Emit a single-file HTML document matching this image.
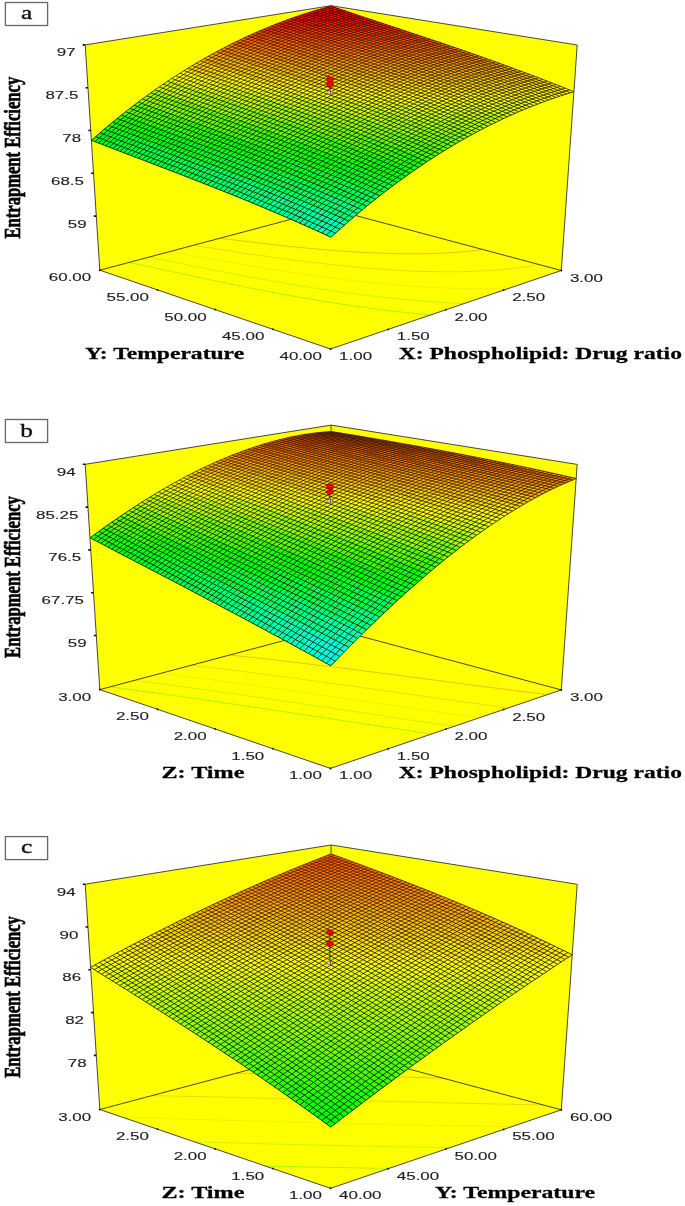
<!DOCTYPE html>
<html><head><meta charset="utf-8"><style>
html,body{margin:0;padding:0;background:#fff;}
svg{display:block;}
text{font-family:"Liberation Sans",Arial,sans-serif;}
.t{font-family:"Liberation Serif","Times New Roman",serif;font-weight:bold;font-size:16.3px;fill:#000;stroke:#000;stroke-width:0.45px;}
.s{font-family:"Liberation Serif","Times New Roman",serif;font-size:18.5px;fill:#111;stroke:#111;stroke-width:0.35px;}
</style></head><body>
<svg width="685" height="1206" viewBox="0 0 685 1206">
<g transform="translate(0 0.0)">
<path fill="#ffff00" d="M99.8 270.2L330.5 208.8L331.1 5.7L85.2 44.9ZM561.3 270.5L330.5 208.8L331.1 5.7L577.2 45ZM330.5 349L561.3 270.5L330.5 208.8L99.8 270.2Z"/>
<path fill="none" stroke="#4ce000" stroke-opacity="0.5" stroke-width="0.85" d="M430.5 315 417.5 313.8 405 312.5 392.5 311 380.5 309.6 368.7 308 356.8 306.4 343.2 304.4 332.2 302.7 318.8 300.5 308.3 298.7 295.4 296.5 282.8 294.2 271.7 292.1 260.6 290 248.7 287.7 236.9 285.3 225.3 282.9 213.8 280.6 202.6 278.2 191.5 275.8 180.5 273.5 169.6 271.1 158.9 268.8 148.2 266.5 137.7 264.2 129.3 262.4"/>
<path fill="none" stroke="#92e000" stroke-opacity="0.5" stroke-width="0.85" d="M463.9 303.6 451.7 303 439.3 302.3 425.9 301.3 414.7 300.4 403.1 299.4 391 298.1 378.4 296.8 365.3 295.2 353 293.6 341.8 292.1 329.6 290.3 317.5 288.5 306.1 286.7 294.1 284.7 281.5 282.6 271.6 280.9 259.4 278.7 247.5 276.5 235.7 274.3 225.8 272.4 214.9 270.3 203.6 268.1 192.4 265.9 181.3 263.7 170.4 261.5 159.5 259.3 148.7 257.2"/>
<path fill="none" stroke="#d8e000" stroke-opacity="0.5" stroke-width="0.85" d="M510 287.9 496.7 288.4 482.6 288.6 468.3 288.6 453.8 288.3 440.3 287.8 426 287.1 412 286.2 399.2 285.3 383.7 283.9 371.7 282.7 357.2 281.1 343 279.5 329.3 277.7 315.8 275.9 302.7 274 289.8 272.1 274.9 269.8 262.4 267.7 250.3 265.7 236 263.3 224.3 261.3 210.4 258.8 199 256.8 185.5 254.4 173.3 252.1 169.9 251.5"/>
<path fill="none" stroke="#e0aa00" stroke-opacity="0.5" stroke-width="0.85" d="M539.5 264.6 526.1 266.8 513.5 268.4 500.9 269.7 487.5 270.7 473.9 271.3 461.3 271.7 446.9 271.8 434.3 271.6 420 271.3 406.4 270.7 393.3 270 380 269.1 365.4 267.9 353.2 266.8 339.2 265.5 325.3 263.9 311.7 262.3 298.4 260.7 285.4 259 272.7 257.2 260.2 255.5 247.9 253.7 235.3 251.8 221.4 249.7 209.6 247.8 198 246 193.4 245.3"/>
<path fill="none" stroke="#e06b00" stroke-opacity="0.5" stroke-width="0.85" d="M483 249.5 472.9 250.8 462 251.9 450.3 252.7 440 253.3 427.7 253.7 417 253.8 405.8 253.8 394 253.6 383.7 253.3 372.9 252.9 361 252.3 349.8 251.6 339.7 250.9 328 250 316.5 249 305.4 248 294.4 246.9 283.7 245.8 273.2 244.6 262.6 243.4 250.4 241.9 239.9 240.7 230 239.4 220.1 238.1"/>
<path fill="none" stroke="#333" stroke-width="0.9" d="M99.8 270.2L85.2 44.9M561.3 270.5L577.2 45M85.2 44.9L331.1 5.7M331.1 5.7L577.2 45M99.8 270.2L330.5 208.8M330.5 208.8L561.3 270.5M330.5 349L561.3 270.5M330.5 349L99.8 270.2M331.1 5.7L330.5 208.8"/>
<path fill="#00ffab" stroke="#00ffab" stroke-width="0.6" d="M330.9 237.2L347.8 222.2 330.9 214.6 314 229.5Z"/>
<path fill="#00ff9e" stroke="#00ff9e" stroke-width="0.6" d="M314 229.5L330.9 214.6 314.3 207.3 297.5 222.2Z"/>
<path fill="#00ff92" stroke="#00ff92" stroke-width="0.6" d="M297.5 222.2L314.3 207.3 297.9 200.3 281.2 215.1Z"/>
<path fill="#00ff87" stroke="#00ff87" stroke-width="0.6" d="M281.2 215.1L297.9 200.3 281.9 193.6 265.1 208.3Z"/>
<path fill="#00ff7c" stroke="#00ff7c" stroke-width="0.6" d="M265.1 208.3L281.9 193.6 266 187.1 249.4 201.7Z"/>
<path fill="#00ff72" stroke="#00ff72" stroke-width="0.6" d="M249.4 201.7L266 187.1 250.5 180.9 233.8 195.4Z"/>
<path fill="#00ff69" stroke="#00ff69" stroke-width="0.6" d="M233.8 195.4L250.5 180.9 235.2 174.8 218.6 189.3Z"/>
<path fill="#00ff60" stroke="#00ff60" stroke-width="0.6" d="M218.6 189.3L235.2 174.8 220.1 169 203.5 183.4Z"/>
<path fill="#00ff58" stroke="#00ff58" stroke-width="0.6" d="M203.5 183.4L220.1 169 205.2 163.3 188.7 177.6Z"/>
<path fill="#00ff4f" stroke="#00ff4f" stroke-width="0.6" d="M188.7 177.6L205.2 163.3 190.6 157.7 174.2 172ZM281.9 193.6L298.4 179.8 282.6 173.4 266 187.1Z"/>
<path fill="#00ff47" stroke="#00ff47" stroke-width="0.6" d="M174.2 172L190.6 157.7 176.2 152.3 159.9 166.5Z"/>
<path fill="#00ff40" stroke="#00ff40" stroke-width="0.6" d="M159.9 166.5L176.2 152.3 162.1 147 145.7 161.1Z"/>
<path fill="#00ff38" stroke="#00ff38" stroke-width="0.6" d="M145.7 161.1L162.1 147 148.1 141.8 131.9 155.8Z"/>
<path fill="#00ff30" stroke="#00ff30" stroke-width="0.6" d="M131.9 155.8L148.1 141.8 134.4 136.6 118.2 150.6ZM380.9 194.8L397.2 182.5 380.2 175.1 364 187.4Z"/>
<path fill="#00ff28" stroke="#00ff28" stroke-width="0.6" d="M118.2 150.6L134.4 136.6 120.8 131.5 104.7 145.4Z"/>
<path fill="#00ff20" stroke="#00ff20" stroke-width="0.6" d="M104.7 145.4L120.8 131.5 107.5 126.4 91.4 140.3ZM205.2 163.3L221.6 149.8 206.9 144.4 190.6 157.7Z"/>
<path fill="#00ff7e" stroke="#00ff7e" stroke-width="0.6" d="M347.8 222.2L364.4 208 347.5 200.5 330.9 214.6Z"/>
<path fill="#00ff71" stroke="#00ff71" stroke-width="0.6" d="M330.9 214.6L347.5 200.5 330.9 193.3 314.3 207.3Z"/>
<path fill="#00ff65" stroke="#00ff65" stroke-width="0.6" d="M314.3 207.3L330.9 193.3 314.5 186.4 297.9 200.3Z"/>
<path fill="#00ff59" stroke="#00ff59" stroke-width="0.6" d="M297.9 200.3L314.5 186.4 298.4 179.8 281.9 193.6Z"/>
<path fill="#00ff44" stroke="#00ff44" stroke-width="0.6" d="M266 187.1L282.6 173.4 266.9 167.2 250.5 180.9Z"/>
<path fill="#00ff3b" stroke="#00ff3b" stroke-width="0.6" d="M250.5 180.9L266.9 167.2 251.6 161.2 235.2 174.8ZM330.9 193.3L347.3 180.3 330.9 173.4 314.5 186.4Z"/>
<path fill="#00ff32" stroke="#00ff32" stroke-width="0.6" d="M235.2 174.8L251.6 161.2 236.5 155.5 220.1 169Z"/>
<path fill="#00ff29" stroke="#00ff29" stroke-width="0.6" d="M220.1 169L236.5 155.5 221.6 149.8 205.2 163.3Z"/>
<path fill="#00ff18" stroke="#00ff18" stroke-width="0.6" d="M190.6 157.7L206.9 144.4 192.5 139 176.2 152.3Z"/>
<path fill="#00ff10" stroke="#00ff10" stroke-width="0.6" d="M176.2 152.3L192.5 139 178.3 133.8 162.1 147ZM266.9 167.2L283.2 154.4 267.8 148.5 251.6 161.2Z"/>
<path fill="#00ff08" stroke="#00ff08" stroke-width="0.6" d="M162.1 147L178.3 133.8 164.2 128.6 148.1 141.8Z"/>
<path fill="#01ff00" stroke="#01ff00" stroke-width="0.6" d="M148.1 141.8L164.2 128.6 150.5 123.5 134.4 136.6Z"/>
<path fill="#0dff00" stroke="#0dff00" stroke-width="0.6" d="M134.4 136.6L150.5 123.5 136.9 118.4 120.8 131.5Z"/>
<path fill="#19ff00" stroke="#19ff00" stroke-width="0.6" d="M120.8 131.5L136.9 118.4 123.5 113.4 107.5 126.4Z"/>
<path fill="#00ff55" stroke="#00ff55" stroke-width="0.6" d="M364.4 208L380.9 194.8 364 187.4 347.5 200.5Z"/>
<path fill="#00ff48" stroke="#00ff48" stroke-width="0.6" d="M347.5 200.5L364 187.4 347.3 180.3 330.9 193.3Z"/>
<path fill="#00ff2f" stroke="#00ff2f" stroke-width="0.6" d="M314.5 186.4L330.9 173.4 314.8 166.9 298.4 179.8Z"/>
<path fill="#00ff24" stroke="#00ff24" stroke-width="0.6" d="M298.4 179.8L314.8 166.9 298.9 160.5 282.6 173.4Z"/>
<path fill="#00ff1a" stroke="#00ff1a" stroke-width="0.6" d="M282.6 173.4L298.9 160.5 283.2 154.4 266.9 167.2Z"/>
<path fill="#00ff06" stroke="#00ff06" stroke-width="0.6" d="M251.6 161.2L267.8 148.5 252.7 142.8 236.5 155.5Z"/>
<path fill="#04ff00" stroke="#04ff00" stroke-width="0.6" d="M236.5 155.5L252.7 142.8 237.7 137.3 221.6 149.8ZM314.8 166.9L331 154.8 315 148.6 298.9 160.5Z"/>
<path fill="#11ff00" stroke="#11ff00" stroke-width="0.6" d="M221.6 149.8L237.7 137.3 223 131.9 206.9 144.4Z"/>
<path fill="#1dff00" stroke="#1dff00" stroke-width="0.6" d="M206.9 144.4L223 131.9 208.6 126.6 192.5 139Z"/>
<path fill="#29ff00" stroke="#29ff00" stroke-width="0.6" d="M192.5 139L208.6 126.6 194.3 121.4 178.3 133.8Z"/>
<path fill="#36ff00" stroke="#36ff00" stroke-width="0.6" d="M178.3 133.8L194.3 121.4 180.2 116.3 164.2 128.6Z"/>
<path fill="#42ff00" stroke="#42ff00" stroke-width="0.6" d="M164.2 128.6L180.2 116.3 166.4 111.2 150.5 123.5Z"/>
<path fill="#4eff00" stroke="#4eff00" stroke-width="0.6" d="M150.5 123.5L166.4 111.2 152.8 106.2 136.9 118.4Z"/>
<path fill="#5aff00" stroke="#5aff00" stroke-width="0.6" d="M136.9 118.4L152.8 106.2 139.3 101.2 123.5 113.4Z"/>
<path fill="#00ff22" stroke="#00ff22" stroke-width="0.6" d="M364 187.4L380.2 175.1 363.6 168.1 347.3 180.3Z"/>
<path fill="#00ff15" stroke="#00ff15" stroke-width="0.6" d="M347.3 180.3L363.6 168.1 347.1 161.3 330.9 173.4Z"/>
<path fill="#00ff09" stroke="#00ff09" stroke-width="0.6" d="M330.9 173.4L347.1 161.3 331 154.8 314.8 166.9Z"/>
<path fill="#13ff00" stroke="#13ff00" stroke-width="0.6" d="M298.9 160.5L315 148.6 299.3 142.5 283.2 154.4Z"/>
<path fill="#22ff00" stroke="#22ff00" stroke-width="0.6" d="M283.2 154.4L299.3 142.5 283.9 136.7 267.8 148.5Z"/>
<path fill="#30ff00" stroke="#30ff00" stroke-width="0.6" d="M267.8 148.5L283.9 136.7 268.7 131 252.7 142.8Z"/>
<path fill="#3eff00" stroke="#3eff00" stroke-width="0.6" d="M252.7 142.8L268.7 131 253.7 125.5 237.7 137.3Z"/>
<path fill="#4bff00" stroke="#4bff00" stroke-width="0.6" d="M237.7 137.3L253.7 125.5 239 120.2 223 131.9Z"/>
<path fill="#58ff00" stroke="#58ff00" stroke-width="0.6" d="M223 131.9L239 120.2 224.5 114.9 208.6 126.6Z"/>
<path fill="#65ff00" stroke="#65ff00" stroke-width="0.6" d="M208.6 126.6L224.5 114.9 210.2 109.8 194.3 121.4ZM283.9 136.7L299.8 125.7 284.6 120.1 268.7 131Z"/>
<path fill="#71ff00" stroke="#71ff00" stroke-width="0.6" d="M194.3 121.4L210.2 109.8 196.1 104.7 180.2 116.3Z"/>
<path fill="#7eff00" stroke="#7eff00" stroke-width="0.6" d="M180.2 116.3L196.1 104.7 182.2 99.7 166.4 111.2ZM427.6 143.3L443 134.2 426.2 127.4 410.9 136.4Z"/>
<path fill="#8aff00" stroke="#8aff00" stroke-width="0.6" d="M166.4 111.2L182.2 99.7 168.5 94.8 152.8 106.2ZM459.9 141.3L475 132.9 458.1 125.8 443 134.2Z"/>
<path fill="#97ff00" stroke="#97ff00" stroke-width="0.6" d="M152.8 106.2L168.5 94.8 155 89.8 139.3 101.2Z"/>
<path fill="#00ff0d" stroke="#00ff0d" stroke-width="0.6" d="M397.2 182.5L413.2 171 396.3 163.7 380.2 175.1Z"/>
<path fill="#02ff00" stroke="#02ff00" stroke-width="0.6" d="M380.2 175.1L396.3 163.7 379.6 156.7 363.6 168.1Z"/>
<path fill="#15ff00" stroke="#15ff00" stroke-width="0.6" d="M363.6 168.1L379.6 156.7 363.1 150 347.1 161.3Z"/>
<path fill="#26ff00" stroke="#26ff00" stroke-width="0.6" d="M347.1 161.3L363.1 150 346.9 143.6 331 154.8Z"/>
<path fill="#37ff00" stroke="#37ff00" stroke-width="0.6" d="M331 154.8L346.9 143.6 331 137.4 315 148.6Z"/>
<path fill="#47ff00" stroke="#47ff00" stroke-width="0.6" d="M315 148.6L331 137.4 315.3 131.4 299.3 142.5Z"/>
<path fill="#56ff00" stroke="#56ff00" stroke-width="0.6" d="M299.3 142.5L315.3 131.4 299.8 125.7 283.9 136.7Z"/>
<path fill="#73ff00" stroke="#73ff00" stroke-width="0.6" d="M268.7 131L284.6 120.1 269.6 114.6 253.7 125.5Z"/>
<path fill="#81ff00" stroke="#81ff00" stroke-width="0.6" d="M253.7 125.5L269.6 114.6 254.8 109.3 239 120.2Z"/>
<path fill="#8eff00" stroke="#8eff00" stroke-width="0.6" d="M239 120.2L254.8 109.3 240.2 104.1 224.5 114.9Z"/>
<path fill="#9bff00" stroke="#9bff00" stroke-width="0.6" d="M224.5 114.9L240.2 104.1 225.9 99 210.2 109.8Z"/>
<path fill="#a8ff00" stroke="#a8ff00" stroke-width="0.6" d="M210.2 109.8L225.9 99 211.8 94 196.1 104.7Z"/>
<path fill="#b5ff00" stroke="#b5ff00" stroke-width="0.6" d="M196.1 104.7L211.8 94 197.8 89 182.2 99.7Z"/>
<path fill="#c2ff00" stroke="#c2ff00" stroke-width="0.6" d="M182.2 99.7L197.8 89 184.1 84.1 168.5 94.8Z"/>
<path fill="#d0ff00" stroke="#d0ff00" stroke-width="0.6" d="M168.5 94.8L184.1 84.1 170.6 79.2 155 89.8ZM300.2 109.9L315.7 100.4 300.7 95.1 285.2 104.5Z"/>
<path fill="#1bff00" stroke="#1bff00" stroke-width="0.6" d="M413.2 171L429 160.3 412 153.1 396.3 163.7Z"/>
<path fill="#2fff00" stroke="#2fff00" stroke-width="0.6" d="M396.3 163.7L412 153.1 395.3 146.2 379.6 156.7Z"/>
<path fill="#43ff00" stroke="#43ff00" stroke-width="0.6" d="M379.6 156.7L395.3 146.2 378.9 139.5 363.1 150Z"/>
<path fill="#55ff00" stroke="#55ff00" stroke-width="0.6" d="M363.1 150L378.9 139.5 362.7 133.2 346.9 143.6Z"/>
<path fill="#66ff00" stroke="#66ff00" stroke-width="0.6" d="M346.9 143.6L362.7 133.2 346.7 127 331 137.4Z"/>
<path fill="#77ff00" stroke="#77ff00" stroke-width="0.6" d="M331 137.4L346.7 127 331 121.1 315.3 131.4Z"/>
<path fill="#86ff00" stroke="#86ff00" stroke-width="0.6" d="M315.3 131.4L331 121.1 315.5 115.4 299.8 125.7Z"/>
<path fill="#95ff00" stroke="#95ff00" stroke-width="0.6" d="M299.8 125.7L315.5 115.4 300.2 109.9 284.6 120.1Z"/>
<path fill="#a4ff00" stroke="#a4ff00" stroke-width="0.6" d="M284.6 120.1L300.2 109.9 285.2 104.5 269.6 114.6Z"/>
<path fill="#b2ff00" stroke="#b2ff00" stroke-width="0.6" d="M269.6 114.6L285.2 104.5 270.4 99.2 254.8 109.3ZM331 121.1L346.5 111.6 331 105.9 315.5 115.4Z"/>
<path fill="#c0ff00" stroke="#c0ff00" stroke-width="0.6" d="M254.8 109.3L270.4 99.2 255.8 94 240.2 104.1Z"/>
<path fill="#cdff00" stroke="#cdff00" stroke-width="0.6" d="M240.2 104.1L255.8 94 241.5 89 225.9 99Z"/>
<path fill="#daff00" stroke="#daff00" stroke-width="0.6" d="M225.9 99L241.5 89 227.3 84 211.8 94ZM393.6 114.6L408.7 106.4 392.7 100.4 377.6 108.6Z"/>
<path fill="#e8ff00" stroke="#e8ff00" stroke-width="0.6" d="M211.8 94L227.3 84 213.3 79.1 197.8 89Z"/>
<path fill="#f6ff00" stroke="#f6ff00" stroke-width="0.6" d="M197.8 89L213.3 79.1 199.6 74.2 184.1 84.1Z"/>
<path fill="#fffb00" stroke="#fffb00" stroke-width="0.6" d="M184.1 84.1L199.6 74.2 186 69.4 170.6 79.2Z"/>
<path fill="#44ff00" stroke="#44ff00" stroke-width="0.6" d="M429 160.3L444.6 150.4 427.6 143.3 412 153.1Z"/>
<path fill="#59ff00" stroke="#59ff00" stroke-width="0.6" d="M412 153.1L427.6 143.3 410.9 136.4 395.3 146.2Z"/>
<path fill="#6dff00" stroke="#6dff00" stroke-width="0.6" d="M395.3 146.2L410.9 136.4 394.4 129.8 378.9 139.5Z"/>
<path fill="#7fff00" stroke="#7fff00" stroke-width="0.6" d="M378.9 139.5L394.4 129.8 378.2 123.5 362.7 133.2Z"/>
<path fill="#91ff00" stroke="#91ff00" stroke-width="0.6" d="M362.7 133.2L378.2 123.5 362.2 117.5 346.7 127Z"/>
<path fill="#a2ff00" stroke="#a2ff00" stroke-width="0.6" d="M346.7 127L362.2 117.5 346.5 111.6 331 121.1Z"/>
<path fill="#c1ff00" stroke="#c1ff00" stroke-width="0.6" d="M315.5 115.4L331 105.9 315.7 100.4 300.2 109.9ZM489.9 125.2L504.5 118.1 487.6 111.2 472.9 118.2Z"/>
<path fill="#dfff00" stroke="#dfff00" stroke-width="0.6" d="M285.2 104.5L300.7 95.1 285.8 89.8 270.4 99.2Z"/>
<path fill="#edff00" stroke="#edff00" stroke-width="0.6" d="M270.4 99.2L285.8 89.8 271.2 84.7 255.8 94ZM487.6 111.2L502 104.8 485.3 98.2 470.9 104.5Z"/>
<path fill="#fbff00" stroke="#fbff00" stroke-width="0.6" d="M255.8 94L271.2 84.7 256.8 79.7 241.5 89Z"/>
<path fill="#fff700" stroke="#fff700" stroke-width="0.6" d="M241.5 89L256.8 79.7 242.7 74.8 227.3 84Z"/>
<path fill="#ffea00" stroke="#ffea00" stroke-width="0.6" d="M227.3 84L242.7 74.8 228.7 69.9 213.3 79.1Z"/>
<path fill="#ffde00" stroke="#ffde00" stroke-width="0.6" d="M213.3 79.1L228.7 69.9 214.9 65 199.6 74.2ZM271.2 84.7L286.5 76.1 272.1 71.1 256.8 79.7Z"/>
<path fill="#ffd100" stroke="#ffd100" stroke-width="0.6" d="M199.6 74.2L214.9 65 201.3 60.2 186 69.4ZM256.8 79.7L272.1 71.1 257.8 66.2 242.7 74.8ZM513.4 87.3L527.1 82.7 510.8 76.5 497 81.1Z"/>
<path fill="#69ff00" stroke="#69ff00" stroke-width="0.6" d="M444.6 150.4L459.9 141.3 443 134.2 427.6 143.3Z"/>
<path fill="#93ff00" stroke="#93ff00" stroke-width="0.6" d="M410.9 136.4L426.2 127.4 409.8 120.9 394.4 129.8Z"/>
<path fill="#a6ff00" stroke="#a6ff00" stroke-width="0.6" d="M394.4 129.8L409.8 120.9 393.6 114.6 378.2 123.5Z"/>
<path fill="#b8ff00" stroke="#b8ff00" stroke-width="0.6" d="M378.2 123.5L393.6 114.6 377.6 108.6 362.2 117.5Z"/>
<path fill="#c9ff00" stroke="#c9ff00" stroke-width="0.6" d="M362.2 117.5L377.6 108.6 361.8 102.8 346.5 111.6Z"/>
<path fill="#d9ff00" stroke="#d9ff00" stroke-width="0.6" d="M346.5 111.6L361.8 102.8 346.3 97.1 331 105.9Z"/>
<path fill="#e9ff00" stroke="#e9ff00" stroke-width="0.6" d="M331 105.9L346.3 97.1 331 91.7 315.7 100.4ZM518.8 111.7L533 105.9 516.1 99 502 104.8Z"/>
<path fill="#f8ff00" stroke="#f8ff00" stroke-width="0.6" d="M315.7 100.4L331 91.7 315.9 86.4 300.7 95.1ZM533 105.9L546.9 100.6 530 93.8 516.1 99Z"/>
<path fill="#fff800" stroke="#fff800" stroke-width="0.6" d="M300.7 95.1L315.9 86.4 301.1 81.2 285.8 89.8Z"/>
<path fill="#ffeb00" stroke="#ffeb00" stroke-width="0.6" d="M285.8 89.8L301.1 81.2 286.5 76.1 271.2 84.7ZM485.3 98.2L499.5 92.5 483.1 86.2 468.9 91.9Z"/>
<path fill="#ffc500" stroke="#ffc500" stroke-width="0.6" d="M242.7 74.8L257.8 66.2 243.8 61.4 228.7 69.9Z"/>
<path fill="#ffb800" stroke="#ffb800" stroke-width="0.6" d="M228.7 69.9L243.8 61.4 230 56.6 214.9 65ZM466.9 80.1L480.9 75 464.9 69.2 450.9 74.3Z"/>
<path fill="#ffab00" stroke="#ffab00" stroke-width="0.6" d="M214.9 65L230 56.6 216.4 51.8 201.3 60.2Z"/>
<path fill="#a0ff00" stroke="#a0ff00" stroke-width="0.6" d="M443 134.2L458.1 125.8 441.4 119.1 426.2 127.4Z"/>
<path fill="#b4ff00" stroke="#b4ff00" stroke-width="0.6" d="M426.2 127.4L441.4 119.1 424.9 112.6 409.8 120.9Z"/>
<path fill="#c8ff00" stroke="#c8ff00" stroke-width="0.6" d="M409.8 120.9L424.9 112.6 408.7 106.4 393.6 114.6Z"/>
<path fill="#ecff00" stroke="#ecff00" stroke-width="0.6" d="M377.6 108.6L392.7 100.4 376.9 94.7 361.8 102.8ZM456.2 111.5L470.9 104.5 454.4 98.2 439.8 105.1Z"/>
<path fill="#fdff00" stroke="#fdff00" stroke-width="0.6" d="M361.8 102.8L376.9 94.7 361.4 89.1 346.3 97.1Z"/>
<path fill="#fff300" stroke="#fff300" stroke-width="0.6" d="M346.3 97.1L361.4 89.1 346.1 83.7 331 91.7ZM560.5 95.9L573.9 91.7 557.2 85 543.7 89.1Z"/>
<path fill="#ffe500" stroke="#ffe500" stroke-width="0.6" d="M331 91.7L346.1 83.7 331 78.4 315.9 86.4ZM376.9 94.7L391.8 87.2 376.3 81.7 361.4 89.1ZM530 93.8L543.7 89.1 527.1 82.7 513.4 87.3Z"/>
<path fill="#ffd700" stroke="#ffd700" stroke-width="0.6" d="M315.9 86.4L331 78.4 316.2 73.2 301.1 81.2ZM361.4 89.1L376.3 81.7 361 76.3 346.1 83.7Z"/>
<path fill="#ffca00" stroke="#ffca00" stroke-width="0.6" d="M301.1 81.2L316.2 73.2 301.5 68.2 286.5 76.1ZM483.1 86.2L497 81.1 480.9 75 466.9 80.1Z"/>
<path fill="#ffbd00" stroke="#ffbd00" stroke-width="0.6" d="M286.5 76.1L301.5 68.2 287.1 63.2 272.1 71.1Z"/>
<path fill="#ffb000" stroke="#ffb000" stroke-width="0.6" d="M272.1 71.1L287.1 63.2 272.9 58.4 257.8 66.2Z"/>
<path fill="#ffa300" stroke="#ffa300" stroke-width="0.6" d="M257.8 66.2L272.9 58.4 258.8 53.6 243.8 61.4ZM494.7 70.5L508.2 66.4 492.3 60.7 478.7 64.7Z"/>
<path fill="#ff9600" stroke="#ff9600" stroke-width="0.6" d="M243.8 61.4L258.8 53.6 245 48.8 230 56.6ZM405.4 68.8L419.7 63.2 404.4 57.9 390.1 63.5ZM435.2 68.7L449.2 63.6 433.7 58.2 419.7 63.2Z"/>
<path fill="#ff8800" stroke="#ff8800" stroke-width="0.6" d="M230 56.6L245 48.8 231.3 44 216.4 51.8Z"/>
<path fill="#a7ff00" stroke="#a7ff00" stroke-width="0.6" d="M475 132.9L489.9 125.2 472.9 118.2 458.1 125.8Z"/>
<path fill="#bdff00" stroke="#bdff00" stroke-width="0.6" d="M458.1 125.8L472.9 118.2 456.2 111.5 441.4 119.1Z"/>
<path fill="#d2ff00" stroke="#d2ff00" stroke-width="0.6" d="M441.4 119.1L456.2 111.5 439.8 105.1 424.9 112.6Z"/>
<path fill="#e6ff00" stroke="#e6ff00" stroke-width="0.6" d="M424.9 112.6L439.8 105.1 423.6 98.9 408.7 106.4Z"/>
<path fill="#f9ff00" stroke="#f9ff00" stroke-width="0.6" d="M408.7 106.4L423.6 98.9 407.6 93 392.7 100.4Z"/>
<path fill="#fff500" stroke="#fff500" stroke-width="0.6" d="M392.7 100.4L407.6 93 391.8 87.2 376.9 94.7Z"/>
<path fill="#ffc800" stroke="#ffc800" stroke-width="0.6" d="M346.1 83.7L361 76.3 345.9 71.1 331 78.4Z"/>
<path fill="#ffba00" stroke="#ffba00" stroke-width="0.6" d="M331 78.4L345.9 71.1 331 65.9 316.2 73.2Z"/>
<path fill="#ffad00" stroke="#ffad00" stroke-width="0.6" d="M316.2 73.2L331 65.9 316.4 60.9 301.5 68.2Z"/>
<path fill="#ff9f00" stroke="#ff9f00" stroke-width="0.6" d="M301.5 68.2L316.4 60.9 301.9 56 287.1 63.2Z"/>
<path fill="#ff9200" stroke="#ff9200" stroke-width="0.6" d="M287.1 63.2L301.9 56 287.7 51.2 272.9 58.4Z"/>
<path fill="#ff8500" stroke="#ff8500" stroke-width="0.6" d="M272.9 58.4L287.7 51.2 273.6 46.4 258.8 53.6ZM316.4 60.9L331 54.3 316.6 49.4 301.9 56Z"/>
<path fill="#ff7700" stroke="#ff7700" stroke-width="0.6" d="M258.8 53.6L273.6 46.4 259.8 41.6 245 48.8ZM301.9 56L316.6 49.4 302.3 44.6 287.7 51.2ZM404.4 57.9L418.4 52.9 403.4 47.8 389.3 52.8Z"/>
<path fill="#ff6900" stroke="#ff6900" stroke-width="0.6" d="M245 48.8L259.8 41.6 246.1 36.9 231.3 44ZM360.2 53.2L374.4 47.7 359.8 42.8 345.5 48.3Z"/>
<path fill="#d7ff00" stroke="#d7ff00" stroke-width="0.6" d="M472.9 118.2L487.6 111.2 470.9 104.5 456.2 111.5ZM504.5 118.1L518.8 111.7 502 104.8 487.6 111.2Z"/>
<path fill="#fffe00" stroke="#fffe00" stroke-width="0.6" d="M439.8 105.1L454.4 98.2 438.2 92.1 423.6 98.9ZM502 104.8L516.1 99 499.5 92.5 485.3 98.2Z"/>
<path fill="#ffed00" stroke="#ffed00" stroke-width="0.6" d="M423.6 98.9L438.2 92.1 422.2 86.1 407.6 93Z"/>
<path fill="#ffdc00" stroke="#ffdc00" stroke-width="0.6" d="M407.6 93L422.2 86.1 406.5 80.4 391.8 87.2Z"/>
<path fill="#ffcd00" stroke="#ffcd00" stroke-width="0.6" d="M391.8 87.2L406.5 80.4 391 74.9 376.3 81.7Z"/>
<path fill="#ffbe00" stroke="#ffbe00" stroke-width="0.6" d="M376.3 81.7L391 74.9 375.7 69.6 361 76.3ZM497 81.1L510.8 76.5 494.7 70.5 480.9 75Z"/>
<path fill="#ffaf00" stroke="#ffaf00" stroke-width="0.6" d="M361 76.3L375.7 69.6 360.6 64.4 345.9 71.1Z"/>
<path fill="#ffa100" stroke="#ffa100" stroke-width="0.6" d="M345.9 71.1L360.6 64.4 345.7 59.3 331 65.9Z"/>
<path fill="#ff9300" stroke="#ff9300" stroke-width="0.6" d="M331 65.9L345.7 59.3 331 54.3 316.4 60.9Z"/>
<path fill="#ff6a00" stroke="#ff6a00" stroke-width="0.6" d="M287.7 51.2L302.3 44.6 288.3 39.8 273.6 46.4ZM418.4 52.9L432.3 48.5 417.2 43.4 403.4 47.8Z"/>
<path fill="#ff5c00" stroke="#ff5c00" stroke-width="0.6" d="M273.6 46.4L288.3 39.8 274.4 35.1 259.8 41.6Z"/>
<path fill="#ff4e00" stroke="#ff4e00" stroke-width="0.6" d="M259.8 41.6L274.4 35.1 260.7 30.4 246.1 36.9Z"/>
<path fill="#fffc00" stroke="#fffc00" stroke-width="0.6" d="M470.9 104.5L485.3 98.2 468.9 91.9 454.4 98.2Z"/>
<path fill="#ffe900" stroke="#ffe900" stroke-width="0.6" d="M454.4 98.2L468.9 91.9 452.7 85.8 438.2 92.1Z"/>
<path fill="#ffd800" stroke="#ffd800" stroke-width="0.6" d="M438.2 92.1L452.7 85.8 436.7 79.9 422.2 86.1ZM468.9 91.9L483.1 86.2 466.9 80.1 452.7 85.8Z"/>
<path fill="#ffc700" stroke="#ffc700" stroke-width="0.6" d="M422.2 86.1L436.7 79.9 421 74.3 406.5 80.4Z"/>
<path fill="#ffb700" stroke="#ffb700" stroke-width="0.6" d="M406.5 80.4L421 74.3 405.4 68.8 391 74.9Z"/>
<path fill="#ffa800" stroke="#ffa800" stroke-width="0.6" d="M391 74.9L405.4 68.8 390.1 63.5 375.7 69.6Z"/>
<path fill="#ff9900" stroke="#ff9900" stroke-width="0.6" d="M375.7 69.6L390.1 63.5 375 58.3 360.6 64.4Z"/>
<path fill="#ff8b00" stroke="#ff8b00" stroke-width="0.6" d="M360.6 64.4L375 58.3 360.2 53.2 345.7 59.3Z"/>
<path fill="#ff7c00" stroke="#ff7c00" stroke-width="0.6" d="M345.7 59.3L360.2 53.2 345.5 48.3 331 54.3Z"/>
<path fill="#ff6e00" stroke="#ff6e00" stroke-width="0.6" d="M331 54.3L345.5 48.3 331 43.4 316.6 49.4Z"/>
<path fill="#ff6000" stroke="#ff6000" stroke-width="0.6" d="M316.6 49.4L331 43.4 316.8 38.6 302.3 44.6ZM432.3 48.5L445.9 44.5 430.9 39.4 417.2 43.4Z"/>
<path fill="#ff5200" stroke="#ff5200" stroke-width="0.6" d="M302.3 44.6L316.8 38.6 302.7 33.8 288.3 39.8Z"/>
<path fill="#ff4400" stroke="#ff4400" stroke-width="0.6" d="M288.3 39.8L302.7 33.8 288.8 29.1 274.4 35.1Z"/>
<path fill="#ff3500" stroke="#ff3500" stroke-width="0.6" d="M274.4 35.1L288.8 29.1 275.2 24.4 260.7 30.4Z"/>
<path fill="#ffc600" stroke="#ffc600" stroke-width="0.6" d="M452.7 85.8L466.9 80.1 450.9 74.3 436.7 79.9Z"/>
<path fill="#ffb600" stroke="#ffb600" stroke-width="0.6" d="M436.7 79.9L450.9 74.3 435.2 68.7 421 74.3ZM510.8 76.5L524.3 72.4 508.2 66.4 494.7 70.5Z"/>
<path fill="#ffa500" stroke="#ffa500" stroke-width="0.6" d="M421 74.3L435.2 68.7 419.7 63.2 405.4 68.8Z"/>
<path fill="#ff8600" stroke="#ff8600" stroke-width="0.6" d="M390.1 63.5L404.4 57.9 389.3 52.8 375 58.3ZM419.7 63.2L433.7 58.2 418.4 52.9 404.4 57.9Z"/>
<path fill="#ff7800" stroke="#ff7800" stroke-width="0.6" d="M375 58.3L389.3 52.8 374.4 47.7 360.2 53.2Z"/>
<path fill="#ff5b00" stroke="#ff5b00" stroke-width="0.6" d="M345.5 48.3L359.8 42.8 345.3 38 331 43.4Z"/>
<path fill="#ff4c00" stroke="#ff4c00" stroke-width="0.6" d="M331 43.4L345.3 38 331 33.2 316.8 38.6Z"/>
<path fill="#ff3e00" stroke="#ff3e00" stroke-width="0.6" d="M316.8 38.6L331 33.2 317 28.4 302.7 33.8Z"/>
<path fill="#ff2f00" stroke="#ff2f00" stroke-width="0.6" d="M302.7 33.8L317 28.4 303.1 23.8 288.8 29.1Z"/>
<path fill="#ff2000" stroke="#ff2000" stroke-width="0.6" d="M288.8 29.1L303.1 23.8 289.4 19.1 275.2 24.4Z"/>
<path fill="#fff000" stroke="#fff000" stroke-width="0.6" d="M516.1 99L530 93.8 513.4 87.3 499.5 92.5Z"/>
<path fill="#ffdd00" stroke="#ffdd00" stroke-width="0.6" d="M499.5 92.5L513.4 87.3 497 81.1 483.1 86.2ZM543.7 89.1L557.2 85 540.6 78.5 527.1 82.7Z"/>
<path fill="#ffa700" stroke="#ffa700" stroke-width="0.6" d="M450.9 74.3L464.9 69.2 449.2 63.6 435.2 68.7Z"/>
<path fill="#ff6800" stroke="#ff6800" stroke-width="0.6" d="M389.3 52.8L403.4 47.8 388.5 42.8 374.4 47.7Z"/>
<path fill="#ff5900" stroke="#ff5900" stroke-width="0.6" d="M374.4 47.7L388.5 42.8 373.8 37.9 359.8 42.8Z"/>
<path fill="#ff4a00" stroke="#ff4a00" stroke-width="0.6" d="M359.8 42.8L373.8 37.9 359.4 33.1 345.3 38Z"/>
<path fill="#ff3b00" stroke="#ff3b00" stroke-width="0.6" d="M345.3 38L359.4 33.1 345.1 28.3 331 33.2Z"/>
<path fill="#ff2c00" stroke="#ff2c00" stroke-width="0.6" d="M331 33.2L345.1 28.3 331 23.6 317 28.4Z"/>
<path fill="#ff1e00" stroke="#ff1e00" stroke-width="0.6" d="M317 28.4L331 23.6 317.2 18.9 303.1 23.8ZM345.1 28.3L359 23.9 344.9 19.2 331 23.6Z"/>
<path fill="#ff0e00" stroke="#ff0e00" stroke-width="0.6" d="M303.1 23.8L317.2 18.9 303.5 14.2 289.4 19.1Z"/>
<path fill="#fffa00" stroke="#fffa00" stroke-width="0.6" d="M546.9 100.6L560.5 95.9 543.7 89.1 530 93.8Z"/>
<path fill="#ffac00" stroke="#ffac00" stroke-width="0.6" d="M480.9 75L494.7 70.5 478.7 64.7 464.9 69.2Z"/>
<path fill="#ff9b00" stroke="#ff9b00" stroke-width="0.6" d="M464.9 69.2L478.7 64.7 463 59.1 449.2 63.6Z"/>
<path fill="#ff8a00" stroke="#ff8a00" stroke-width="0.6" d="M449.2 63.6L463 59.1 447.6 53.7 433.7 58.2Z"/>
<path fill="#ff7a00" stroke="#ff7a00" stroke-width="0.6" d="M433.7 58.2L447.6 53.7 432.3 48.5 418.4 52.9Z"/>
<path fill="#ff5a00" stroke="#ff5a00" stroke-width="0.6" d="M403.4 47.8L417.2 43.4 402.4 38.4 388.5 42.8Z"/>
<path fill="#ff4b00" stroke="#ff4b00" stroke-width="0.6" d="M388.5 42.8L402.4 38.4 387.7 33.5 373.8 37.9Z"/>
<path fill="#ff3c00" stroke="#ff3c00" stroke-width="0.6" d="M373.8 37.9L387.7 33.5 373.3 28.7 359.4 33.1Z"/>
<path fill="#ff2d00" stroke="#ff2d00" stroke-width="0.6" d="M359.4 33.1L373.3 28.7 359 23.9 345.1 28.3Z"/>
<path fill="#ff0f00" stroke="#ff0f00" stroke-width="0.6" d="M331 23.6L344.9 19.2 331 14.6 317.2 18.9Z"/>
<path fill="#ff0000" stroke="#ff0000" stroke-width="0.6" d="M317.2 18.9L331 14.6 317.4 9.9 303.5 14.2ZM331 14.6L344.7 10.7 331.1 6.1 317.4 9.9Z"/>
<path fill="#ffc900" stroke="#ffc900" stroke-width="0.6" d="M527.1 82.7L540.6 78.5 524.3 72.4 510.8 76.5Z"/>
<path fill="#ff9100" stroke="#ff9100" stroke-width="0.6" d="M478.7 64.7L492.3 60.7 476.6 55.1 463 59.1Z"/>
<path fill="#ff8000" stroke="#ff8000" stroke-width="0.6" d="M463 59.1L476.6 55.1 461.2 49.7 447.6 53.7Z"/>
<path fill="#ff7000" stroke="#ff7000" stroke-width="0.6" d="M447.6 53.7L461.2 49.7 445.9 44.5 432.3 48.5Z"/>
<path fill="#ff5000" stroke="#ff5000" stroke-width="0.6" d="M417.2 43.4L430.9 39.4 416 34.5 402.4 38.4Z"/>
<path fill="#ff4100" stroke="#ff4100" stroke-width="0.6" d="M402.4 38.4L416 34.5 401.4 29.6 387.7 33.5Z"/>
<path fill="#ff3100" stroke="#ff3100" stroke-width="0.6" d="M387.7 33.5L401.4 29.6 386.9 24.8 373.3 28.7Z"/>
<path fill="#ff2200" stroke="#ff2200" stroke-width="0.6" d="M373.3 28.7L386.9 24.8 372.7 20.1 359 23.9Z"/>
<path fill="#ff1300" stroke="#ff1300" stroke-width="0.6" d="M359 23.9L372.7 20.1 358.6 15.4 344.9 19.2Z"/>
<path fill="#ff0300" stroke="#ff0300" stroke-width="0.6" d="M344.9 19.2L358.6 15.4 344.7 10.7 331 14.6Z"/>
<linearGradient id="lga" gradientUnits="userSpaceOnUse" x1="0" y1="0" x2="0" y2="250"><stop offset="0" stop-color="#000" stop-opacity="0.5"/><stop offset="0.12" stop-color="#000" stop-opacity="0.6"/><stop offset="0.4" stop-color="#000" stop-opacity="0.8"/><stop offset="1" stop-color="#000" stop-opacity="0.85"/></linearGradient>
<path fill="none" stroke="url(#lga)" stroke-width="0.9" d="M330.9 237.2 314 229.5 297.5 222.2 281.2 215.1 265.1 208.3 249.4 201.7 233.8 195.4 218.6 189.3 203.5 183.4 188.7 177.6 174.2 172 159.9 166.5 145.7 161.1 131.9 155.8 118.2 150.6 104.7 145.4 91.4 140.3M335.4 233.1 318.5 225.4 302 218.1 285.7 211 269.6 204.3 253.8 197.7 238.3 191.4 223 185.3 208 179.4 193.2 173.7 178.6 168.1 164.2 162.6 150.1 157.3 136.2 152 122.5 146.8 109 141.6 95.7 136.5M339.9 229.1 323 221.4 306.5 214.1 290.1 207.1 274.1 200.3 258.3 193.8 242.7 187.5 227.4 181.5 212.4 175.6 197.6 169.9 183 164.3 168.6 158.8 154.5 153.5 140.5 148.2 126.8 143 113.3 137.9 100 132.8M344.4 225.1 327.5 217.5 310.9 210.2 294.6 203.2 278.5 196.4 262.7 189.9 247.2 183.7 231.9 177.6 216.8 171.8 201.9 166.1 187.3 160.5 173 155.1 158.8 149.8 144.9 144.5 131.1 139.4 117.6 134.2 104.3 129.1M348.9 221.2 332 213.6 315.4 206.3 299.1 199.3 283 192.6 267.2 186.1 251.6 179.9 236.3 173.9 221.2 168 206.3 162.4 191.7 156.8 177.3 151.4 163.2 146.1 149.2 140.9 135.5 135.7 121.9 130.6 108.6 125.5M353.3 217.4 336.5 209.8 319.8 202.5 303.5 195.6 287.4 188.9 271.6 182.4 256 176.2 240.7 170.2 225.6 164.4 210.7 158.7 196.1 153.2 181.7 147.8 167.5 142.5 153.5 137.3 139.8 132.2 126.2 127.1 112.8 122M357.8 213.6 340.9 206 324.3 198.8 307.9 191.8 291.8 185.2 276 178.8 260.4 172.6 245 166.6 229.9 160.8 215.1 155.1 200.4 149.6 186 144.2 171.8 139 157.8 133.8 144 128.6 130.5 123.6 117.1 118.5M362.2 209.9 345.3 202.3 328.7 195.1 312.3 188.2 296.2 181.6 280.4 175.2 264.8 169 249.4 163 234.3 157.2 219.4 151.6 204.7 146.1 190.3 140.7 176.1 135.5 162.1 130.3 148.3 125.2 134.7 120.1 121.3 115.1M366.7 206.2 349.7 198.7 333.1 191.5 316.7 184.6 300.6 178 284.7 171.6 269.1 165.5 253.8 159.5 238.6 153.7 223.7 148.1 209.1 142.7 194.6 137.3 180.4 132.1 166.4 126.9 152.6 121.8 139 116.8 125.6 111.7M371.1 202.6 354.1 195.2 337.5 188 321.1 181.1 305 174.5 289.1 168.1 273.5 162 258.1 156.1 243 150.3 228.1 144.7 213.4 139.3 198.9 133.9 184.7 128.7 170.7 123.6 156.8 118.5 143.2 113.4 129.8 108.4M375.4 199.1 358.5 191.7 341.9 184.5 325.5 177.7 309.4 171.1 293.5 164.7 277.8 158.6 262.4 152.7 247.3 146.9 232.4 141.4 217.7 135.9 203.2 130.6 189 125.4 174.9 120.3 161.1 115.2 147.5 110.2 134.1 105.2M379.8 195.7 362.9 188.2 346.2 181.1 329.8 174.3 313.7 167.7 297.8 161.4 282.2 155.3 266.8 149.4 251.6 143.6 236.7 138.1 222 132.7 207.5 127.4 193.2 122.2 179.2 117 165.3 112 151.7 107 138.3 102M384.2 192.3 367.3 184.9 350.6 177.7 334.2 170.9 318 164.4 302.1 158.1 286.5 152 271.1 146.1 255.9 140.4 241 134.9 226.2 129.5 211.7 124.2 197.5 119 183.4 113.9 169.6 108.8 155.9 103.9 142.5 98.9M388.5 188.9 371.6 181.5 354.9 174.5 338.5 167.7 322.4 161.1 306.4 154.8 290.8 148.8 275.4 142.9 260.2 137.2 245.2 131.7 230.5 126.3 216 121 201.7 115.9 187.7 110.8 173.8 105.7 160.1 100.8 146.7 95.8M392.9 185.7 375.9 178.3 359.2 171.2 342.8 164.5 326.7 157.9 310.7 151.7 295.1 145.6 279.6 139.8 264.4 134.1 249.5 128.6 234.8 123.2 220.2 118 206 112.8 191.9 107.7 178 102.7 164.3 97.7 150.9 92.8M397.2 182.5 380.2 175.1 363.6 168.1 347.1 161.3 331 154.8 315 148.6 299.3 142.5 283.9 136.7 268.7 131 253.7 125.5 239 120.2 224.5 114.9 210.2 109.8 196.1 104.7 182.2 99.7 168.5 94.8 155 89.8M401.5 179.3 384.5 172 367.8 165 351.4 158.2 335.2 151.7 319.3 145.5 303.6 139.5 288.2 133.7 273 128 258 122.5 243.2 117.2 228.7 112 214.4 106.8 200.3 101.8 186.4 96.8 172.7 91.9 159.2 86.9M405.8 176.2 388.8 168.9 372.1 161.9 355.7 155.2 339.5 148.7 323.6 142.5 307.9 136.5 292.4 130.7 277.2 125.1 262.2 119.6 247.4 114.3 232.9 109.1 218.6 103.9 204.5 98.9 190.6 93.9 176.9 89 163.4 84.1M410 173.2 393.1 165.9 376.4 158.9 359.9 152.2 343.7 145.8 327.8 139.6 312.1 133.6 296.6 127.8 281.4 122.2 266.4 116.7 251.6 111.4 237.1 106.2 222.8 101.1 208.6 96.1 194.7 91.1 181 86.2 167.5 81.3M414.3 170.2 397.3 163 380.6 156 364.2 149.3 348 142.9 332 136.7 316.3 130.7 300.9 124.9 285.6 119.3 270.6 113.9 255.8 108.6 241.3 103.4 226.9 98.3 212.8 93.3 198.9 88.3 185.2 83.4 171.6 78.5M418.5 167.3 401.5 160.1 384.8 153.1 368.4 146.4 352.2 140 336.2 133.9 320.5 127.9 305.1 122.2 289.8 116.6 274.8 111.1 260 105.8 245.5 100.7 231.1 95.6 217 90.6 203 85.6 189.3 80.7 175.8 75.9M422.7 164.5 405.8 157.2 389.1 150.3 372.6 143.6 356.4 137.3 340.4 131.1 324.7 125.2 309.2 119.4 294 113.8 279 108.4 264.2 103.1 249.6 98 235.3 92.9 221.1 87.9 207.2 83 193.4 78.1 179.9 73.2M426.9 161.7 410 154.5 393.2 147.5 376.8 140.9 360.6 134.5 344.6 128.4 328.9 122.5 313.4 116.7 298.2 111.2 283.1 105.8 268.3 100.5 253.8 95.3 239.4 90.3 225.2 85.3 211.3 80.4 197.5 75.5 184 70.6M431.1 158.9 414.1 151.7 397.4 144.8 381 138.2 364.8 131.8 348.8 125.7 333.1 119.8 317.6 114.1 302.3 108.6 287.3 103.2 272.5 97.9 257.9 92.8 243.5 87.7 229.4 82.7 215.4 77.8 201.6 72.9 188.1 68.1M435.3 156.2 418.3 149.1 401.6 142.2 385.1 135.6 368.9 129.2 352.9 123.1 337.2 117.2 321.7 111.5 306.5 106 291.4 100.6 276.6 95.4 262 90.2 247.6 85.2 233.5 80.2 219.5 75.3 205.7 70.5 192.2 65.6M439.4 153.6 422.5 146.4 405.7 139.6 389.3 133 373.1 126.7 357.1 120.6 341.4 114.7 325.9 109 310.6 103.5 295.5 98.1 280.7 92.9 266.1 87.7 251.7 82.7 237.6 77.8 223.6 72.9 209.8 68 196.2 63.2M443.5 151 426.6 143.9 409.9 137 393.4 130.5 377.2 124.2 361.2 118.1 345.5 112.2 330 106.5 314.7 101 299.7 95.7 284.8 90.4 270.2 85.3 255.8 80.3 241.6 75.4 227.7 70.5 213.9 65.6 200.3 60.8M447.7 148.5 430.7 141.4 414 134.6 397.5 128 381.3 121.7 365.3 115.6 349.6 109.8 334.1 104.1 318.8 98.6 303.7 93.3 288.9 88 274.3 82.9 259.9 77.9 245.7 73 231.7 68.1 217.9 63.3 204.3 58.5M451.8 146.1 434.8 138.9 418.1 132.1 401.6 125.6 385.4 119.3 369.4 113.2 353.7 107.4 338.2 101.7 322.9 96.2 307.8 90.9 293 85.7 278.4 80.6 264 75.6 249.8 70.7 235.8 65.8 222 61 208.4 56.2M455.8 143.6 438.9 136.5 422.2 129.7 405.7 123.2 389.5 116.9 373.5 110.9 357.8 105.1 342.2 99.4 327 93.9 311.9 88.6 297.1 83.4 282.4 78.3 268 73.4 253.8 68.4 239.8 63.6 226 58.8 212.4 54M459.9 141.3 443 134.2 426.2 127.4 409.8 120.9 393.6 114.6 377.6 108.6 361.8 102.8 346.3 97.1 331 91.7 315.9 86.4 301.1 81.2 286.5 76.1 272.1 71.1 257.8 66.2 243.8 61.4 230 56.6 216.4 51.8M464 139 447 131.9 430.3 125.1 413.8 118.6 397.6 112.4 381.6 106.4 365.9 100.5 350.3 94.9 335.1 89.5 320 84.2 305.1 79 290.5 73.9 276.1 69 261.9 64.1 247.8 59.2 234 54.4 220.4 49.6M468 136.7 451 129.6 434.3 122.9 417.9 116.4 401.6 110.2 385.7 104.2 369.9 98.4 354.4 92.8 339.1 87.3 324 82 309.2 76.9 294.5 71.8 280.1 66.8 265.9 62 251.9 57.1 238 52.3 224.4 47.6M472 134.5 455.1 127.5 438.3 120.7 421.9 114.2 405.7 108 389.7 102 373.9 96.2 358.4 90.6 343.1 85.2 328 79.9 313.2 74.8 298.5 69.7 284.1 64.8 269.9 59.9 255.8 55.1 242 50.3 228.4 45.5M476 132.3 459.1 125.3 442.4 118.6 425.9 112.1 409.7 105.9 393.7 99.9 377.9 94.2 362.4 88.6 347.1 83.1 332 77.9 317.2 72.7 302.5 67.7 288.1 62.7 273.8 57.9 259.8 53.1 246 48.3 232.3 43.5M480 130.2 463 123.2 446.3 116.5 429.9 110 413.7 103.9 397.7 97.9 381.9 92.1 366.4 86.5 351.1 81.1 336 75.9 321.1 70.7 306.5 65.7 292.1 60.8 277.8 55.9 263.8 51.1 249.9 46.3 236.3 41.6M483.9 128.2 467 121.2 450.3 114.5 433.8 108 417.6 101.8 401.6 95.9 385.9 90.1 370.4 84.6 355.1 79.2 340 73.9 325.1 68.8 310.5 63.8 296 58.8 281.8 54 267.7 49.2 253.9 44.4 240.2 39.7M487.9 126.1 471 119.2 454.3 112.5 437.8 106.1 421.6 99.9 405.6 93.9 389.8 88.2 374.3 82.6 359 77.2 343.9 72 329.1 66.9 314.4 61.9 300 56.9 285.7 52.1 271.7 47.3 257.8 42.5 244.2 37.8M491.8 124.2 474.9 117.2 458.2 110.5 441.7 104.1 425.5 98 409.5 92 393.8 86.3 378.3 80.8 363 75.4 347.9 70.1 333 65 318.3 60 303.9 55.1 289.6 50.3 275.6 45.5 261.7 40.7 248.1 36M495.7 122.3 478.8 115.3 462.1 108.6 445.7 102.2 429.5 96.1 413.5 90.2 397.7 84.4 382.2 78.9 366.9 73.5 351.8 68.3 336.9 63.2 322.3 58.2 307.8 53.3 293.6 48.5 279.5 43.7 265.7 38.9 252 34.2M499.6 120.4 482.7 113.4 466 106.8 449.6 100.4 433.4 94.3 417.4 88.4 401.6 82.6 386.1 77.1 370.8 71.8 355.7 66.5 340.8 61.4 326.2 56.4 311.7 51.5 297.5 46.7 283.4 41.9 269.5 37.2 255.9 32.5M503.5 118.6 486.6 111.6 469.9 105 453.5 98.6 437.3 92.5 421.3 86.6 405.5 80.9 390 75.4 374.7 70 359.6 64.8 344.7 59.7 330.1 54.7 315.6 49.8 301.4 45 287.3 40.2 273.4 35.5 259.8 30.8M507.4 116.8 490.5 109.9 473.8 103.2 457.3 96.9 441.1 90.8 425.2 84.9 409.4 79.2 393.9 73.7 378.6 68.3 363.5 63.1 348.6 58 333.9 53 319.5 48.2 305.2 43.3 291.2 38.6 277.3 33.8 263.6 29.1M511.2 115 494.3 108.1 477.6 101.5 461.2 95.2 445 89.1 429 83.2 413.3 77.5 397.7 72 382.4 66.7 367.4 61.5 352.5 56.4 337.8 51.4 323.4 46.5 309.1 41.7 295 37 281.2 32.2 267.5 27.5M515 113.3 498.1 106.4 481.5 99.8 465 93.5 448.8 87.4 432.9 81.5 417.1 75.9 401.6 70.4 386.3 65 371.2 59.8 356.3 54.8 341.7 49.8 327.2 44.9 312.9 40.1 298.9 35.4 285 30.7 271.3 26M518.8 111.7 502 104.8 485.3 98.2 468.9 91.9 452.7 85.8 436.7 79.9 421 74.3 405.4 68.8 390.1 63.5 375 58.3 360.2 53.2 345.5 48.3 331 43.4 316.8 38.6 302.7 33.8 288.8 29.1 275.2 24.4M522.6 110.1 505.8 103.2 489.1 96.6 472.7 90.3 456.5 84.2 440.5 78.4 424.8 72.7 409.3 67.3 394 61.9 378.9 56.8 364 51.7 349.3 46.8 334.9 41.9 320.6 37.1 306.5 32.4 292.7 27.6 279 23M526.4 108.5 509.5 101.7 492.9 95.1 476.5 88.8 460.3 82.7 444.3 76.9 428.6 71.2 413.1 65.8 397.8 60.4 382.7 55.3 367.8 50.2 353.1 45.3 338.7 40.4 324.4 35.6 310.3 30.9 296.5 26.2 282.8 21.5M530.2 107 513.3 100.1 496.7 93.6 480.2 87.3 464.1 81.2 448.1 75.4 432.4 69.8 416.9 64.3 401.6 59 386.5 53.8 371.6 48.8 356.9 43.9 342.5 39 328.2 34.2 314.1 29.5 300.3 24.8 286.6 20.1M533.9 105.5 517 98.7 500.4 92.1 484 85.8 467.8 79.8 451.9 74 436.1 68.3 420.6 62.9 405.3 57.6 390.3 52.4 375.4 47.4 360.7 42.5 346.3 37.6 332 32.8 317.9 28.1 304 23.4 290.3 18.7M537.6 104 520.8 97.2 504.2 90.7 487.8 84.4 471.6 78.4 455.6 72.6 439.9 66.9 424.4 61.5 409.1 56.2 394 51.1 379.2 46 364.5 41.1 350 36.3 335.8 31.5 321.7 26.8 307.8 22.1 294.1 17.4M541.3 102.6 524.5 95.8 507.9 89.3 491.5 83 475.3 77 459.4 71.2 443.6 65.6 428.1 60.2 412.9 54.9 397.8 49.7 382.9 44.7 368.2 39.8 353.8 35 339.5 30.2 325.4 25.5 311.6 20.8 297.9 16.1M545 101.3 528.2 94.5 511.6 88 495.2 81.7 479 75.7 463.1 69.9 447.4 64.3 431.9 58.9 416.6 53.6 401.5 48.4 386.6 43.4 372 38.5 357.5 33.7 343.3 28.9 329.2 24.2 315.3 19.5 301.6 14.9M548.7 99.9 531.9 93.2 515.3 86.7 498.9 80.4 482.7 74.4 466.8 68.6 451.1 63 435.6 57.6 420.3 52.3 405.2 47.2 390.4 42.2 375.7 37.3 361.2 32.4 347 27.7 332.9 23 319 18.3 305.3 13.6M552.4 98.7 535.5 91.9 518.9 85.4 502.6 79.2 486.4 73.2 470.5 67.4 454.8 61.8 439.3 56.4 424 51.1 408.9 46 394.1 41 379.4 36.1 365 31.2 350.7 26.5 336.6 21.8 322.7 17.1 309 12.5M556 97.4 539.2 90.6 522.6 84.2 506.2 77.9 490.1 71.9 474.2 66.2 458.5 60.6 443 55.2 427.7 49.9 412.6 44.8 397.8 39.8 383.1 34.9 368.7 30.1 354.4 25.3 340.3 20.6 326.4 16 312.7 11.3M559.6 96.2 542.8 89.4 526.2 83 509.9 76.7 493.7 70.8 477.8 65 462.1 59.4 446.6 54 431.4 48.8 416.3 43.7 401.5 38.7 386.8 33.8 372.3 29 358.1 24.2 344 19.5 330.1 14.8 316.4 10.2M563.2 95 546.4 88.3 529.9 81.8 513.5 75.6 497.4 69.6 481.5 63.9 465.8 58.3 450.3 52.9 435 47.7 420 42.5 405.1 37.6 390.5 32.7 376 27.9 361.8 23.1 347.7 18.4 333.8 13.8 320.1 9.1M566.8 93.9 550 87.1 533.5 80.7 517.1 74.5 501 68.5 485.1 62.8 469.4 57.2 453.9 51.8 438.7 46.6 423.6 41.5 408.8 36.5 394.1 31.6 379.7 26.8 365.4 22.1 351.3 17.4 337.5 12.7 323.8 8.1M570.4 92.8 553.6 86 537.1 79.6 520.7 73.4 504.6 67.4 488.7 61.7 473 56.1 457.6 50.8 442.3 45.5 427.3 40.4 412.4 35.5 397.8 30.6 383.3 25.8 369.1 21 355 16.4 341.1 11.7 327.4 7.1M573.9 91.7 557.2 85 540.6 78.5 524.3 72.4 508.2 66.4 492.3 60.7 476.6 55.1 461.2 49.7 445.9 44.5 430.9 39.4 416 34.5 401.4 29.6 386.9 24.8 372.7 20.1 358.6 15.4 344.7 10.7 331.1 6.1M330.9 237.2 347.8 222.2 364.4 208 380.9 194.8 397.2 182.5 413.2 171 429 160.3 444.6 150.4 459.9 141.3 475 132.9 489.9 125.2 504.5 118.1 518.8 111.7 533 105.9 546.9 100.6 560.5 95.9 573.9 91.7M326.3 235.1 343.2 220.1 359.9 206 376.4 192.8 392.6 180.5 408.7 169 424.5 158.3 440 148.5 455.4 139.4 470.5 131 485.3 123.3 499.9 116.2 514.3 109.8 528.5 104 542.4 98.8 556 94.1 569.4 89.9M321.8 233.1 338.7 218.1 355.4 204 371.9 190.8 388.1 178.5 404.1 167 419.9 156.4 435.5 146.6 450.8 137.5 465.9 129.1 480.8 121.4 495.4 114.4 509.8 108 524 102.2 537.9 97 551.5 92.3 565 88.1M317.4 231 334.2 216.1 350.9 202 367.4 188.8 383.6 176.6 399.6 165.1 415.4 154.5 431 144.7 446.3 135.6 461.4 127.2 476.3 119.6 490.9 112.5 505.3 106.2 519.5 100.4 533.4 95.2 547.1 90.5 560.5 86.3M312.9 229 329.8 214.1 346.4 200 362.9 186.9 379.1 174.6 395.1 163.2 410.9 152.6 426.5 142.8 441.8 133.7 456.9 125.4 471.8 117.7 486.4 110.7 500.8 104.4 515 98.6 528.9 93.4 542.6 88.7 556.1 84.5M308.5 227 325.3 212.1 342 198.1 358.4 185 374.6 172.7 390.7 161.3 406.5 150.7 422 140.9 437.4 131.9 452.5 123.6 467.3 115.9 482 108.9 496.4 102.6 510.5 96.8 524.5 91.6 538.2 87 551.6 82.8M304.1 225.1 320.9 210.1 337.5 196.2 354 183.1 370.2 170.8 386.2 159.5 402 148.9 417.6 139.1 432.9 130.1 448 121.8 462.9 114.1 477.5 107.2 491.9 100.8 506.1 95.1 520 89.9 533.7 85.2 547.2 81.1M299.7 223.1 316.5 208.2 333.1 194.3 349.5 181.2 365.8 169 381.8 157.6 397.6 147.1 413.1 137.3 428.5 128.3 443.6 120 458.4 112.4 473.1 105.4 487.5 99.1 501.7 93.3 515.6 88.2 529.3 83.5 542.8 79.4M295.3 221.2 312.1 206.3 328.7 192.4 345.1 179.3 361.3 167.1 377.3 155.8 393.1 145.3 408.7 135.5 424 126.5 439.1 118.2 454 110.6 468.7 103.7 483.1 97.4 497.3 91.6 511.2 86.5 525 81.8 538.4 77.7M290.9 219.3 307.7 204.4 324.3 190.5 340.7 177.5 357 165.3 372.9 154 388.7 143.5 404.3 133.8 419.6 124.8 434.7 116.5 449.6 108.9 464.3 102 478.7 95.7 492.9 89.9 506.8 84.8 520.6 80.2 534.1 76M286.6 217.4 303.4 202.6 320 188.7 336.4 175.7 352.6 163.5 368.6 152.2 384.3 141.7 399.9 132 415.2 123 430.4 114.8 445.2 107.2 459.9 100.3 474.3 94 488.5 88.3 502.5 83.1 516.2 78.5 529.7 74.4M282.2 215.5 299 200.7 315.6 186.9 332 173.9 348.2 161.8 364.2 150.5 380 140 395.5 130.3 410.9 121.3 426 113.1 440.9 105.5 455.5 98.6 470 92.3 484.2 86.6 498.1 81.5 511.9 76.9 525.4 72.8M277.9 213.7 294.7 198.9 311.3 185.1 327.7 172.1 343.9 160 359.9 148.7 375.6 138.3 391.2 128.6 406.5 119.6 421.6 111.4 436.5 103.8 451.2 96.9 465.6 90.7 479.8 85 493.8 79.8 507.5 75.2 521.1 71.2M273.7 211.9 290.4 197.1 307 183.3 323.4 170.3 339.5 158.2 355.5 147 371.3 136.5 386.8 126.9 402.2 117.9 417.3 109.7 432.2 102.2 446.8 95.3 461.3 89 475.5 83.3 489.5 78.2 503.2 73.6 516.8 69.6M269.4 210.1 286.1 195.3 302.7 181.5 319.1 168.6 335.2 156.5 351.2 145.3 367 134.9 382.5 125.2 397.9 116.3 413 108.1 427.9 100.5 442.5 93.7 457 87.4 471.2 81.7 485.2 76.6 498.9 72.1 512.5 68M265.1 208.3 281.9 193.6 298.4 179.8 314.8 166.9 331 154.8 346.9 143.6 362.7 133.2 378.2 123.5 393.6 114.6 408.7 106.4 423.6 98.9 438.2 92.1 452.7 85.8 466.9 80.1 480.9 75 494.7 70.5 508.2 66.4M260.9 206.5 277.6 191.8 294.2 178 310.5 165.2 326.7 153.1 342.6 141.9 358.4 131.5 373.9 121.9 389.3 113 404.4 104.8 419.3 97.3 433.9 90.5 448.4 84.2 462.6 78.6 476.6 73.5 490.4 68.9 503.9 64.9M256.7 204.7 273.4 190.1 289.9 176.3 306.3 163.5 322.4 151.5 338.4 140.3 354.1 129.9 369.7 120.3 385 111.4 400.1 103.2 415 95.7 429.7 88.9 444.1 82.6 458.4 77 472.4 71.9 486.1 67.4 499.7 63.3M252.5 203 269.2 188.4 285.7 174.6 302 161.8 318.2 149.8 334.1 138.6 349.9 128.3 365.4 118.7 380.7 109.8 395.9 101.6 410.7 94.1 425.4 87.3 439.9 81.1 454.1 75.5 468.1 70.4 481.9 65.8 495.5 61.8M248.3 201.3 265 186.7 281.5 173 297.8 160.1 314 148.2 329.9 137 345.7 126.6 361.2 117.1 376.5 108.2 391.6 100.1 406.5 92.6 421.2 85.8 435.6 79.6 449.9 73.9 463.9 68.9 477.7 64.3 491.3 60.3M244.2 199.6 260.8 185 277.3 171.3 293.6 158.5 309.8 146.5 325.7 135.4 341.4 125.1 357 115.5 372.3 106.6 387.4 98.5 402.3 91 417 84.2 431.4 78 445.7 72.4 459.7 67.4 473.5 62.8 487.1 58.8M240 197.9 256.7 183.3 273.2 169.7 289.5 156.9 305.6 144.9 321.5 133.8 337.2 123.5 352.8 113.9 368.1 105.1 383.2 97 398.1 89.5 412.8 82.7 427.2 76.5 441.5 70.9 455.5 65.9 469.3 61.3 482.9 57.3M235.9 196.2 252.5 181.7 269 168 285.3 155.2 301.4 143.3 317.3 132.2 333.1 121.9 348.6 112.4 363.9 103.5 379 95.4 393.9 88 408.6 81.2 423 75 437.3 69.4 451.3 64.4 465.1 59.9 478.7 55.8M231.8 194.6 248.4 180 264.9 166.4 281.2 153.6 297.3 141.7 313.2 130.7 328.9 120.4 344.4 110.8 359.7 102 374.8 93.9 389.7 86.5 404.4 79.7 418.9 73.5 433.1 67.9 447.2 62.9 461 58.4 474.6 54.4M227.7 192.9 244.3 178.4 260.8 164.8 277.1 152.1 293.1 140.2 309.1 129.1 324.8 118.8 340.3 109.3 355.6 100.5 370.7 92.4 385.6 85 400.3 78.2 414.7 72.1 429 66.5 443 61.5 456.8 57 470.4 52.9M223.6 191.3 240.2 176.8 256.7 163.2 272.9 150.5 289 138.6 304.9 127.6 320.6 117.3 336.1 107.8 351.4 99 366.5 90.9 381.4 83.5 396.1 76.8 410.6 70.6 424.8 65 438.9 60 452.7 55.5 466.3 51.5M219.6 189.7 236.2 175.2 252.6 161.6 268.9 148.9 284.9 137.1 300.8 126 316.5 115.8 332 106.3 347.3 97.5 362.4 89.4 377.3 82.1 392 75.3 406.5 69.2 420.7 63.6 434.8 58.6 448.6 54.1 462.2 50.1M215.5 188.1 232.1 173.6 248.5 160.1 264.8 147.4 280.9 135.5 296.7 124.5 312.4 114.3 327.9 104.8 343.2 96 358.3 88 373.2 80.6 387.9 73.9 402.4 67.7 416.6 62.2 430.7 57.2 444.5 52.7 458.1 48.7M211.5 186.5 228.1 172.1 244.5 158.5 260.7 145.9 276.8 134 292.7 123 308.4 112.8 323.8 103.3 339.1 94.6 354.2 86.5 369.1 79.2 383.8 72.4 398.3 66.3 412.5 60.7 426.6 55.7 440.4 51.3 454 47.3M207.5 184.9 224.1 170.5 240.5 157 256.7 144.3 272.7 132.5 288.6 121.5 304.3 111.3 319.8 101.9 335.1 93.1 350.2 85.1 365 77.7 379.7 71 394.2 64.9 408.5 59.3 422.5 54.3 436.3 49.9 450 45.9M203.5 183.4 220.1 169 236.5 155.5 252.7 142.8 268.7 131 284.6 120.1 300.2 109.9 315.7 100.4 331 91.7 346.1 83.7 361 76.3 375.7 69.6 390.1 63.5 404.4 57.9 418.4 52.9 432.3 48.5 445.9 44.5M199.6 181.8 216.1 167.4 232.5 154 248.7 141.3 264.7 129.6 280.5 118.6 296.2 108.4 311.7 99 327 90.3 342.1 82.2 356.9 74.9 371.6 68.2 386.1 62.1 400.4 56.5 414.4 51.6 428.3 47.1 441.9 43.1M195.6 180.3 212.1 165.9 228.5 152.5 244.7 139.9 260.7 128.1 276.5 117.1 292.2 107 307.7 97.5 322.9 88.8 338 80.8 352.9 73.5 367.6 66.8 382.1 60.7 396.3 55.2 410.4 50.2 424.2 45.7 437.9 41.8M191.7 178.7 208.2 164.4 224.5 151 240.7 138.4 256.7 126.6 272.6 115.7 288.2 105.5 303.7 96.1 318.9 87.4 334 79.4 348.9 72.1 363.6 65.4 378 59.3 392.3 53.8 406.4 48.8 420.2 44.4 433.9 40.4M187.8 177.2 204.3 162.9 220.6 149.5 236.7 136.9 252.8 125.2 268.6 114.2 284.2 104.1 299.7 94.7 314.9 86 330 78 344.9 70.7 359.6 64 374 57.9 388.3 52.4 402.4 47.5 416.2 43 429.9 39.1M183.9 175.7 200.3 161.4 216.7 148 232.8 135.5 248.8 123.7 264.6 112.8 280.3 102.7 295.7 93.3 311 84.6 326 76.7 340.9 69.3 355.6 62.7 370.1 56.6 384.3 51.1 398.4 46.1 412.3 41.7 425.9 37.8M180 174.2 196.4 159.9 212.7 146.5 228.9 134 244.9 122.3 260.7 111.4 276.3 101.3 291.8 91.9 307 83.2 322.1 75.3 337 68 351.6 61.3 366.1 55.2 380.4 49.7 394.4 44.8 408.3 40.4 421.9 36.4M176.1 172.7 192.6 158.5 208.8 145.1 225 132.6 241 120.9 256.8 110 272.4 99.9 287.8 90.5 303.1 81.9 318.1 73.9 333 66.6 347.7 60 362.1 53.9 376.4 48.4 390.5 43.5 404.3 39 418 35.1M172.3 171.2 188.7 157 205 143.6 221.1 131.1 237 119.5 252.8 108.6 268.5 98.5 283.9 89.1 299.1 80.5 314.2 72.6 329.1 65.3 343.7 58.6 358.2 52.6 372.5 47.1 386.5 42.1 400.4 37.7 414.1 33.8M168.4 169.8 184.8 155.6 201.1 142.2 217.2 129.7 233.2 118.1 248.9 107.2 264.6 97.1 280 87.8 295.2 79.1 310.3 71.2 325.1 63.9 339.8 57.3 354.3 51.2 368.5 45.8 382.6 40.8 396.5 36.4 410.1 32.5M164.6 168.3 181 154.1 197.3 140.8 213.4 128.3 229.3 116.7 245.1 105.8 260.7 95.7 276.1 86.4 291.3 77.8 306.4 69.9 321.2 62.6 335.9 56 350.4 49.9 364.6 44.4 378.7 39.5 392.6 35.1 406.2 31.2M160.8 166.9 177.2 152.7 193.4 139.4 209.5 126.9 225.4 115.3 241.2 104.4 256.8 94.4 272.2 85.1 287.4 76.4 302.5 68.5 317.3 61.3 332 54.6 346.5 48.6 360.7 43.1 374.8 38.2 388.7 33.8 402.4 29.9M157 165.4 173.4 151.2 189.6 138 205.7 125.5 221.6 113.9 237.4 103.1 252.9 93 268.3 83.7 283.6 75.1 298.6 67.2 313.5 59.9 328.1 53.3 342.6 47.3 356.9 41.8 370.9 36.9 384.8 32.5 398.5 28.6M153.2 164 169.6 149.8 185.8 136.6 201.9 124.1 217.8 112.5 233.5 101.7 249.1 91.7 264.5 82.4 279.7 73.8 294.8 65.9 309.6 58.6 324.3 52 338.7 46 353 40.5 367.1 35.6 380.9 31.2 394.6 27.3M149.5 162.5 165.8 148.4 182 135.2 198.1 122.7 214 111.2 229.7 100.4 245.3 90.3 260.7 81 275.9 72.5 290.9 64.6 305.8 57.3 320.4 50.7 334.9 44.7 349.1 39.2 363.2 34.3 377.1 30 390.8 26.1M145.7 161.1 162.1 147 178.3 133.8 194.3 121.4 210.2 109.8 225.9 99 241.5 89 256.8 79.7 272.1 71.1 287.1 63.2 301.9 56 316.6 49.4 331 43.4 345.3 38 359.4 33.1 373.3 28.7 386.9 24.8M142 159.7 158.3 145.6 174.5 132.4 190.5 120 206.4 108.4 222.1 97.7 237.7 87.6 253 78.4 268.2 69.8 283.3 61.9 298.1 54.7 312.8 48.1 327.2 42.1 341.5 36.7 355.6 31.8 369.4 27.4 383.1 23.5M138.3 158.3 154.6 144.2 170.8 131 186.8 118.6 202.6 107.1 218.3 96.3 233.9 86.3 249.3 77.1 264.4 68.5 279.5 60.6 294.3 53.4 309 46.8 323.4 40.8 337.7 35.4 351.8 30.5 365.6 26.1 379.3 22.3M134.6 156.9 150.9 142.8 167 129.6 183 117.3 198.9 105.7 214.6 95 230.1 85 245.5 75.7 260.7 67.2 275.7 59.3 290.5 52.1 305.2 45.5 319.6 39.6 333.9 34.1 348 29.2 361.8 24.9 375.5 21M130.9 155.5 147.2 141.4 163.3 128.3 179.3 115.9 195.2 104.4 210.8 93.7 226.4 83.7 241.7 74.4 256.9 65.9 271.9 58 286.7 50.8 301.4 44.3 315.8 38.3 330.1 32.9 344.2 28 358.1 23.6 371.7 19.7M127.3 154.1 143.5 140.1 159.6 126.9 175.6 114.6 191.4 103.1 207.1 92.3 222.6 82.4 238 73.1 253.2 64.6 268.2 56.8 283 49.6 297.6 43 312.1 37 326.3 31.6 340.4 26.7 354.3 22.4 368 18.5M123.6 152.7 139.8 138.7 155.9 125.5 171.9 113.2 187.7 101.7 203.4 91 218.9 81 234.2 71.8 249.4 63.3 264.4 55.5 279.2 48.3 293.9 41.7 308.3 35.7 322.6 30.3 336.7 25.5 350.5 21.1 364.2 17.2M120 151.3 136.2 137.3 152.3 124.2 168.2 111.9 184 100.4 199.7 89.7 215.2 79.7 230.5 70.5 245.7 62 260.7 54.2 275.5 47 290.1 40.4 304.6 34.5 318.8 29.1 332.9 24.2 346.8 19.9 360.5 16M116.4 149.9 132.6 135.9 148.6 122.8 164.6 110.5 180.4 99.1 196 88.4 211.5 78.4 226.8 69.2 242 60.7 257 52.9 271.8 45.7 286.4 39.2 300.9 33.2 315.1 27.8 329.2 23 343.1 18.6 356.8 14.7M112.8 148.5 128.9 134.6 145 121.5 160.9 109.2 176.7 97.7 192.3 87.1 207.8 77.1 223.1 67.9 238.3 59.4 253.3 51.6 268.1 44.5 282.7 37.9 297.1 32 311.4 26.6 325.5 21.7 339.4 17.4 353.1 13.5M109.2 147.2 125.3 133.2 141.4 120.1 157.3 107.9 173.1 96.4 188.7 85.7 204.2 75.8 219.5 66.6 234.6 58.2 249.6 50.4 264.4 43.2 279 36.7 293.4 30.7 307.7 25.3 321.8 20.5 335.7 16.1 349.4 12.3M105.6 145.8 121.7 131.9 137.8 118.8 153.7 106.5 169.4 95.1 185 84.4 200.5 74.5 215.8 65.4 230.9 56.9 245.9 49.1 260.7 41.9 275.3 35.4 289.8 29.4 304 24.1 318.1 19.2 332 14.9 345.7 11M102 144.4 118.2 130.5 134.2 117.4 150.1 105.2 165.8 93.8 181.4 83.1 196.9 73.2 212.2 64.1 227.3 55.6 242.2 47.8 257 40.7 271.7 34.1 286.1 28.2 300.3 22.8 314.4 18 328.3 13.6 342 9.8M98.5 143 114.6 129.1 130.6 116.1 146.5 103.9 162.2 92.5 177.8 81.8 193.2 71.9 208.5 62.8 223.6 54.3 238.6 46.5 253.4 39.4 268 32.9 282.4 26.9 296.7 21.6 310.8 16.7 324.6 12.4 338.3 8.6M94.9 141.7 111 127.8 127 114.8 142.9 102.6 158.6 91.2 174.2 80.5 189.6 70.7 204.9 61.5 220 53.1 235 45.3 249.7 38.1 264.4 31.6 278.8 25.7 293 20.3 307.1 15.5 321 11.2 334.7 7.3M91.4 140.3 107.5 126.4 123.5 113.4 139.3 101.2 155 89.8 170.6 79.2 186 69.4 201.3 60.2 216.4 51.8 231.3 44 246.1 36.9 260.7 30.4 275.2 24.4 289.4 19.1 303.5 14.2 317.4 9.9 331.1 6.1"/>
<path stroke="#222" stroke-width="0.9" d="M329.9 79.3V92.6"/>
<ellipse cx="329.9" cy="92.6" rx="2.9" ry="1.9" fill="#f4b8c4" stroke="#7a5a60" stroke-width="0.6"/>
<path stroke="#443" stroke-width="0.8" d="M330.5 90.8V94.4"/>
<ellipse cx="329.9" cy="84.2" rx="3.5" ry="2.5" fill="#ff0000" stroke="#800000" stroke-width="0.7"/>
<ellipse cx="329.9" cy="79.3" rx="3.5" ry="2.5" fill="#ff0000" stroke="#800000" stroke-width="0.7"/>
<path fill="none" stroke="#111" stroke-width="1.6" d="M85.2 44.9 L82.7 44.9M88 87.7 L85.5 87.7M90.8 130.5 L88.3 130.5M93.6 173.3 L91.1 173.3M96.3 216.1 L93.8 216.1M99 270.4 L100.6 270M156.7 290.1 L158.3 289.7M214.4 309.8 L216 309.4M272.1 329.5 L273.7 329.1M329.7 349.2 L331.3 348.8M329.7 348.8 L331.3 349.2M387.4 329.2 L389 329.6M445.1 309.5 L446.7 309.9M502.8 289.9 L504.4 290.3M560.5 270.3 L562.1 270.7"/>
<g font-size="11.3" fill="#1c1c1c" stroke="#1c1c1c" stroke-width="0.12">
<text transform="translate(75.6 56.4) scale(1.5 1)" text-anchor="end">97</text>
<text transform="translate(78.4 99.2) scale(1.5 1)" text-anchor="end">87.5</text>
<text transform="translate(81.2 142) scale(1.5 1)" text-anchor="end">78</text>
<text transform="translate(84 184.8) scale(1.5 1)" text-anchor="end">68.5</text>
<text transform="translate(86.7 227.6) scale(1.5 1)" text-anchor="end">59</text>
<text transform="translate(91.2 281.2) scale(1.5 1)" text-anchor="end">60.00</text>
<text transform="translate(148.9 300.9) scale(1.5 1)" text-anchor="end">55.00</text>
<text transform="translate(206.6 320.6) scale(1.5 1)" text-anchor="end">50.00</text>
<text transform="translate(264.3 340.3) scale(1.5 1)" text-anchor="end">45.00</text>
<text transform="translate(321.9 360) scale(1.5 1)" text-anchor="end">40.00</text>
<text transform="translate(339.1 360) scale(1.5 1)">1.00</text>
<text transform="translate(396.8 340.4) scale(1.5 1)">1.50</text>
<text transform="translate(454.5 320.7) scale(1.5 1)">2.00</text>
<text transform="translate(512.2 301.1) scale(1.5 1)">2.50</text>
<text transform="translate(569.9 281.5) scale(1.5 1)">3.00</text>
</g>
<text class="t" style="stroke-width:0.25px" transform="translate(85 358.6) scale(1.447 1.05)">Y: Temperature</text>
<text class="t" style="stroke-width:0.25px" transform="translate(398.7 358.6) scale(1.445 1.05)">X: Phospholipid: Drug ratio</text>
<text class="t" transform="translate(20.3 238.5) rotate(-90) scale(1.057 1.5)" style="font-size:15.7px">Entrapment Efficiency</text>
<rect x="5.4" y="2.5" width="42.2" height="23" fill="none" stroke="#666" stroke-width="1.3"/>
<text class="s" transform="translate(26.6 18.8) scale(1.37 1)" text-anchor="middle">a</text>
</g>
<g transform="translate(0 419.4)">
<path fill="#ffff00" d="M99.8 270.2L330.5 208.8L331.1 5.7L85.2 44.9ZM561.3 270.5L330.5 208.8L331.1 5.7L577.2 45ZM330.5 349L561.3 270.5L330.5 208.8L99.8 270.2Z"/>
<path fill="none" stroke="#4ce000" stroke-opacity="0.5" stroke-width="0.85" d="M431.4 314.7 418 312.7 405.7 310.8 393.6 308.9 380.4 306.9 369.2 305.2 355.4 303.1 344.4 301.4 330.7 299.3 319.8 297.7 306.7 295.7 295.6 294 283.8 292.2 271.5 290.3 260.9 288.8 247.7 286.8 237.2 285.2 225 283.5 213.6 281.8 203.1 280.3 190.1 278.4 179.7 276.9 169.4 275.5 156.4 273.7 146.1 272.3 135.8 270.9 124.2 269.4 112.6 267.8 110 267.5"/>
<path fill="none" stroke="#92e000" stroke-opacity="0.5" stroke-width="0.85" d="M453.9 307 442.5 305.3 428.3 303.2 417.1 301.6 403.7 299.6 392.1 297.8 380 296 367.4 294.1 356.5 292.5 343 290.5 332.2 288.8 318.9 286.9 308.2 285.3 295.5 283.4 284.4 281.8 273.5 280.2 260.8 278.3 250.4 276.8 237.7 275 227 273.5 216.6 272 203.7 270.2 193.4 268.8 183.1 267.4 170.5 265.7 160 264.3 149.7 263 138.9 261.6 134.3 261"/>
<path fill="none" stroke="#d8e000" stroke-opacity="0.5" stroke-width="0.85" d="M478.8 298.5 467.3 296.9 453.4 294.9 442.2 293.3 428.3 291.2 417.3 289.6 404.3 287.7 392.8 286 381.1 284.3 368.5 282.5 357.8 280.9 344.6 279 334 277.5 320.8 275.6 310.3 274 298.9 272.4 286.9 270.7 276.5 269.2 263.6 267.4 253.2 266 242.9 264.6 230.1 262.8 219.8 261.5 209.6 260.1 197 258.5 186.5 257.1 176.3 255.8 165.9 254.5 160.9 253.9"/>
<path fill="none" stroke="#e0aa00" stroke-opacity="0.5" stroke-width="0.85" d="M508 288.6 496.7 287.1 482.7 285.1 471.5 283.6 458.8 281.8 446.8 280.1 435.9 278.6 422.3 276.7 411.6 275.1 398.2 273.3 387.6 271.7 375.7 270.1 363.8 268.4 353.4 266.9 340.3 265.1 329.9 263.7 318 262 306.7 260.5 296.4 259.1 283.6 257.4 273.2 256 263 254.7 250.7 253.1 240 251.7 229.8 250.4 219.2 249.1 207 247.7 196.5 246.4 191.4 245.8"/>
<path fill="none" stroke="#e06b00" stroke-opacity="0.5" stroke-width="0.85" d="M547.6 275.1 533.3 273.4 519.2 271.7 505.2 269.9 491.4 268.1 477.1 266.3 462.8 264.4 448.4 262.5 434.6 260.7 421.4 259 408.2 257.3 395.1 255.5 382 253.8 369 252.1 356.1 250.5 343.1 248.8 330.2 247.2 317.4 245.6 304.5 244.1 291.6 242.5 278.8 241 265.9 239.5 253 238.1 240.1 236.7 229.7 235.6"/>
<path fill="none" stroke="#333" stroke-width="0.9" d="M99.8 270.2L85.2 44.9M561.3 270.5L577.2 45M85.2 44.9L331.1 5.7M331.1 5.7L577.2 45M99.8 270.2L330.5 208.8M330.5 208.8L561.3 270.5M330.5 349L561.3 270.5M330.5 349L99.8 270.2M331.1 5.7L330.5 208.8"/>
<path fill="#00ffde" stroke="#00ffde" stroke-width="0.6" d="M330.8 246.4L347.7 229 330.9 220.1 314 237.1Z"/>
<path fill="#00ffcc" stroke="#00ffcc" stroke-width="0.6" d="M314 237.1L330.9 220.1 314.3 211.5 297.5 228.1Z"/>
<path fill="#00ffbb" stroke="#00ffbb" stroke-width="0.6" d="M297.5 228.1L314.3 211.5 298 203 281.2 219.2Z"/>
<path fill="#00ffaa" stroke="#00ffaa" stroke-width="0.6" d="M281.2 219.2L298 203 281.9 194.7 265.2 210.6Z"/>
<path fill="#00ff99" stroke="#00ff99" stroke-width="0.6" d="M265.2 210.6L281.9 194.7 266 186.6 249.4 202.1Z"/>
<path fill="#00ff88" stroke="#00ff88" stroke-width="0.6" d="M249.4 202.1L266 186.6 250.4 178.6 233.8 193.8Z"/>
<path fill="#00ff77" stroke="#00ff77" stroke-width="0.6" d="M233.8 193.8L250.4 178.6 235.1 170.8 218.5 185.7Z"/>
<path fill="#00ff67" stroke="#00ff67" stroke-width="0.6" d="M218.5 185.7L235.1 170.8 219.9 163.2 203.3 177.7Z"/>
<path fill="#00ff57" stroke="#00ff57" stroke-width="0.6" d="M203.3 177.7L219.9 163.2 205 155.7 188.5 169.8Z"/>
<path fill="#00ff47" stroke="#00ff47" stroke-width="0.6" d="M188.5 169.8L205 155.7 190.3 148.3 173.8 162.1Z"/>
<path fill="#00ff37" stroke="#00ff37" stroke-width="0.6" d="M173.8 162.1L190.3 148.3 175.8 141.1 159.3 154.6Z"/>
<path fill="#00ff27" stroke="#00ff27" stroke-width="0.6" d="M159.3 154.6L175.8 141.1 161.5 134 145 147.1Z"/>
<path fill="#00ff17" stroke="#00ff17" stroke-width="0.6" d="M145 147.1L161.5 134 147.4 127 131 139.8Z"/>
<path fill="#00ff07" stroke="#00ff07" stroke-width="0.6" d="M131 139.8L147.4 127 133.5 120.1 117.1 132.6Z"/>
<path fill="#0dff00" stroke="#0dff00" stroke-width="0.6" d="M117.1 132.6L133.5 120.1 119.8 113.3 103.5 125.4Z"/>
<path fill="#24ff00" stroke="#24ff00" stroke-width="0.6" d="M103.5 125.4L119.8 113.3 106.3 106.5 90 118.4Z"/>
<path fill="#00ffac" stroke="#00ffac" stroke-width="0.6" d="M347.7 229L364.4 212.4 347.5 203.9 330.9 220.1Z"/>
<path fill="#00ff9b" stroke="#00ff9b" stroke-width="0.6" d="M330.9 220.1L347.5 203.9 330.9 195.5 314.3 211.5Z"/>
<path fill="#00ff8a" stroke="#00ff8a" stroke-width="0.6" d="M314.3 211.5L330.9 195.5 314.5 187.4 298 203Z"/>
<path fill="#00ff7a" stroke="#00ff7a" stroke-width="0.6" d="M298 203L314.5 187.4 298.4 179.5 281.9 194.7Z"/>
<path fill="#00ff6a" stroke="#00ff6a" stroke-width="0.6" d="M281.9 194.7L298.4 179.5 282.5 171.7 266 186.6Z"/>
<path fill="#00ff5a" stroke="#00ff5a" stroke-width="0.6" d="M266 186.6L282.5 171.7 266.9 164.1 250.4 178.6Z"/>
<path fill="#00ff4a" stroke="#00ff4a" stroke-width="0.6" d="M250.4 178.6L266.9 164.1 251.5 156.6 235.1 170.8Z"/>
<path fill="#00ff3a" stroke="#00ff3a" stroke-width="0.6" d="M235.1 170.8L251.5 156.6 236.3 149.3 219.9 163.2Z"/>
<path fill="#00ff2b" stroke="#00ff2b" stroke-width="0.6" d="M219.9 163.2L236.3 149.3 221.3 142.2 205 155.7Z"/>
<path fill="#00ff1c" stroke="#00ff1c" stroke-width="0.6" d="M205 155.7L221.3 142.2 206.6 135.1 190.3 148.3Z"/>
<path fill="#00ff0d" stroke="#00ff0d" stroke-width="0.6" d="M190.3 148.3L206.6 135.1 192.1 128.2 175.8 141.1Z"/>
<path fill="#04ff00" stroke="#04ff00" stroke-width="0.6" d="M175.8 141.1L192.1 128.2 177.8 121.5 161.5 134Z"/>
<path fill="#19ff00" stroke="#19ff00" stroke-width="0.6" d="M161.5 134L177.8 121.5 163.6 114.8 147.4 127Z"/>
<path fill="#2fff00" stroke="#2fff00" stroke-width="0.6" d="M147.4 127L163.6 114.8 149.7 108.2 133.5 120.1Z"/>
<path fill="#44ff00" stroke="#44ff00" stroke-width="0.6" d="M133.5 120.1L149.7 108.2 136 101.7 119.8 113.3Z"/>
<path fill="#5aff00" stroke="#5aff00" stroke-width="0.6" d="M119.8 113.3L136 101.7 122.5 95.4 106.3 106.5Z"/>
<path fill="#00ff7c" stroke="#00ff7c" stroke-width="0.6" d="M364.4 212.4L380.9 196.5 364 188.3 347.5 203.9Z"/>
<path fill="#00ff6c" stroke="#00ff6c" stroke-width="0.6" d="M347.5 203.9L364 188.3 347.3 180.3 330.9 195.5Z"/>
<path fill="#00ff5c" stroke="#00ff5c" stroke-width="0.6" d="M330.9 195.5L347.3 180.3 330.9 172.5 314.5 187.4Z"/>
<path fill="#00ff4c" stroke="#00ff4c" stroke-width="0.6" d="M314.5 187.4L330.9 172.5 314.8 164.9 298.4 179.5Z"/>
<path fill="#00ff3d" stroke="#00ff3d" stroke-width="0.6" d="M298.4 179.5L314.8 164.9 298.9 157.5 282.5 171.7Z"/>
<path fill="#00ff2e" stroke="#00ff2e" stroke-width="0.6" d="M282.5 171.7L298.9 157.5 283.2 150.2 266.9 164.1Z"/>
<path fill="#00ff1f" stroke="#00ff1f" stroke-width="0.6" d="M266.9 164.1L283.2 150.2 267.8 143.1 251.5 156.6Z"/>
<path fill="#00ff10" stroke="#00ff10" stroke-width="0.6" d="M251.5 156.6L267.8 143.1 252.5 136.2 236.3 149.3Z"/>
<path fill="#00ff02" stroke="#00ff02" stroke-width="0.6" d="M236.3 149.3L252.5 136.2 237.6 129.4 221.3 142.2Z"/>
<path fill="#12ff00" stroke="#12ff00" stroke-width="0.6" d="M221.3 142.2L237.6 129.4 222.8 122.7 206.6 135.1Z"/>
<path fill="#27ff00" stroke="#27ff00" stroke-width="0.6" d="M206.6 135.1L222.8 122.7 208.2 116.1 192.1 128.2Z"/>
<path fill="#3bff00" stroke="#3bff00" stroke-width="0.6" d="M192.1 128.2L208.2 116.1 193.9 109.6 177.8 121.5Z"/>
<path fill="#50ff00" stroke="#50ff00" stroke-width="0.6" d="M177.8 121.5L193.9 109.6 179.7 103.3 163.6 114.8Z"/>
<path fill="#64ff00" stroke="#64ff00" stroke-width="0.6" d="M163.6 114.8L179.7 103.3 165.8 97 149.7 108.2Z"/>
<path fill="#78ff00" stroke="#78ff00" stroke-width="0.6" d="M149.7 108.2L165.8 97 152 90.9 136 101.7Z"/>
<path fill="#8cff00" stroke="#8cff00" stroke-width="0.6" d="M136 101.7L152 90.9 138.5 84.8 122.5 95.4Z"/>
<path fill="#00ff4e" stroke="#00ff4e" stroke-width="0.6" d="M380.9 196.5L397.2 181.2 380.3 173.4 364 188.3Z"/>
<path fill="#00ff3f" stroke="#00ff3f" stroke-width="0.6" d="M364 188.3L380.3 173.4 363.6 165.8 347.3 180.3Z"/>
<path fill="#00ff30" stroke="#00ff30" stroke-width="0.6" d="M347.3 180.3L363.6 165.8 347.1 158.4 330.9 172.5Z"/>
<path fill="#00ff21" stroke="#00ff21" stroke-width="0.6" d="M330.9 172.5L347.1 158.4 331 151.1 314.8 164.9Z"/>
<path fill="#00ff12" stroke="#00ff12" stroke-width="0.6" d="M314.8 164.9L331 151.1 315 144 298.9 157.5Z"/>
<path fill="#00ff04" stroke="#00ff04" stroke-width="0.6" d="M298.9 157.5L315 144 299.3 137.1 283.2 150.2Z"/>
<path fill="#0eff00" stroke="#0eff00" stroke-width="0.6" d="M283.2 150.2L299.3 137.1 283.8 130.3 267.8 143.1Z"/>
<path fill="#22ff00" stroke="#22ff00" stroke-width="0.6" d="M267.8 143.1L283.8 130.3 268.6 123.7 252.5 136.2Z"/>
<path fill="#36ff00" stroke="#36ff00" stroke-width="0.6" d="M252.5 136.2L268.6 123.7 253.6 117.2 237.6 129.4Z"/>
<path fill="#49ff00" stroke="#49ff00" stroke-width="0.6" d="M237.6 129.4L253.6 117.2 238.8 110.9 222.8 122.7Z"/>
<path fill="#5cff00" stroke="#5cff00" stroke-width="0.6" d="M222.8 122.7L238.8 110.9 224.2 104.6 208.2 116.1Z"/>
<path fill="#70ff00" stroke="#70ff00" stroke-width="0.6" d="M208.2 116.1L224.2 104.6 209.8 98.5 193.9 109.6Z"/>
<path fill="#83ff00" stroke="#83ff00" stroke-width="0.6" d="M193.9 109.6L209.8 98.5 195.7 92.5 179.7 103.3Z"/>
<path fill="#95ff00" stroke="#95ff00" stroke-width="0.6" d="M179.7 103.3L195.7 92.5 181.7 86.6 165.8 97Z"/>
<path fill="#a8ff00" stroke="#a8ff00" stroke-width="0.6" d="M165.8 97L181.7 86.6 167.9 80.7 152 90.9Z"/>
<path fill="#bbff00" stroke="#bbff00" stroke-width="0.6" d="M152 90.9L167.9 80.7 154.3 75 138.5 84.8Z"/>
<path fill="#00ff23" stroke="#00ff23" stroke-width="0.6" d="M397.2 181.2L413.3 166.8 396.3 159.3 380.3 173.4Z"/>
<path fill="#00ff14" stroke="#00ff14" stroke-width="0.6" d="M380.3 173.4L396.3 159.3 379.6 152 363.6 165.8Z"/>
<path fill="#00ff06" stroke="#00ff06" stroke-width="0.6" d="M363.6 165.8L379.6 152 363.2 144.9 347.1 158.4Z"/>
<path fill="#0bff00" stroke="#0bff00" stroke-width="0.6" d="M347.1 158.4L363.2 144.9 347 138 331 151.1Z"/>
<path fill="#1fff00" stroke="#1fff00" stroke-width="0.6" d="M331 151.1L347 138 331 131.3 315 144Z"/>
<path fill="#32ff00" stroke="#32ff00" stroke-width="0.6" d="M315 144L331 131.3 315.3 124.7 299.3 137.1Z"/>
<path fill="#45ff00" stroke="#45ff00" stroke-width="0.6" d="M299.3 137.1L315.3 124.7 299.8 118.3 283.8 130.3Z"/>
<path fill="#58ff00" stroke="#58ff00" stroke-width="0.6" d="M283.8 130.3L299.8 118.3 284.5 112 268.6 123.7Z"/>
<path fill="#6aff00" stroke="#6aff00" stroke-width="0.6" d="M268.6 123.7L284.5 112 269.4 105.8 253.6 117.2Z"/>
<path fill="#7dff00" stroke="#7dff00" stroke-width="0.6" d="M253.6 117.2L269.4 105.8 254.6 99.8 238.8 110.9Z"/>
<path fill="#8fff00" stroke="#8fff00" stroke-width="0.6" d="M238.8 110.9L254.6 99.8 240 93.9 224.2 104.6Z"/>
<path fill="#a0ff00" stroke="#a0ff00" stroke-width="0.6" d="M224.2 104.6L240 93.9 225.6 88.1 209.8 98.5Z"/>
<path fill="#b2ff00" stroke="#b2ff00" stroke-width="0.6" d="M209.8 98.5L225.6 88.1 211.4 82.3 195.7 92.5Z"/>
<path fill="#c4ff00" stroke="#c4ff00" stroke-width="0.6" d="M195.7 92.5L211.4 82.3 197.4 76.7 181.7 86.6ZM426.6 115.2L441.8 104.4 425.3 98.7 410.1 109.1Z"/>
<path fill="#d5ff00" stroke="#d5ff00" stroke-width="0.6" d="M181.7 86.6L197.4 76.7 183.6 71.2 167.9 80.7ZM346.6 102L361.9 91.8 346.4 86.4 331 96.3Z"/>
<path fill="#e6ff00" stroke="#e6ff00" stroke-width="0.6" d="M167.9 80.7L183.6 71.2 170 65.8 154.3 75Z"/>
<path fill="#09ff00" stroke="#09ff00" stroke-width="0.6" d="M413.3 166.8L429.2 153 412.2 145.9 396.3 159.3Z"/>
<path fill="#1dff00" stroke="#1dff00" stroke-width="0.6" d="M396.3 159.3L412.2 145.9 395.5 139 379.6 152Z"/>
<path fill="#30ff00" stroke="#30ff00" stroke-width="0.6" d="M379.6 152L395.5 139 379 132.2 363.2 144.9Z"/>
<path fill="#43ff00" stroke="#43ff00" stroke-width="0.6" d="M363.2 144.9L379 132.2 362.8 125.7 347 138Z"/>
<path fill="#55ff00" stroke="#55ff00" stroke-width="0.6" d="M347 138L362.8 125.7 346.8 119.2 331 131.3Z"/>
<path fill="#67ff00" stroke="#67ff00" stroke-width="0.6" d="M331 131.3L346.8 119.2 331 113 315.3 124.7Z"/>
<path fill="#79ff00" stroke="#79ff00" stroke-width="0.6" d="M315.3 124.7L331 113 315.5 106.9 299.8 118.3Z"/>
<path fill="#8aff00" stroke="#8aff00" stroke-width="0.6" d="M299.8 118.3L315.5 106.9 300.2 100.9 284.5 112Z"/>
<path fill="#9cff00" stroke="#9cff00" stroke-width="0.6" d="M284.5 112L300.2 100.9 285.1 95.1 269.4 105.8Z"/>
<path fill="#acff00" stroke="#acff00" stroke-width="0.6" d="M269.4 105.8L285.1 95.1 270.3 89.4 254.6 99.8Z"/>
<path fill="#bdff00" stroke="#bdff00" stroke-width="0.6" d="M254.6 99.8L270.3 89.4 255.6 83.8 240 93.9Z"/>
<path fill="#ceff00" stroke="#ceff00" stroke-width="0.6" d="M240 93.9L255.6 83.8 241.2 78.3 225.6 88.1Z"/>
<path fill="#deff00" stroke="#deff00" stroke-width="0.6" d="M225.6 88.1L241.2 78.3 227 72.9 211.4 82.3Z"/>
<path fill="#eeff00" stroke="#eeff00" stroke-width="0.6" d="M211.4 82.3L227 72.9 213 67.6 197.4 76.7ZM441.8 104.4L456.9 94.4 440.3 89 425.3 98.7Z"/>
<path fill="#feff00" stroke="#feff00" stroke-width="0.6" d="M197.4 76.7L213 67.6 199.2 62.4 183.6 71.2ZM361.9 91.8L377.1 82.4 361.5 77.3 346.4 86.4Z"/>
<path fill="#fff200" stroke="#fff200" stroke-width="0.6" d="M183.6 71.2L199.2 62.4 185.6 57.3 170 65.8Z"/>
<path fill="#40ff00" stroke="#40ff00" stroke-width="0.6" d="M429.2 153L444.9 140 427.9 133.3 412.2 145.9Z"/>
<path fill="#53ff00" stroke="#53ff00" stroke-width="0.6" d="M412.2 145.9L427.9 133.3 411.2 126.7 395.5 139Z"/>
<path fill="#65ff00" stroke="#65ff00" stroke-width="0.6" d="M395.5 139L411.2 126.7 394.6 120.3 379 132.2Z"/>
<path fill="#77ff00" stroke="#77ff00" stroke-width="0.6" d="M379 132.2L394.6 120.3 378.4 114 362.8 125.7Z"/>
<path fill="#88ff00" stroke="#88ff00" stroke-width="0.6" d="M362.8 125.7L378.4 114 362.4 108 346.8 119.2Z"/>
<path fill="#99ff00" stroke="#99ff00" stroke-width="0.6" d="M346.8 119.2L362.4 108 346.6 102 331 113Z"/>
<path fill="#a9ff00" stroke="#a9ff00" stroke-width="0.6" d="M331 113L346.6 102 331 96.3 315.5 106.9Z"/>
<path fill="#b9ff00" stroke="#b9ff00" stroke-width="0.6" d="M315.5 106.9L331 96.3 315.7 90.6 300.2 100.9Z"/>
<path fill="#c9ff00" stroke="#c9ff00" stroke-width="0.6" d="M300.2 100.9L315.7 90.6 300.6 85.1 285.1 95.1Z"/>
<path fill="#d9ff00" stroke="#d9ff00" stroke-width="0.6" d="M285.1 95.1L300.6 85.1 285.8 79.7 270.3 89.4Z"/>
<path fill="#e8ff00" stroke="#e8ff00" stroke-width="0.6" d="M270.3 89.4L285.8 79.7 271.1 74.5 255.6 83.8Z"/>
<path fill="#f7ff00" stroke="#f7ff00" stroke-width="0.6" d="M255.6 83.8L271.1 74.5 256.7 69.3 241.2 78.3Z"/>
<path fill="#fff900" stroke="#fff900" stroke-width="0.6" d="M241.2 78.3L256.7 69.3 242.4 64.2 227 72.9Z"/>
<path fill="#ffec00" stroke="#ffec00" stroke-width="0.6" d="M227 72.9L242.4 64.2 228.4 59.2 213 67.6Z"/>
<path fill="#ffdf00" stroke="#ffdf00" stroke-width="0.6" d="M213 67.6L228.4 59.2 214.6 54.3 199.2 62.4Z"/>
<path fill="#ffd200" stroke="#ffd200" stroke-width="0.6" d="M199.2 62.4L214.6 54.3 200.9 49.5 185.6 57.3ZM301 70.8L316.1 62.6 301.5 58 286.4 65.8Z"/>
<path fill="#74ff00" stroke="#74ff00" stroke-width="0.6" d="M444.9 140L460.4 127.8 443.4 121.4 427.9 133.3Z"/>
<path fill="#86ff00" stroke="#86ff00" stroke-width="0.6" d="M427.9 133.3L443.4 121.4 426.6 115.2 411.2 126.7Z"/>
<path fill="#96ff00" stroke="#96ff00" stroke-width="0.6" d="M411.2 126.7L426.6 115.2 410.1 109.1 394.6 120.3Z"/>
<path fill="#a7ff00" stroke="#a7ff00" stroke-width="0.6" d="M394.6 120.3L410.1 109.1 393.8 103.2 378.4 114Z"/>
<path fill="#b7ff00" stroke="#b7ff00" stroke-width="0.6" d="M378.4 114L393.8 103.2 377.7 97.4 362.4 108Z"/>
<path fill="#c6ff00" stroke="#c6ff00" stroke-width="0.6" d="M362.4 108L377.7 97.4 361.9 91.8 346.6 102Z"/>
<path fill="#e4ff00" stroke="#e4ff00" stroke-width="0.6" d="M331 96.3L346.4 86.4 331 81.1 315.7 90.6Z"/>
<path fill="#f3ff00" stroke="#f3ff00" stroke-width="0.6" d="M315.7 90.6L331 81.1 315.9 75.9 300.6 85.1Z"/>
<path fill="#fffd00" stroke="#fffd00" stroke-width="0.6" d="M300.6 85.1L315.9 75.9 301 70.8 285.8 79.7Z"/>
<path fill="#fff100" stroke="#fff100" stroke-width="0.6" d="M285.8 79.7L301 70.8 286.4 65.8 271.1 74.5Z"/>
<path fill="#ffe500" stroke="#ffe500" stroke-width="0.6" d="M271.1 74.5L286.4 65.8 271.9 61 256.7 69.3Z"/>
<path fill="#ffd900" stroke="#ffd900" stroke-width="0.6" d="M256.7 69.3L271.9 61 257.7 56.2 242.4 64.2ZM488.5 90.5L503.1 81.8 486.3 76.9 471.7 85.3Z"/>
<path fill="#ffcd00" stroke="#ffcd00" stroke-width="0.6" d="M242.4 64.2L257.7 56.2 243.6 51.6 228.4 59.2ZM407.9 78.7L422.7 70.4 406.8 65.8 392.1 73.7Z"/>
<path fill="#ffc100" stroke="#ffc100" stroke-width="0.6" d="M228.4 59.2L243.6 51.6 229.8 47 214.6 54.3Z"/>
<path fill="#ffb500" stroke="#ffb500" stroke-width="0.6" d="M214.6 54.3L229.8 47 216.1 42.5 200.9 49.5ZM486.3 76.9L500.6 69.3 484 64.8 469.7 72.1Z"/>
<path fill="#a4ff00" stroke="#a4ff00" stroke-width="0.6" d="M460.4 127.8L475.7 116.4 458.7 110.3 443.4 121.4Z"/>
<path fill="#b5ff00" stroke="#b5ff00" stroke-width="0.6" d="M443.4 121.4L458.7 110.3 441.8 104.4 426.6 115.2Z"/>
<path fill="#d3ff00" stroke="#d3ff00" stroke-width="0.6" d="M410.1 109.1L425.3 98.7 409 93.1 393.8 103.2Z"/>
<path fill="#e2ff00" stroke="#e2ff00" stroke-width="0.6" d="M393.8 103.2L409 93.1 392.9 87.7 377.7 97.4Z"/>
<path fill="#f0ff00" stroke="#f0ff00" stroke-width="0.6" d="M377.7 97.4L392.9 87.7 377.1 82.4 361.9 91.8Z"/>
<path fill="#fff400" stroke="#fff400" stroke-width="0.6" d="M346.4 86.4L361.5 77.3 346.2 72.3 331 81.1Z"/>
<path fill="#ffe800" stroke="#ffe800" stroke-width="0.6" d="M331 81.1L346.2 72.3 331.1 67.4 315.9 75.9Z"/>
<path fill="#ffdd00" stroke="#ffdd00" stroke-width="0.6" d="M315.9 75.9L331.1 67.4 316.1 62.6 301 70.8Z"/>
<path fill="#ffc700" stroke="#ffc700" stroke-width="0.6" d="M286.4 65.8L301.5 58 287 53.4 271.9 61Z"/>
<path fill="#ffbc00" stroke="#ffbc00" stroke-width="0.6" d="M271.9 61L287 53.4 272.7 49 257.7 56.2ZM438.8 75.2L453.3 67.5 437.2 63 422.7 70.4Z"/>
<path fill="#ffb200" stroke="#ffb200" stroke-width="0.6" d="M257.7 56.2L272.7 49 258.7 44.6 243.6 51.6Z"/>
<path fill="#ffa700" stroke="#ffa700" stroke-width="0.6" d="M243.6 51.6L258.7 44.6 244.8 40.3 229.8 47ZM346 59.6L360.7 52.6 345.8 48.5 331.1 55.2Z"/>
<path fill="#ff9d00" stroke="#ff9d00" stroke-width="0.6" d="M229.8 47L244.8 40.3 231.2 36.1 216.1 42.5Z"/>
<path fill="#d1ff00" stroke="#d1ff00" stroke-width="0.6" d="M475.7 116.4L490.8 105.8 473.7 100 458.7 110.3Z"/>
<path fill="#e0ff00" stroke="#e0ff00" stroke-width="0.6" d="M458.7 110.3L473.7 100 456.9 94.4 441.8 104.4Z"/>
<path fill="#fcff00" stroke="#fcff00" stroke-width="0.6" d="M425.3 98.7L440.3 89 424 83.8 409 93.1Z"/>
<path fill="#fff600" stroke="#fff600" stroke-width="0.6" d="M409 93.1L424 83.8 407.9 78.7 392.9 87.7Z"/>
<path fill="#ffeb00" stroke="#ffeb00" stroke-width="0.6" d="M392.9 87.7L407.9 78.7 392.1 73.7 377.1 82.4Z"/>
<path fill="#ffe000" stroke="#ffe000" stroke-width="0.6" d="M377.1 82.4L392.1 73.7 376.5 68.9 361.5 77.3Z"/>
<path fill="#ffd500" stroke="#ffd500" stroke-width="0.6" d="M361.5 77.3L376.5 68.9 361.1 64.2 346.2 72.3Z"/>
<path fill="#ffca00" stroke="#ffca00" stroke-width="0.6" d="M346.2 72.3L361.1 64.2 346 59.6 331.1 67.4Z"/>
<path fill="#ffc000" stroke="#ffc000" stroke-width="0.6" d="M331.1 67.4L346 59.6 331.1 55.2 316.1 62.6Z"/>
<path fill="#ffb600" stroke="#ffb600" stroke-width="0.6" d="M316.1 62.6L331.1 55.2 316.4 50.8 301.5 58Z"/>
<path fill="#ffad00" stroke="#ffad00" stroke-width="0.6" d="M301.5 58L316.4 50.8 301.9 46.6 287 53.4Z"/>
<path fill="#ffa300" stroke="#ffa300" stroke-width="0.6" d="M287 53.4L301.9 46.6 287.6 42.4 272.7 49Z"/>
<path fill="#ff9a00" stroke="#ff9a00" stroke-width="0.6" d="M272.7 49L287.6 42.4 273.5 38.4 258.7 44.6ZM375.9 56.9L390.4 50.4 375.2 46.4 360.7 52.6ZM548.7 71.4L562.6 64.8 545.5 60.6 531.6 66.9Z"/>
<path fill="#ff9100" stroke="#ff9100" stroke-width="0.6" d="M258.7 44.6L273.5 38.4 259.7 34.4 244.8 40.3Z"/>
<path fill="#ff8700" stroke="#ff8700" stroke-width="0.6" d="M244.8 40.3L259.7 34.4 246 30.5 231.2 36.1ZM390.4 50.4L404.7 44.6 389.5 41 375.2 46.4Z"/>
<path fill="#f9ff00" stroke="#f9ff00" stroke-width="0.6" d="M490.8 105.8L505.6 96 488.5 90.5 473.7 100Z"/>
<path fill="#fff800" stroke="#fff800" stroke-width="0.6" d="M473.7 100L488.5 90.5 471.7 85.3 456.9 94.4Z"/>
<path fill="#ffed00" stroke="#ffed00" stroke-width="0.6" d="M456.9 94.4L471.7 85.3 455.1 80.2 440.3 89Z"/>
<path fill="#ffe200" stroke="#ffe200" stroke-width="0.6" d="M440.3 89L455.1 80.2 438.8 75.2 424 83.8Z"/>
<path fill="#ffd700" stroke="#ffd700" stroke-width="0.6" d="M424 83.8L438.8 75.2 422.7 70.4 407.9 78.7Z"/>
<path fill="#ffc300" stroke="#ffc300" stroke-width="0.6" d="M392.1 73.7L406.8 65.8 391.2 61.3 376.5 68.9Z"/>
<path fill="#ffb900" stroke="#ffb900" stroke-width="0.6" d="M376.5 68.9L391.2 61.3 375.9 56.9 361.1 64.2Z"/>
<path fill="#ffb000" stroke="#ffb000" stroke-width="0.6" d="M361.1 64.2L375.9 56.9 360.7 52.6 346 59.6Z"/>
<path fill="#ff9f00" stroke="#ff9f00" stroke-width="0.6" d="M331.1 55.2L345.8 48.5 331.1 44.4 316.4 50.8ZM500.6 69.3L514.8 62.6 498.2 58.4 484 64.8Z"/>
<path fill="#ff9600" stroke="#ff9600" stroke-width="0.6" d="M316.4 50.8L331.1 44.4 316.6 40.5 301.9 46.6Z"/>
<path fill="#ff8e00" stroke="#ff8e00" stroke-width="0.6" d="M301.9 46.6L316.6 40.5 302.3 36.6 287.6 42.4ZM405.8 54.5L420.1 48.4 404.7 44.6 390.4 50.4Z"/>
<path fill="#ff8600" stroke="#ff8600" stroke-width="0.6" d="M287.6 42.4L302.3 36.6 288.2 32.9 273.5 38.4ZM498.2 58.4L512 52.8 495.7 49 481.8 54.4Z"/>
<path fill="#ff7e00" stroke="#ff7e00" stroke-width="0.6" d="M273.5 38.4L288.2 32.9 274.3 29.2 259.7 34.4ZM420.1 48.4L434.2 43.2 418.8 39.7 404.7 44.6ZM528.6 56.6L542.3 51.5 525.7 47.9 512 52.8Z"/>
<path fill="#ff7600" stroke="#ff7600" stroke-width="0.6" d="M259.7 34.4L274.3 29.2 260.6 25.6 246 30.5ZM302.3 36.6L316.8 31.6 302.7 28.1 288.2 32.9ZM449.8 46.8L463.7 42 448.1 38.7 434.2 43.2Z"/>
<path fill="#ffe400" stroke="#ffe400" stroke-width="0.6" d="M505.6 96L520.2 87 503.1 81.8 488.5 90.5Z"/>
<path fill="#ffcf00" stroke="#ffcf00" stroke-width="0.6" d="M471.7 85.3L486.3 76.9 469.7 72.1 455.1 80.2Z"/>
<path fill="#ffc500" stroke="#ffc500" stroke-width="0.6" d="M455.1 80.2L469.7 72.1 453.3 67.5 438.8 75.2Z"/>
<path fill="#ffb300" stroke="#ffb300" stroke-width="0.6" d="M422.7 70.4L437.2 63 421.4 58.7 406.8 65.8Z"/>
<path fill="#ffaa00" stroke="#ffaa00" stroke-width="0.6" d="M406.8 65.8L421.4 58.7 405.8 54.5 391.2 61.3Z"/>
<path fill="#ffa200" stroke="#ffa200" stroke-width="0.6" d="M391.2 61.3L405.8 54.5 390.4 50.4 375.9 56.9Z"/>
<path fill="#ff9200" stroke="#ff9200" stroke-width="0.6" d="M360.7 52.6L375.2 46.4 360.3 42.6 345.8 48.5Z"/>
<path fill="#ff8b00" stroke="#ff8b00" stroke-width="0.6" d="M345.8 48.5L360.3 42.6 345.6 38.8 331.1 44.4Z"/>
<path fill="#ff8300" stroke="#ff8300" stroke-width="0.6" d="M331.1 44.4L345.6 38.8 331.1 35.2 316.6 40.5ZM435.7 52.3L449.8 46.8 434.2 43.2 420.1 48.4ZM545.5 60.6L559.1 55.2 542.3 51.5 528.6 56.6Z"/>
<path fill="#ff7d00" stroke="#ff7d00" stroke-width="0.6" d="M316.6 40.5L331.1 35.2 316.8 31.6 302.3 36.6Z"/>
<path fill="#ff6f00" stroke="#ff6f00" stroke-width="0.6" d="M288.2 32.9L302.7 28.1 288.8 24.7 274.3 29.2ZM331.1 35.2L345.4 30.6 331.1 27.3 316.8 31.6Z"/>
<path fill="#ff6900" stroke="#ff6900" stroke-width="0.6" d="M274.3 29.2L288.8 24.7 275.1 21.4 260.6 25.6Z"/>
<path fill="#ffc800" stroke="#ffc800" stroke-width="0.6" d="M520.2 87L534.6 78.8 517.5 74 503.1 81.8Z"/>
<path fill="#ffbe00" stroke="#ffbe00" stroke-width="0.6" d="M503.1 81.8L517.5 74 500.6 69.3 486.3 76.9Z"/>
<path fill="#ffac00" stroke="#ffac00" stroke-width="0.6" d="M469.7 72.1L484 64.8 467.7 60.5 453.3 67.5Z"/>
<path fill="#ffa400" stroke="#ffa400" stroke-width="0.6" d="M453.3 67.5L467.7 60.5 451.6 56.4 437.2 63Z"/>
<path fill="#ff9c00" stroke="#ff9c00" stroke-width="0.6" d="M437.2 63L451.6 56.4 435.7 52.3 421.4 58.7Z"/>
<path fill="#ff9500" stroke="#ff9500" stroke-width="0.6" d="M421.4 58.7L435.7 52.3 420.1 48.4 405.8 54.5Z"/>
<path fill="#ff8100" stroke="#ff8100" stroke-width="0.6" d="M375.2 46.4L389.5 41 374.6 37.4 360.3 42.6Z"/>
<path fill="#ff7b00" stroke="#ff7b00" stroke-width="0.6" d="M360.3 42.6L374.6 37.4 359.9 34 345.6 38.8ZM465.7 50.5L479.6 45.5 463.7 42 449.8 46.8Z"/>
<path fill="#ff7500" stroke="#ff7500" stroke-width="0.6" d="M345.6 38.8L359.9 34 345.4 30.6 331.1 35.2ZM495.7 49L509.3 44.5 493.2 41.2 479.6 45.5Z"/>
<path fill="#ff6a00" stroke="#ff6a00" stroke-width="0.6" d="M316.8 31.6L331.1 27.3 317 24.1 302.7 28.1ZM359.9 34L374 29.9 359.4 26.8 345.4 30.6ZM403.6 36.3L417.5 32.4 402.6 29.4 388.7 33ZM448.1 38.7L461.7 35 446.3 32.1 432.7 35.5Z"/>
<path fill="#ff6500" stroke="#ff6500" stroke-width="0.6" d="M302.7 28.1L317 24.1 303.1 21 288.8 24.7ZM417.5 32.4L431.2 29.3 416.2 26.6 402.6 29.4Z"/>
<path fill="#ff5f00" stroke="#ff5f00" stroke-width="0.6" d="M288.8 24.7L303.1 21 289.4 17.9 275.1 21.4ZM373.3 23.7L387 21.4 372.7 19 359 21Z"/>
<path fill="#ffaf00" stroke="#ffaf00" stroke-width="0.6" d="M534.6 78.8L548.7 71.4 531.6 66.9 517.5 74Z"/>
<path fill="#ffa600" stroke="#ffa600" stroke-width="0.6" d="M517.5 74L531.6 66.9 514.8 62.6 500.6 69.3Z"/>
<path fill="#ff9700" stroke="#ff9700" stroke-width="0.6" d="M484 64.8L498.2 58.4 481.8 54.4 467.7 60.5Z"/>
<path fill="#ff9000" stroke="#ff9000" stroke-width="0.6" d="M467.7 60.5L481.8 54.4 465.7 50.5 451.6 56.4Z"/>
<path fill="#ff8a00" stroke="#ff8a00" stroke-width="0.6" d="M451.6 56.4L465.7 50.5 449.8 46.8 435.7 52.3Z"/>
<path fill="#ff7800" stroke="#ff7800" stroke-width="0.6" d="M404.7 44.6L418.8 39.7 403.6 36.3 389.5 41Z"/>
<path fill="#ff7300" stroke="#ff7300" stroke-width="0.6" d="M389.5 41L403.6 36.3 388.7 33 374.6 37.4Z"/>
<path fill="#ff6e00" stroke="#ff6e00" stroke-width="0.6" d="M374.6 37.4L388.7 33 374 29.9 359.9 34ZM418.8 39.7L432.7 35.5 417.5 32.4 403.6 36.3Z"/>
<path fill="#ff6600" stroke="#ff6600" stroke-width="0.6" d="M345.4 30.6L359.4 26.8 345.1 23.8 331.1 27.3ZM388.7 33L402.6 29.4 387.8 26.5 374 29.9Z"/>
<path fill="#ff6200" stroke="#ff6200" stroke-width="0.6" d="M331.1 27.3L345.1 23.8 331.1 20.9 317 24.1Z"/>
<path fill="#ff5e00" stroke="#ff5e00" stroke-width="0.6" d="M317 24.1L331.1 20.9 317.2 18 303.1 21ZM345.1 23.8L359 21 344.9 18.4 331.1 20.9ZM359 21L372.7 19 358.6 16.6 344.9 18.4Z"/>
<path fill="#ff5a00" stroke="#ff5a00" stroke-width="0.6" d="M303.1 21L317.2 18 303.5 15.2 289.4 17.9Z"/>
<path fill="#ff9300" stroke="#ff9300" stroke-width="0.6" d="M531.6 66.9L545.5 60.6 528.6 56.6 514.8 62.6Z"/>
<path fill="#ff8c00" stroke="#ff8c00" stroke-width="0.6" d="M514.8 62.6L528.6 56.6 512 52.8 498.2 58.4Z"/>
<path fill="#ff8000" stroke="#ff8000" stroke-width="0.6" d="M481.8 54.4L495.7 49 479.6 45.5 465.7 50.5Z"/>
<path fill="#ff7200" stroke="#ff7200" stroke-width="0.6" d="M434.2 43.2L448.1 38.7 432.7 35.5 418.8 39.7Z"/>
<path fill="#ff6300" stroke="#ff6300" stroke-width="0.6" d="M374 29.9L387.8 26.5 373.3 23.7 359.4 26.8ZM402.6 29.4L416.2 26.6 401.5 24 387.8 26.5Z"/>
<path fill="#ff6000" stroke="#ff6000" stroke-width="0.6" d="M359.4 26.8L373.3 23.7 359 21 345.1 23.8Z"/>
<path fill="#ff5b00" stroke="#ff5b00" stroke-width="0.6" d="M331.1 20.9L344.9 18.4 331 15.8 317.2 18Z"/>
<path fill="#ff5900" stroke="#ff5900" stroke-width="0.6" d="M317.2 18L331 15.8 317.4 13.3 303.5 15.2Z"/>
<path fill="#ff8900" stroke="#ff8900" stroke-width="0.6" d="M562.6 64.8L576.2 59.1 559.1 55.2 545.5 60.6Z"/>
<path fill="#ff7900" stroke="#ff7900" stroke-width="0.6" d="M512 52.8L525.7 47.9 509.3 44.5 495.7 49Z"/>
<path fill="#ff7100" stroke="#ff7100" stroke-width="0.6" d="M479.6 45.5L493.2 41.2 477.4 38.1 463.7 42Z"/>
<path fill="#ff6d00" stroke="#ff6d00" stroke-width="0.6" d="M463.7 42L477.4 38.1 461.7 35 448.1 38.7Z"/>
<path fill="#ff6700" stroke="#ff6700" stroke-width="0.6" d="M432.7 35.5L446.3 32.1 431.2 29.3 417.5 32.4Z"/>
<path fill="#ff6100" stroke="#ff6100" stroke-width="0.6" d="M387.8 26.5L401.5 24 387 21.4 373.3 23.7Z"/>
<path fill="#ff5d00" stroke="#ff5d00" stroke-width="0.6" d="M344.9 18.4L358.6 16.6 344.7 14.3 331 15.8Z"/>
<path fill="#ff5c00" stroke="#ff5c00" stroke-width="0.6" d="M331 15.8L344.7 14.3 331 12.1 317.4 13.3Z"/>
<linearGradient id="lgb" gradientUnits="userSpaceOnUse" x1="0" y1="0" x2="0" y2="250"><stop offset="0" stop-color="#000" stop-opacity="0.5"/><stop offset="0.12" stop-color="#000" stop-opacity="0.6"/><stop offset="0.4" stop-color="#000" stop-opacity="0.8"/><stop offset="1" stop-color="#000" stop-opacity="0.85"/></linearGradient>
<path fill="none" stroke="url(#lgb)" stroke-width="0.9" d="M330.8 246.4 314 237.1 297.5 228.1 281.2 219.2 265.2 210.6 249.4 202.1 233.8 193.8 218.5 185.7 203.3 177.7 188.5 169.8 173.8 162.1 159.3 154.6 145 147.1 131 139.8 117.1 132.6 103.5 125.4 90 118.4M335.3 241.7 318.5 232.5 302 223.6 285.7 214.8 269.6 206.3 253.8 197.9 238.3 189.7 222.9 181.6 207.8 173.7 192.9 166 178.2 158.4 163.7 150.9 149.4 143.5 135.4 136.3 121.5 129.2 107.8 122.1 94.4 115.2M339.8 237 323 228 306.5 219.1 290.2 210.5 274.1 202 258.3 193.7 242.7 185.6 227.3 177.7 212.2 169.9 197.3 162.2 182.6 154.7 168.1 147.3 153.8 140 139.8 132.9 125.9 125.8 112.2 118.9 98.7 112M344.3 232.4 327.5 223.5 310.9 214.7 294.6 206.2 278.6 197.8 262.7 189.6 247.1 181.6 231.8 173.7 216.6 166 201.7 158.5 187 151 172.5 143.7 158.2 136.5 144.1 129.5 130.2 122.5 116.6 115.6 103.1 108.9M348.8 227.9 332 219 315.4 210.4 299.1 201.9 283 193.6 267.1 185.5 251.5 177.6 236.2 169.8 221 162.2 206.1 154.8 191.4 147.4 176.9 140.2 162.6 133.1 148.5 126.1 134.6 119.2 120.9 112.5 107.4 105.8M353.3 223.4 336.4 214.6 319.8 206.1 303.5 197.7 287.4 189.5 271.6 181.5 255.9 173.7 240.6 166 225.4 158.5 210.5 151.1 195.7 143.8 181.2 136.7 166.9 129.7 152.8 122.8 138.9 116 125.2 109.3 111.7 102.7M357.7 219 340.9 210.3 324.3 201.8 307.9 193.5 291.8 185.5 276 177.6 260.3 169.8 244.9 162.2 229.8 154.8 214.8 147.5 200.1 140.3 185.6 133.3 171.3 126.4 157.2 119.6 143.3 112.9 129.5 106.3 116 99.8M362.2 214.6 345.3 206 328.7 197.6 312.3 189.4 296.2 181.4 280.4 173.6 264.7 166 249.3 158.5 234.1 151.1 219.2 143.9 204.4 136.9 189.9 129.9 175.6 123.1 161.5 116.4 147.6 109.8 133.9 103.2 120.3 96.8M366.6 210.2 349.7 201.7 333.1 193.5 316.7 185.4 300.6 177.5 284.7 169.8 269.1 162.2 253.7 154.8 238.5 147.5 223.5 140.4 208.8 133.4 194.2 126.6 179.9 119.8 165.8 113.2 151.9 106.7 138.1 100.3 124.6 93.9M371 205.9 354.1 197.5 337.5 189.4 321.1 181.4 305 173.6 289.1 165.9 273.4 158.5 258 151.1 242.8 144 227.8 137 213.1 130.1 198.6 123.3 184.2 116.7 170.1 110.1 156.2 103.7 142.4 97.3 128.9 91.1M375.4 201.7 358.5 193.4 341.9 185.3 325.5 177.4 309.3 169.7 293.4 162.2 277.8 154.8 262.4 147.6 247.1 140.5 232.2 133.5 217.4 126.7 202.9 120.1 188.5 113.5 174.4 107 160.4 100.7 146.7 94.4 133.2 88.3M379.8 197.5 362.9 189.3 346.2 181.3 329.8 173.5 313.7 165.9 297.8 158.4 282.1 151.1 266.7 144 251.5 137 236.5 130.2 221.7 123.5 207.1 116.9 192.8 110.4 178.7 104 164.7 97.8 151 91.6 137.4 85.5M384.2 193.3 367.3 185.3 350.6 177.4 334.2 169.6 318 162.1 302.1 154.8 286.4 147.6 271 140.5 255.8 133.6 240.8 126.9 226 120.2 211.4 113.7 197.1 107.4 182.9 101.1 169 94.9 155.2 88.8 141.7 82.8M388.5 189.3 371.6 181.3 354.9 173.4 338.5 165.8 322.4 158.4 306.4 151.1 290.7 144 275.3 137.1 260.1 130.3 245.1 123.6 230.3 117.1 215.7 110.7 201.3 104.4 187.2 98.2 173.2 92.1 159.5 86.1 145.9 80.1M392.9 185.2 375.9 177.3 359.3 169.6 342.8 162.1 326.7 154.7 310.7 147.6 295 140.5 279.6 133.7 264.3 127 249.3 120.4 234.5 113.9 220 107.6 205.6 101.4 191.4 95.3 177.5 89.3 163.7 83.4 150.1 77.5M397.2 181.2 380.3 173.4 363.6 165.8 347.1 158.4 331 151.1 315 144 299.3 137.1 283.8 130.3 268.6 123.7 253.6 117.2 238.8 110.9 224.2 104.6 209.8 98.5 195.7 92.5 181.7 86.6 167.9 80.7 154.3 75M401.5 177.3 384.6 169.6 367.9 162.1 351.4 154.7 335.2 147.6 319.3 140.6 303.6 133.7 288.1 127 272.9 120.5 257.8 114.1 243 107.8 228.4 101.7 214 95.6 199.9 89.7 185.9 83.9 172.1 78.1 158.5 72.5M405.8 173.4 388.9 165.8 372.2 158.4 355.7 151.1 339.5 144 323.6 137.1 307.8 130.4 292.4 123.8 277.1 117.4 262.1 111 247.2 104.9 232.7 98.8 218.3 92.8 204.1 87 190.1 81.2 176.3 75.6 162.7 70M410.1 169.6 393.1 162.1 376.4 154.7 360 147.6 343.8 140.6 327.8 133.8 312.1 127.1 296.6 120.6 281.3 114.3 266.3 108 251.5 101.9 236.9 96 222.5 90.1 208.3 84.3 194.3 78.7 180.5 73.1 166.9 67.6M414.4 165.8 397.4 158.4 380.7 151.1 364.2 144.1 348 137.2 332 130.5 316.3 123.9 300.8 117.5 285.5 111.2 270.5 105.1 255.7 99.1 241.1 93.2 226.7 87.4 212.5 81.7 198.5 76.1 184.7 70.6 171.1 65.2M418.6 162.1 401.7 154.7 384.9 147.6 368.5 140.6 352.2 133.8 336.3 127.2 320.5 120.7 305 114.4 289.7 108.2 274.7 102.2 259.9 96.2 245.2 90.4 230.8 84.7 216.6 79.1 202.6 73.6 188.8 68.2 175.2 62.9M422.9 158.4 405.9 151.2 389.2 144.1 372.7 137.2 356.5 130.5 340.5 124 324.7 117.6 309.2 111.4 293.9 105.3 278.9 99.3 264 93.5 249.4 87.7 235 82.1 220.8 76.6 206.8 71.2 193 65.9 179.4 60.6M427.1 154.8 410.1 147.6 393.4 140.7 376.9 133.9 360.7 127.3 344.7 120.8 328.9 114.5 313.4 108.4 298.1 102.4 283 96.5 268.2 90.7 253.6 85.1 239.2 79.6 224.9 74.1 210.9 68.8 197.1 63.6 183.5 58.4M431.3 151.2 414.3 144.2 397.6 137.3 381.1 130.6 364.9 124.1 348.9 117.7 333.1 111.5 317.6 105.4 302.3 99.5 287.2 93.7 272.3 88.1 257.7 82.5 243.3 77.1 229.1 71.7 215.1 66.5 201.3 61.3 187.6 56.2M435.5 147.7 418.5 140.8 401.8 134 385.3 127.4 369 120.9 353 114.6 337.3 108.5 321.7 102.6 306.4 96.7 291.3 91 276.5 85.4 261.8 80 247.4 74.6 233.2 69.4 219.2 64.2 205.4 59.1 191.7 54.1M439.7 144.3 422.7 137.4 406 130.7 389.5 124.2 373.2 117.8 357.2 111.6 341.4 105.6 325.9 99.7 310.6 94 295.5 88.4 280.6 82.9 266 77.5 251.5 72.2 237.3 67 223.3 62 209.5 57 195.8 52.1M443.9 140.9 426.9 134.1 410.1 127.5 393.6 121 377.3 114.8 361.3 108.7 345.5 102.7 330 97 314.7 91.3 299.6 85.8 284.7 80.3 270.1 75.1 255.6 69.9 241.4 64.8 227.4 59.8 213.6 54.9 199.9 50M448.1 137.5 431 130.8 414.3 124.3 397.7 118 381.5 111.8 365.4 105.8 349.7 99.9 334.1 94.2 318.8 88.7 303.7 83.2 288.8 77.9 274.2 72.7 259.7 67.6 245.5 62.6 231.5 57.6 217.6 52.8 204 48.1M452.2 134.3 435.2 127.6 418.4 121.2 401.9 115 385.6 108.9 369.6 103 353.8 97.2 338.2 91.6 322.9 86.1 307.8 80.7 292.9 75.5 278.3 70.3 263.8 65.3 249.6 60.4 235.5 55.6 221.7 50.8 208.1 46.1M456.3 131 439.3 124.5 422.5 118.2 406 112 389.7 106 373.7 100.2 357.9 94.5 342.3 88.9 327 83.5 311.9 78.3 297 73.1 282.3 68.1 267.9 63.1 253.6 58.3 239.6 53.5 225.7 48.9 212.1 44.3M460.4 127.8 443.4 121.4 426.6 115.2 410.1 109.1 393.8 103.2 377.7 97.4 361.9 91.8 346.4 86.4 331 81.1 315.9 75.9 301 70.8 286.4 65.8 271.9 61 257.7 56.2 243.6 51.6 229.8 47 216.1 42.5M464.5 124.7 447.5 118.4 430.7 112.2 414.2 106.2 397.9 100.4 381.8 94.8 366 89.2 350.4 83.9 335.1 78.6 320 73.5 305.1 68.5 290.4 63.7 276 58.9 261.7 54.2 247.7 49.6 233.8 45.1 220.2 40.7M468.6 121.7 451.6 115.4 434.8 109.3 418.2 103.4 401.9 97.7 385.9 92.1 370.1 86.7 354.5 81.4 339.1 76.3 324 71.2 309.1 66.3 294.4 61.5 280 56.9 265.7 52.3 251.7 47.8 237.8 43.3 224.2 39M472.7 118.6 455.6 112.5 438.8 106.5 422.3 100.7 406 95 389.9 89.6 374.1 84.2 358.5 79 343.2 74 328 69 313.1 64.2 298.5 59.5 284 54.9 269.7 50.4 255.7 45.9 241.8 41.6 228.2 37.3M476.7 115.7 459.7 109.6 442.9 103.7 426.3 98 410 92.4 393.9 87 378.1 81.8 362.5 76.7 347.2 71.7 332.1 66.8 317.1 62.1 302.5 57.5 288 52.9 273.7 48.5 259.7 44.2 245.8 39.9 232.1 35.7M480.8 112.8 463.7 106.8 446.9 101 430.3 95.4 414 89.9 398 84.6 382.1 79.4 366.5 74.4 351.2 69.5 336 64.7 321.1 60.1 306.4 55.5 292 51.1 277.7 46.7 263.6 42.4 249.8 38.3 236.1 34.1M484.8 110 467.7 104.1 450.9 98.3 434.3 92.8 418 87.4 401.9 82.2 386.1 77.1 370.5 72.1 355.2 67.3 340 62.6 325.1 58.1 310.4 53.6 295.9 49.2 281.7 45 267.6 40.8 253.7 36.7 240.1 32.6M488.8 107.2 471.7 101.4 454.9 95.7 438.3 90.3 422 85 405.9 79.8 390.1 74.8 374.5 70 359.1 65.2 344 60.6 329.1 56.1 314.4 51.7 299.9 47.5 285.6 43.3 271.6 39.2 257.7 35.1 244 31.2M492.8 104.4 475.7 98.7 458.9 93.2 442.3 87.8 426 82.6 409.9 77.5 394.1 72.6 378.5 67.8 363.1 63.2 348 58.7 333 54.2 318.3 49.9 303.8 45.7 289.6 41.6 275.5 37.6 261.6 33.6 248 29.8M496.7 101.8 479.7 96.1 462.8 90.7 446.3 85.4 429.9 80.3 413.9 75.3 398 70.4 382.4 65.8 367 61.2 351.9 56.7 337 52.4 322.3 48.2 307.8 44.1 293.5 40 279.4 36.1 265.6 32.2 251.9 28.4M500.7 99.2 483.6 93.6 466.8 88.2 450.2 83 433.9 78 417.8 73.1 401.9 68.3 386.3 63.7 371 59.2 355.8 54.9 340.9 50.6 326.2 46.5 311.7 42.4 297.4 38.5 283.3 34.6 269.5 30.8 255.8 27.1M504.6 96.6 487.5 91.1 470.7 85.8 454.1 80.7 437.8 75.8 421.7 71 405.9 66.3 390.3 61.8 374.9 57.4 359.7 53.1 344.8 48.9 330.1 44.8 315.6 40.9 301.3 37 287.2 33.2 273.4 29.5 259.7 25.9M508.6 94.1 491.5 88.7 474.6 83.5 458 78.5 441.7 73.6 425.6 68.9 409.8 64.3 394.2 59.9 378.8 55.5 363.6 51.3 348.7 47.2 334 43.3 319.5 39.4 305.2 35.6 291.1 31.9 277.2 28.2 263.6 24.7M512.5 91.7 495.4 86.4 478.5 81.3 461.9 76.3 445.6 71.5 429.5 66.9 413.7 62.4 398 58 382.7 53.8 367.5 49.6 352.6 45.6 337.9 41.7 323.4 37.9 309.1 34.2 295 30.6 281.1 27 267.4 23.5M516.3 89.3 499.2 84.1 482.4 79 465.8 74.2 449.5 69.5 433.4 64.9 417.5 60.5 401.9 56.2 386.5 52 371.4 48 356.4 44.1 341.7 40.2 327.2 36.5 312.9 32.9 298.8 29.3 285 25.8 271.3 22.4M520.2 87 503.1 81.8 486.3 76.9 469.7 72.1 453.3 67.5 437.2 63 421.4 58.7 405.8 54.5 390.4 50.4 375.2 46.4 360.3 42.6 345.6 38.8 331.1 35.2 316.8 31.6 302.7 28.1 288.8 24.7 275.1 21.4M524.1 84.7 507 79.7 490.1 74.8 473.5 70.1 457.2 65.5 441.1 61.1 425.2 56.9 409.6 52.8 394.2 48.8 379.1 44.9 364.1 41.1 349.4 37.4 334.9 33.9 320.6 30.4 306.5 27 292.6 23.7 278.9 20.4M527.9 82.5 510.8 77.5 494 72.7 477.4 68.1 461 63.7 444.9 59.4 429.1 55.2 413.4 51.1 398 47.2 382.9 43.4 367.9 39.7 353.2 36.1 338.7 32.6 324.4 29.2 310.3 25.9 296.4 22.6 282.8 19.5M531.7 80.3 514.6 75.5 497.8 70.8 481.2 66.2 464.8 61.9 448.7 57.6 432.9 53.5 417.2 49.6 401.9 45.7 386.7 42 371.7 38.4 357 34.9 342.5 31.4 328.2 28.1 314.1 24.9 300.2 21.7 286.6 18.6M535.5 78.2 518.4 73.5 501.6 68.8 485 64.4 468.6 60.1 452.5 55.9 436.7 51.9 421 48 405.6 44.3 390.5 40.6 375.5 37.1 360.8 33.7 346.3 30.3 332 27.1 317.9 23.9 304 20.8 290.3 17.7M539.3 76.2 522.2 71.5 505.4 67 488.8 62.6 472.4 58.4 456.3 54.3 440.4 50.4 424.8 46.6 409.4 42.9 394.3 39.3 379.3 35.9 364.6 32.5 350.1 29.2 335.8 26.1 321.7 22.9 307.8 19.9 294.1 17M543.1 74.2 526 69.6 509.1 65.2 492.5 60.9 476.2 56.7 460.1 52.7 444.2 48.9 428.6 45.2 413.2 41.6 398 38.1 383.1 34.7 368.3 31.4 353.8 28.2 339.5 25.1 325.4 22.1 311.6 19.1 297.9 16.2M546.8 72.3 529.7 67.8 512.9 63.4 496.3 59.2 479.9 55.1 463.8 51.2 448 47.5 432.3 43.8 416.9 40.3 401.8 36.9 386.8 33.6 372.1 30.4 357.6 27.2 343.3 24.2 329.2 21.2 315.3 18.4 301.6 15.6M550.6 70.5 533.5 66 516.6 61.7 500 57.6 483.7 53.6 467.6 49.8 451.7 46.1 436.1 42.5 420.7 39.1 405.5 35.7 390.6 32.5 375.8 29.4 361.3 26.3 347 23.4 332.9 20.5 319 17.7 305.3 14.9M554.3 68.7 537.2 64.3 520.3 60.1 503.7 56 487.4 52.1 471.3 48.4 455.4 44.8 439.8 41.3 424.4 37.9 409.2 34.6 394.3 31.5 379.5 28.4 365 25.5 350.7 22.6 336.6 19.8 322.7 17 309 14.4M558 66.9 540.9 62.6 524 58.5 507.4 54.5 491.1 50.7 475 47 459.1 43.5 443.5 40.1 428.1 36.8 412.9 33.6 398 30.5 383.2 27.5 368.7 24.6 354.4 21.8 340.3 19.1 326.4 16.4 312.7 13.8M561.7 65.3 544.6 61 527.7 57 511.1 53.1 494.8 49.4 478.7 45.8 462.8 42.3 447.2 39 431.8 35.7 416.6 32.6 401.7 29.6 386.9 26.7 372.4 23.9 358.1 21.2 344 18.5 330.1 15.9 316.4 13.4M565.4 63.6 548.2 59.5 531.4 55.5 514.8 51.7 498.4 48.1 482.3 44.5 466.5 41.2 450.8 37.9 435.4 34.7 420.3 31.7 405.3 28.8 390.6 25.9 376.1 23.2 361.8 20.5 347.7 17.9 333.8 15.4 320.1 13M569 62.1 551.9 58 535 54.1 518.4 50.4 502.1 46.8 486 43.4 470.1 40.1 454.5 36.9 439.1 33.8 423.9 30.8 409 28 394.2 25.2 379.7 22.6 365.4 20 351.3 17.4 337.5 15 323.8 12.6M572.6 60.6 555.5 56.6 538.7 52.8 522.1 49.1 505.7 45.6 489.6 42.3 473.8 39 458.1 35.9 442.7 32.9 427.6 30 412.6 27.3 397.9 24.6 383.4 22 369.1 19.4 355 17 341.1 14.6 327.4 12.3M576.2 59.1 559.1 55.2 542.3 51.5 525.7 47.9 509.3 44.5 493.2 41.2 477.4 38.1 461.7 35 446.3 32.1 431.2 29.3 416.2 26.6 401.5 24 387 21.4 372.7 19 358.6 16.6 344.7 14.3 331 12.1M330.8 246.4 347.7 229 364.4 212.4 380.9 196.5 397.2 181.2 413.3 166.8 429.2 153 444.9 140 460.4 127.8 475.7 116.4 490.8 105.8 505.6 96 520.2 87 534.6 78.8 548.7 71.4 562.6 64.8 576.2 59.1M326.3 243.9 343.2 226.6 359.9 210.1 376.4 194.3 392.7 179.1 408.8 164.7 424.7 151.1 440.4 138.2 455.9 126.1 471.1 114.8 486.2 104.2 501 94.5 515.6 85.6 530 77.5 544.1 70.2 558 63.7 571.7 58.1M321.8 241.4 338.7 224.3 355.4 207.8 371.8 192.1 388.1 177 404.2 162.7 420.1 149.2 435.8 136.4 451.3 124.4 466.6 113.1 481.6 102.7 496.5 93 511.1 84.2 525.4 76.2 539.6 69 553.4 62.6 567.1 57M317.4 238.9 334.2 221.9 350.9 205.5 367.3 189.9 383.6 175 399.7 160.8 415.6 147.3 431.3 134.6 446.8 122.7 462 111.5 477.1 101.2 491.9 91.6 506.5 82.8 520.9 74.9 535 67.8 548.9 61.5 562.5 56M312.9 236.5 329.8 219.6 346.4 203.3 362.9 187.7 379.1 172.9 395.2 158.8 411.1 145.4 426.8 132.8 442.3 121 457.5 109.9 472.6 99.6 487.4 90.2 502 81.5 516.4 73.6 530.5 66.6 544.4 60.4 558 55M308.5 234.1 325.3 217.2 342 201.1 358.4 185.6 374.7 170.9 390.7 156.8 406.6 143.6 422.3 131.1 437.8 119.3 453 108.3 468.1 98.1 482.9 88.8 497.5 80.2 511.8 72.4 526 65.4 539.8 59.3 553.5 54M304.1 231.7 320.9 214.9 337.5 198.8 354 183.5 370.2 168.8 386.3 154.9 402.2 141.7 417.8 129.3 433.3 117.6 448.5 106.8 463.6 96.7 478.4 87.3 493 78.8 507.3 71.1 521.5 64.3 535.4 58.2 549 53M299.7 229.3 316.5 212.6 333.1 196.6 349.5 181.4 365.8 166.8 381.8 153 397.7 139.9 413.4 127.6 428.8 116 444.1 105.2 459.1 95.2 473.9 86 488.5 77.5 502.9 69.9 517 63.1 530.9 57.1 544.5 52M295.3 226.9 312.1 210.3 328.7 194.4 345.1 179.3 361.4 164.8 377.4 151.1 393.3 138.1 408.9 125.8 424.4 114.3 439.6 103.6 454.7 93.7 469.5 84.6 484 76.2 498.4 68.7 512.5 62 526.4 56.1 540.1 51M291 224.5 307.7 208 324.3 192.3 340.7 177.2 357 162.8 373 149.2 388.9 136.3 404.5 124.1 420 112.7 435.2 102.1 450.2 92.2 465 83.2 479.6 75 494 67.5 508.1 60.9 522 55.1 535.6 50.1M286.6 222.2 303.4 205.8 320 190.1 336.4 175.1 352.6 160.8 368.6 147.3 384.5 134.5 400.1 122.4 415.6 111.1 430.8 100.6 445.8 90.8 460.6 81.8 475.2 73.7 489.5 66.3 503.7 59.8 517.5 54 531.2 49.1M282.3 219.8 299 203.5 315.6 187.9 332 173 348.2 158.9 364.3 145.4 380.1 132.7 395.7 120.7 411.2 109.5 426.4 99 441.4 89.4 456.2 80.5 470.8 72.4 485.1 65.1 499.3 58.7 513.1 53 526.8 48.2M278 217.5 294.7 201.3 311.3 185.8 327.7 171 343.9 156.9 359.9 143.5 375.7 130.9 391.4 119 406.8 107.9 422 97.5 437 88 451.8 79.2 466.4 71.2 480.7 64 494.9 57.6 508.7 52 522.4 47.2M273.7 215.2 290.4 199.1 307 183.7 323.4 169 339.6 155 355.6 141.7 371.4 129.1 387 117.3 402.4 106.3 417.7 96 432.7 86.5 447.5 77.8 462 69.9 476.4 62.8 490.5 56.5 504.4 51 518 46.3M269.4 212.9 286.1 196.9 302.7 181.6 319.1 166.9 335.3 153 351.3 139.8 367.1 127.4 382.7 115.7 398.1 104.7 413.3 94.6 428.3 85.1 443.1 76.5 457.7 68.7 472 61.7 486.1 55.4 500 50 513.7 45.4M265.2 210.6 281.9 194.7 298.4 179.5 314.8 164.9 331 151.1 347 138 362.8 125.7 378.4 114 393.8 103.2 409 93.1 424 83.8 438.8 75.2 453.3 67.5 467.7 60.5 481.8 54.4 495.7 49 509.3 44.5M260.9 208.3 277.6 192.5 294.2 177.4 310.5 162.9 326.7 149.2 342.7 136.2 358.5 123.9 374.1 112.4 389.5 101.6 404.7 91.6 419.7 82.4 434.5 73.9 449 66.3 463.4 59.4 477.5 53.3 491.4 48.1 505 43.6M256.7 206 273.4 190.3 289.9 175.3 306.3 160.9 322.4 147.3 338.4 134.4 354.2 122.2 369.8 110.8 385.2 100.1 400.4 90.2 415.4 81 430.2 72.7 444.7 65.1 459.1 58.3 473.2 52.3 487.1 47.1 500.7 42.7M252.5 203.8 269.2 188.2 285.7 173.2 302 159 318.2 145.4 334.2 132.6 349.9 120.5 365.5 109.2 380.9 98.6 396.1 88.7 411.1 79.7 425.9 71.4 440.4 63.9 454.8 57.2 468.9 51.3 482.8 46.2 496.4 41.9M248.3 201.5 265 186 281.5 171.2 297.8 157 314 143.6 329.9 130.8 345.7 118.8 361.3 107.6 376.7 97.1 391.9 87.3 406.9 78.3 421.6 70.1 436.2 62.7 450.5 56.1 464.6 50.2 478.5 45.2 492.2 41M244.2 199.3 260.8 183.9 277.3 169.1 293.6 155.1 309.8 141.7 325.7 129.1 341.5 117.1 357.1 106 372.5 95.5 387.6 85.9 402.6 77 417.4 68.9 431.9 61.5 446.3 55 460.4 49.2 474.3 44.3 487.9 40.1M240 197.1 256.6 181.8 273.1 167.1 289.4 153.1 305.6 139.9 321.5 127.3 337.3 115.5 352.9 104.4 368.2 94.1 383.4 84.5 398.4 75.7 413.2 67.6 427.7 60.4 442 53.9 456.1 48.2 470 43.4 483.7 39.3M235.9 194.9 252.5 179.7 269 165.1 285.3 151.2 301.4 138 317.3 125.6 333.1 113.8 348.7 102.8 364 92.6 379.2 83.1 394.2 74.4 408.9 66.4 423.5 59.2 437.8 52.8 451.9 47.3 465.8 42.5 479.5 38.5M231.7 192.7 248.4 177.6 264.8 163.1 281.1 149.3 297.2 136.2 313.2 123.8 328.9 112.2 344.5 101.3 359.9 91.1 375 81.7 390 73.1 404.7 65.2 419.3 58.1 433.6 51.8 447.7 46.3 461.6 41.6 475.3 37.6M227.6 190.5 244.3 175.5 260.7 161.1 277 147.4 293.1 134.4 309 122.1 324.8 110.5 340.3 99.7 355.7 89.6 370.9 80.3 385.8 71.8 400.6 64 415.1 57 429.4 50.7 443.6 45.3 457.4 40.7 471.1 36.8M223.5 188.4 240.2 173.4 256.6 159.1 272.9 145.5 289 132.6 304.9 120.4 320.6 108.9 336.2 98.2 351.5 88.2 366.7 78.9 381.7 70.5 396.4 62.8 411 55.8 425.3 49.7 439.4 44.3 453.3 39.8 466.9 36M219.5 186.2 236.1 171.3 252.5 157.1 268.8 143.6 284.9 130.8 300.8 118.7 316.5 107.3 332.1 96.6 347.4 86.7 362.6 77.6 377.5 69.2 392.3 61.6 406.8 54.7 421.1 48.7 435.2 43.4 449.1 38.9 462.8 35.2M215.4 184.1 232 169.3 248.4 155.2 264.7 141.7 280.8 129 296.7 117 312.4 105.7 327.9 95.1 343.3 85.3 358.4 76.2 373.4 67.9 388.1 60.4 402.7 53.6 417 47.6 431.1 42.5 445 38 458.6 34.4M211.4 181.9 228 167.2 244.4 153.2 260.6 139.9 276.7 127.2 292.6 115.3 308.3 104.1 323.9 93.6 339.2 83.9 354.3 74.9 369.3 66.7 384 59.2 398.6 52.5 412.9 46.6 427 41.5 440.9 37.2 454.5 33.6M207.4 179.8 223.9 165.2 240.3 151.3 256.6 138 272.6 125.5 288.5 113.6 304.2 102.5 319.8 92.1 335.1 82.5 350.2 73.6 365.2 65.4 379.9 58.1 394.5 51.5 408.8 45.6 422.9 40.6 436.8 36.3 450.4 32.9M203.3 177.7 219.9 163.2 236.3 149.3 252.5 136.2 268.6 123.7 284.5 112 300.2 100.9 315.7 90.6 331 81.1 346.2 72.3 361.1 64.2 375.9 56.9 390.4 50.4 404.7 44.6 418.8 39.7 432.7 35.5 446.3 32.1M199.4 175.6 215.9 161.2 232.3 147.4 248.5 134.3 264.6 122 280.5 110.3 296.2 99.4 311.7 89.1 327 79.7 342.1 70.9 357.1 63 371.8 55.8 386.3 49.3 400.6 43.6 414.7 38.8 428.6 34.7 442.3 31.3M195.4 173.5 211.9 159.2 228.3 145.5 244.5 132.5 260.6 120.2 276.4 108.7 292.1 97.8 307.6 87.7 323 78.3 338.1 69.6 353 61.7 367.7 54.6 382.3 48.3 396.6 42.7 410.7 37.9 424.6 33.8 438.2 30.6M191.4 171.4 207.9 157.2 224.3 143.6 240.5 130.7 256.6 118.5 272.4 107 288.1 96.3 303.6 86.2 318.9 76.9 334.1 68.3 349 60.5 363.7 53.5 378.2 47.2 392.5 41.7 406.6 37 420.5 33 434.2 29.8M187.5 169.3 204 155.2 220.4 141.7 236.6 128.9 252.6 116.8 268.4 105.4 284.1 94.7 299.6 84.8 314.9 75.5 330.1 67.1 345 59.3 359.7 52.4 374.2 46.2 388.5 40.7 402.6 36.1 416.5 32.2 430.2 29.1M183.5 167.3 200.1 153.2 216.4 139.8 232.6 127.1 248.6 115.1 264.5 103.8 280.1 93.2 295.6 83.3 310.9 74.2 326.1 65.8 341 58.1 355.7 51.2 370.2 45.1 384.5 39.8 398.6 35.2 412.5 31.4 426.2 28.4M179.6 165.2 196.1 151.2 212.5 137.9 228.7 125.3 244.7 113.4 260.5 102.2 276.2 91.7 291.7 81.9 307 72.8 322.1 64.5 337 56.9 351.7 50.1 366.2 44.1 380.5 38.8 394.6 34.3 408.5 30.6 422.2 27.6M175.7 163.2 192.2 149.3 208.6 136.1 224.7 123.5 240.7 111.7 256.6 100.6 272.2 90.1 287.7 80.4 303 71.5 318.1 63.2 333 55.8 347.8 49 362.3 43.1 376.6 37.9 390.7 33.5 404.6 29.8 418.2 26.9M171.8 161.1 188.3 147.3 204.7 134.2 220.8 121.8 236.8 110 252.7 99 268.3 88.6 283.8 79 299.1 70.1 314.2 62 329.1 54.6 343.8 47.9 358.3 42.1 372.6 36.9 386.7 32.6 400.6 29 414.3 26.2M168 159.1 184.4 145.4 200.8 132.4 216.9 120 232.9 108.4 248.7 97.4 264.4 87.1 279.9 77.6 295.2 68.8 310.2 60.7 325.2 53.4 339.9 46.9 354.4 41.1 368.7 36 382.8 31.7 396.7 28.2 410.3 25.5M164.1 157.1 180.6 143.5 196.9 130.5 213 118.3 229 106.7 244.9 95.8 260.5 85.6 276 76.2 291.2 67.5 306.3 59.5 321.2 52.3 335.9 45.8 350.4 40.1 364.8 35.1 378.8 30.9 392.7 27.5 406.4 24.8M160.3 155.1 176.7 141.6 193 128.7 209.2 116.5 225.2 105 241 94.2 256.6 84.2 272.1 74.8 287.3 66.2 302.4 58.3 317.3 51.1 332 44.7 346.5 39.1 360.8 34.2 374.9 30.1 388.8 26.7 402.5 24.1M156.4 153.1 172.9 139.6 189.2 126.9 205.3 114.8 221.3 103.4 237.1 92.7 252.7 82.7 268.2 73.4 283.5 64.9 298.6 57 313.4 50 328.1 43.7 342.6 38.1 356.9 33.3 371 29.2 384.9 26 398.6 23.4M152.6 151.1 169.1 137.7 185.4 125.1 201.5 113.1 217.5 101.8 233.3 91.1 248.9 81.2 264.3 72 279.6 63.6 294.7 55.8 309.6 48.8 324.3 42.6 338.8 37.1 353.1 32.4 367.2 28.4 381 25.2 394.7 22.8M148.8 149.1 165.3 135.8 181.6 123.3 197.7 111.3 213.6 100.1 229.4 89.6 245 79.8 260.5 70.7 275.8 62.3 290.8 54.6 305.7 47.7 320.4 41.5 334.9 36.1 349.2 31.5 363.3 27.6 377.2 24.5 390.8 22.1M145 147.1 161.5 134 177.8 121.5 193.9 109.6 209.8 98.5 225.6 88.1 241.2 78.3 256.7 69.3 271.9 61 287 53.4 301.9 46.6 316.6 40.5 331.1 35.2 345.4 30.6 359.4 26.8 373.3 23.7 387 21.4M141.3 145.2 157.7 132.1 174 119.7 190.1 107.9 206 96.9 221.8 86.5 237.4 76.9 252.8 67.9 268.1 59.7 283.2 52.2 298 45.5 312.7 39.5 327.2 34.2 341.5 29.7 355.6 26 369.5 23 383.2 20.8M137.5 143.2 153.9 130.2 170.2 117.9 186.3 106.2 202.2 95.3 218 85 233.6 75.4 249 66.6 264.3 58.4 279.4 51 294.2 44.4 308.9 38.4 323.4 33.3 337.7 28.8 351.8 25.2 365.7 22.3 379.3 20.1M133.8 141.2 150.2 128.4 166.4 116.1 182.5 104.6 198.5 93.7 214.2 83.5 229.8 74 245.3 65.2 260.5 57.2 275.6 49.8 290.4 43.3 305.1 37.4 319.6 32.3 333.9 28 348 24.4 361.9 21.5 375.5 19.5M130.1 139.3 146.5 126.5 162.7 114.3 178.8 102.9 194.7 92.1 210.5 82 226.1 72.6 241.5 63.9 256.7 55.9 271.8 48.7 286.7 42.2 301.3 36.4 315.8 31.4 330.1 27.1 344.2 23.6 358.1 20.8 371.8 18.8M126.4 137.4 142.7 124.6 159 112.6 175.1 101.2 191 90.5 206.7 80.5 222.3 71.2 237.7 62.5 253 54.7 268 47.5 282.9 41.1 297.6 35.4 312.1 30.4 326.3 26.2 340.4 22.8 354.3 20.1 368 18.2M122.7 135.4 139 122.8 155.3 110.8 171.3 99.5 187.3 88.9 203 79 218.6 69.7 234 61.2 249.2 53.4 264.3 46.3 279.1 40 293.8 34.4 308.3 29.5 322.6 25.4 336.7 22 350.5 19.4 364.2 17.5M119 133.5 135.3 121 151.6 109.1 167.6 97.9 183.5 87.3 199.3 77.5 214.9 68.3 230.3 59.9 245.5 52.2 260.5 45.2 275.4 38.9 290.1 33.4 304.6 28.6 318.8 24.5 332.9 21.2 346.8 18.7 360.5 16.9M115.3 131.6 131.7 119.1 147.9 107.4 163.9 96.2 179.8 85.8 195.6 76 211.1 66.9 226.5 58.6 241.8 50.9 256.8 44 271.7 37.8 286.3 32.4 300.8 27.7 315.1 23.7 329.2 20.5 343.1 18 356.7 16.3M111.6 129.7 128 117.3 144.2 105.6 160.3 94.6 176.2 84.2 191.9 74.5 207.5 65.5 222.8 57.3 238.1 49.7 253.1 42.9 268 36.8 282.6 31.4 297.1 26.8 311.4 22.9 325.5 19.7 339.4 17.3 353 15.7M108 127.8 124.4 115.5 140.6 103.9 156.6 92.9 172.5 82.7 188.2 73.1 203.8 64.2 219.2 56 234.4 48.5 249.4 41.7 264.3 35.7 278.9 30.4 293.4 25.8 307.7 22 321.8 19 335.7 16.6 349.3 15.1M104.4 125.9 120.7 113.7 136.9 102.2 152.9 91.3 168.8 81.1 184.6 71.6 200.1 62.8 215.5 54.7 230.7 47.3 245.7 40.6 260.6 34.6 275.2 29.4 289.7 24.9 304 21.2 318.1 18.2 332 16 345.6 14.4M100.8 124 117.1 111.9 133.3 100.5 149.3 89.7 165.2 79.6 180.9 70.1 196.5 61.4 211.8 53.4 227 46.1 242.1 39.5 256.9 33.6 271.6 28.4 286 24 300.3 20.4 314.4 17.5 328.3 15.3 342 13.8M97.2 122.1 113.5 110.1 129.7 98.8 145.7 88.1 161.6 78 177.3 68.7 192.8 60 208.2 52.1 223.4 44.9 238.4 38.3 253.3 32.5 267.9 27.5 282.4 23.2 296.7 19.6 310.8 16.7 324.6 14.6 338.3 13.2M93.6 120.3 109.9 108.3 126.1 97.1 142.1 86.4 157.9 76.5 173.6 67.2 189.2 58.7 204.6 50.8 219.8 43.7 234.8 37.2 249.6 31.5 264.3 26.5 278.7 22.3 293 18.7 307.1 16 321 13.9 334.7 12.6M90 118.4 106.3 106.5 122.5 95.4 138.5 84.8 154.3 75 170 65.8 185.6 57.3 200.9 49.5 216.1 42.5 231.2 36.1 246 30.5 260.6 25.6 275.1 21.4 289.4 17.9 303.5 15.2 317.4 13.3 331 12.1"/>
<path stroke="#222" stroke-width="0.9" d="M329.9 67.1V81.7"/>
<ellipse cx="329.9" cy="81.7" rx="2.9" ry="1.9" fill="#f4b8c4" stroke="#7a5a60" stroke-width="0.6"/>
<path stroke="#443" stroke-width="0.8" d="M330.5 79.9V83.5"/>
<ellipse cx="329.9" cy="72.5" rx="3.5" ry="2.5" fill="#ff0000" stroke="#800000" stroke-width="0.7"/>
<ellipse cx="329.9" cy="67.1" rx="3.5" ry="2.5" fill="#ff0000" stroke="#800000" stroke-width="0.7"/>
<path fill="none" stroke="#111" stroke-width="1.6" d="M85.2 44.9 L82.7 44.9M88 87.7 L85.5 87.7M90.8 130.5 L88.3 130.5M93.6 173.3 L91.1 173.3M96.3 216.1 L93.8 216.1M99 270.4 L100.6 270M156.7 290.1 L158.3 289.7M214.4 309.8 L216 309.4M272.1 329.5 L273.7 329.1M329.7 349.2 L331.3 348.8M329.7 348.8 L331.3 349.2M387.4 329.2 L389 329.6M445.1 309.5 L446.7 309.9M502.8 289.9 L504.4 290.3M560.5 270.3 L562.1 270.7"/>
<g font-size="11.3" fill="#1c1c1c" stroke="#1c1c1c" stroke-width="0.12">
<text transform="translate(75.6 56.4) scale(1.5 1)" text-anchor="end">94</text>
<text transform="translate(78.4 99.2) scale(1.5 1)" text-anchor="end">85.25</text>
<text transform="translate(81.2 142) scale(1.5 1)" text-anchor="end">76.5</text>
<text transform="translate(84 184.8) scale(1.5 1)" text-anchor="end">67.75</text>
<text transform="translate(86.7 227.6) scale(1.5 1)" text-anchor="end">59</text>
<text transform="translate(91.2 281.2) scale(1.5 1)" text-anchor="end">3.00</text>
<text transform="translate(148.9 300.9) scale(1.5 1)" text-anchor="end">2.50</text>
<text transform="translate(206.6 320.6) scale(1.5 1)" text-anchor="end">2.00</text>
<text transform="translate(264.3 340.3) scale(1.5 1)" text-anchor="end">1.50</text>
<text transform="translate(321.9 360) scale(1.5 1)" text-anchor="end">1.00</text>
<text transform="translate(339.1 360) scale(1.5 1)">1.00</text>
<text transform="translate(396.8 340.4) scale(1.5 1)">1.50</text>
<text transform="translate(454.5 320.7) scale(1.5 1)">2.00</text>
<text transform="translate(512.2 301.1) scale(1.5 1)">2.50</text>
<text transform="translate(569.9 281.5) scale(1.5 1)">3.00</text>
</g>
<text class="t" style="stroke-width:0.25px" transform="translate(161.4 358.6) scale(1.484 1.05)">Z: Time</text>
<text class="t" style="stroke-width:0.25px" transform="translate(398.7 358.6) scale(1.445 1.05)">X: Phospholipid: Drug ratio</text>
<text class="t" transform="translate(20.3 238.5) rotate(-90) scale(1.057 1.5)" style="font-size:15.7px">Entrapment Efficiency</text>
<rect x="5.4" y="0.1" width="42.2" height="23" fill="none" stroke="#666" stroke-width="1.3"/>
<text class="s" transform="translate(26.6 17.5) scale(1.37 1)" text-anchor="middle">b</text>
</g>
<g transform="translate(0 839.3)">
<path fill="#ffff00" d="M99.8 270.2L330.5 208.8L331.1 5.7L85.2 44.9ZM561.3 270.5L330.5 208.8L331.1 5.7L577.2 45ZM330.5 349L561.3 270.5L330.5 208.8L99.8 270.2Z"/>
<path fill="none" stroke="#4ce000" stroke-opacity="0.5" stroke-width="0.85" d="M389 329.1 384.9 329 380.9 329 376.8 328.9 372.7 328.9 368.6 328.8 364.3 328.7 359.9 328.6 355.4 328.6 350.9 328.5 346.5 328.4 342 328.3 337.5 328.3 333 328.2 328.5 328.1 324.3 328 320.3 327.9 316.3 327.8 312.3 327.8 308.3 327.7 304.4 327.6 300.4 327.5 296.4 327.4 292.4 327.3 287.9 327.2 283.3 327.1 278.8 327 274.3 326.9 269.7 326.8 265.2 326.7"/>
<path fill="none" stroke="#92e000" stroke-opacity="0.5" stroke-width="0.85" d="M450.2 308.3 440.2 308.1 430.4 308 418.7 307.8 410.1 307.7 399.1 307.5 388.4 307.3 379.6 307.1 368 306.9 357.9 306.7 348.8 306.5 337.3 306.3 327.2 306 318.2 305.8 306.8 305.6 296.3 305.3 287.5 305.1 276.5 304.8 265.3 304.5 256.5 304.2 246.5 304 235.3 303.7 225.4 303.4 216.5 303.1 205.6 302.8 194.5 302.5 194.3 302.5"/>
<path fill="none" stroke="#d8e000" stroke-opacity="0.5" stroke-width="0.85" d="M511.6 287.4 496.4 287.2 480.6 286.9 463.8 286.6 447.3 286.3 432.4 286 417.4 285.7 400.4 285.4 384.1 285 369.4 284.7 353.5 284.3 336.5 283.9 321.9 283.5 306.3 283.1 289.3 282.6 274.9 282.3 259.2 281.8 242.5 281.4 228.2 281 212.1 280.5 196 280.1 181.7 279.7 165.3 279.3 149.6 278.8 135.3 278.5 123.1 278.1"/>
<path fill="none" stroke="#e0aa00" stroke-opacity="0.5" stroke-width="0.85" d="M543.2 265.6 526.8 265.3 512.5 265 498 264.7 481.4 264.3 466.1 264 451.9 263.7 435.8 263.3 420.1 262.9 406.1 262.5 390.1 262.1 374.6 261.7 360.7 261.3 344.3 260.9 329.3 260.5 315.3 260.1 298.8 259.7 284.2 259.3 270 259 253.6 258.6 239.1 258.2 225.1 257.9 208.9 257.5 193.9 257.2 180 256.9 164.8 256.6 152 256.3"/>
<path fill="none" stroke="#e06b00" stroke-opacity="0.5" stroke-width="0.85" d="M443.3 238.9 436.4 238.7 429.7 238.5 422.9 238.3 414.8 238.1 406.7 237.8 400 237.6 393.3 237.5 386.5 237.3 378.5 237 370.5 236.8 363.5 236.6 356.9 236.5 350.3 236.3 342.6 236.1 334.7 235.9 327 235.7 320.3 235.5 313.7 235.4 307 235.2 299.3 235.1 291.6 234.9 283.8 234.7 276.8 234.6 270 234.5 263.3 234.3 256.5 234.2 249.3 234.1 241.7 234 236.1 233.9"/>
<path fill="none" stroke="#333" stroke-width="0.9" d="M99.8 270.2L85.2 44.9M561.3 270.5L577.2 45M85.2 44.9L331.1 5.7M331.1 5.7L577.2 45M99.8 270.2L330.5 208.8M330.5 208.8L561.3 270.5M330.5 349L561.3 270.5M330.5 349L99.8 270.2M331.1 5.7L330.5 208.8"/>
<path fill="#00ff01" stroke="#00ff01" stroke-width="0.6" d="M330.7 287.7L347.3 275 330.7 263.2 314.1 275.6Z"/>
<path fill="#11ff00" stroke="#11ff00" stroke-width="0.6" d="M314.1 275.6L330.7 263.2 314.4 251.7 297.7 263.9Z"/>
<path fill="#24ff00" stroke="#24ff00" stroke-width="0.6" d="M297.7 263.9L314.4 251.7 298.2 240.6 281.6 252.5Z"/>
<path fill="#35ff00" stroke="#35ff00" stroke-width="0.6" d="M281.6 252.5L298.2 240.6 282.3 229.7 265.7 241.5Z"/>
<path fill="#47ff00" stroke="#47ff00" stroke-width="0.6" d="M265.7 241.5L282.3 229.7 266.6 219.2 250 230.7Z"/>
<path fill="#58ff00" stroke="#58ff00" stroke-width="0.6" d="M250 230.7L266.6 219.2 251 209 234.5 220.3Z"/>
<path fill="#68ff00" stroke="#68ff00" stroke-width="0.6" d="M234.5 220.3L251 209 235.8 199.1 219.2 210.1Z"/>
<path fill="#79ff00" stroke="#79ff00" stroke-width="0.6" d="M219.2 210.1L235.8 199.1 220.7 189.3 204.1 200.1Z"/>
<path fill="#88ff00" stroke="#88ff00" stroke-width="0.6" d="M204.1 200.1L220.7 189.3 205.8 179.9 189.2 190.4ZM410.7 204.9L426.1 194 409.7 184 394.3 194.7Z"/>
<path fill="#98ff00" stroke="#98ff00" stroke-width="0.6" d="M189.2 190.4L205.8 179.9 191.1 170.6 174.6 181ZM394.3 194.7L409.7 184 393.5 174.4 378.1 184.7Z"/>
<path fill="#a7ff00" stroke="#a7ff00" stroke-width="0.6" d="M174.6 181L191.1 170.6 176.6 161.6 160.1 171.7Z"/>
<path fill="#b6ff00" stroke="#b6ff00" stroke-width="0.6" d="M160.1 171.7L176.6 161.6 162.3 152.8 145.8 162.6ZM330.9 176L346.4 165.8 330.9 156.8 315.3 166.7Z"/>
<path fill="#c5ff00" stroke="#c5ff00" stroke-width="0.6" d="M145.8 162.6L162.3 152.8 148.2 144.1 131.7 153.7ZM315.3 166.7L330.9 156.8 315.5 148 300 157.7Z"/>
<path fill="#d4ff00" stroke="#d4ff00" stroke-width="0.6" d="M131.7 153.7L148.2 144.1 134.3 135.6 117.8 145Z"/>
<path fill="#e3ff00" stroke="#e3ff00" stroke-width="0.6" d="M117.8 145L134.3 135.6 120.6 127.3 104.1 136.5ZM516.6 152.6L530.8 143 514.2 134.1 500 143.5Z"/>
<path fill="#f1ff00" stroke="#f1ff00" stroke-width="0.6" d="M104.1 136.5L120.6 127.3 107.1 119 90.6 128Z"/>
<path fill="#13ff00" stroke="#13ff00" stroke-width="0.6" d="M347.3 275L363.8 262.5 347.2 251 330.7 263.2Z"/>
<path fill="#26ff00" stroke="#26ff00" stroke-width="0.6" d="M330.7 263.2L347.2 251 330.8 239.7 314.4 251.7Z"/>
<path fill="#38ff00" stroke="#38ff00" stroke-width="0.6" d="M314.4 251.7L330.8 239.7 314.6 228.9 298.2 240.6Z"/>
<path fill="#49ff00" stroke="#49ff00" stroke-width="0.6" d="M298.2 240.6L314.6 228.9 298.7 218.3 282.3 229.7Z"/>
<path fill="#5bff00" stroke="#5bff00" stroke-width="0.6" d="M282.3 229.7L298.7 218.3 282.9 208 266.6 219.2Z"/>
<path fill="#6bff00" stroke="#6bff00" stroke-width="0.6" d="M266.6 219.2L282.9 208 267.4 198 251 209Z"/>
<path fill="#7cff00" stroke="#7cff00" stroke-width="0.6" d="M251 209L267.4 198 252.1 188.3 235.8 199.1Z"/>
<path fill="#8bff00" stroke="#8bff00" stroke-width="0.6" d="M235.8 199.1L252.1 188.3 237 178.8 220.7 189.3Z"/>
<path fill="#9bff00" stroke="#9bff00" stroke-width="0.6" d="M220.7 189.3L237 178.8 222.1 169.6 205.8 179.9Z"/>
<path fill="#aaff00" stroke="#aaff00" stroke-width="0.6" d="M205.8 179.9L222.1 169.6 207.4 160.6 191.1 170.6Z"/>
<path fill="#b9ff00" stroke="#b9ff00" stroke-width="0.6" d="M191.1 170.6L207.4 160.6 192.9 151.8 176.6 161.6Z"/>
<path fill="#c8ff00" stroke="#c8ff00" stroke-width="0.6" d="M176.6 161.6L192.9 151.8 178.6 143.2 162.3 152.8Z"/>
<path fill="#d7ff00" stroke="#d7ff00" stroke-width="0.6" d="M162.3 152.8L178.6 143.2 164.5 134.7 148.2 144.1Z"/>
<path fill="#e5ff00" stroke="#e5ff00" stroke-width="0.6" d="M148.2 144.1L164.5 134.7 150.6 126.5 134.3 135.6Z"/>
<path fill="#f4ff00" stroke="#f4ff00" stroke-width="0.6" d="M134.3 135.6L150.6 126.5 136.9 118.3 120.6 127.3ZM530.8 143L544.8 133.6 528.2 125 514.2 134.1Z"/>
<path fill="#fffd00" stroke="#fffd00" stroke-width="0.6" d="M120.6 127.3L136.9 118.3 123.3 110.3 107.1 119Z"/>
<path fill="#28ff00" stroke="#28ff00" stroke-width="0.6" d="M363.8 262.5L380 250.3 363.4 239 347.2 251Z"/>
<path fill="#3aff00" stroke="#3aff00" stroke-width="0.6" d="M347.2 251L363.4 239 347 228.1 330.8 239.7Z"/>
<path fill="#4cff00" stroke="#4cff00" stroke-width="0.6" d="M330.8 239.7L347 228.1 330.8 217.4 314.6 228.9Z"/>
<path fill="#5dff00" stroke="#5dff00" stroke-width="0.6" d="M314.6 228.9L330.8 217.4 314.9 207.1 298.7 218.3Z"/>
<path fill="#6eff00" stroke="#6eff00" stroke-width="0.6" d="M298.7 218.3L314.9 207.1 299.1 197.1 282.9 208Z"/>
<path fill="#7eff00" stroke="#7eff00" stroke-width="0.6" d="M282.9 208L299.1 197.1 283.6 187.3 267.4 198Z"/>
<path fill="#8eff00" stroke="#8eff00" stroke-width="0.6" d="M267.4 198L283.6 187.3 268.3 177.8 252.1 188.3Z"/>
<path fill="#9eff00" stroke="#9eff00" stroke-width="0.6" d="M252.1 188.3L268.3 177.8 253.2 168.6 237 178.8Z"/>
<path fill="#adff00" stroke="#adff00" stroke-width="0.6" d="M237 178.8L253.2 168.6 238.3 159.6 222.1 169.6Z"/>
<path fill="#bcff00" stroke="#bcff00" stroke-width="0.6" d="M222.1 169.6L238.3 159.6 223.6 150.8 207.4 160.6ZM424.9 173.7L439.8 163.6 423.7 154.4 408.7 164.3Z"/>
<path fill="#cbff00" stroke="#cbff00" stroke-width="0.6" d="M207.4 160.6L223.6 150.8 209 142.2 192.9 151.8Z"/>
<path fill="#daff00" stroke="#daff00" stroke-width="0.6" d="M192.9 151.8L209 142.2 194.7 133.8 178.6 143.2Z"/>
<path fill="#e8ff00" stroke="#e8ff00" stroke-width="0.6" d="M178.6 143.2L194.7 133.8 180.6 125.6 164.5 134.7Z"/>
<path fill="#f6ff00" stroke="#f6ff00" stroke-width="0.6" d="M164.5 134.7L180.6 125.6 166.7 117.6 150.6 126.5Z"/>
<path fill="#fffb00" stroke="#fffb00" stroke-width="0.6" d="M150.6 126.5L166.7 117.6 152.9 109.7 136.9 118.3Z"/>
<path fill="#ffee00" stroke="#ffee00" stroke-width="0.6" d="M136.9 118.3L152.9 109.7 139.4 101.9 123.3 110.3ZM330.9 121.3L345.9 112.6 330.9 105 316 113.5ZM528.2 125L542.1 116.1 525.7 108 511.9 116.7Z"/>
<path fill="#3cff00" stroke="#3cff00" stroke-width="0.6" d="M380 250.3L396 238.4 379.3 227.4 363.4 239Z"/>
<path fill="#4eff00" stroke="#4eff00" stroke-width="0.6" d="M363.4 239L379.3 227.4 363 216.7 347 228.1Z"/>
<path fill="#5fff00" stroke="#5fff00" stroke-width="0.6" d="M347 228.1L363 216.7 346.8 206.3 330.8 217.4Z"/>
<path fill="#70ff00" stroke="#70ff00" stroke-width="0.6" d="M330.8 217.4L346.8 206.3 330.8 196.2 314.9 207.1Z"/>
<path fill="#81ff00" stroke="#81ff00" stroke-width="0.6" d="M314.9 207.1L330.8 196.2 315.1 186.4 299.1 197.1Z"/>
<path fill="#91ff00" stroke="#91ff00" stroke-width="0.6" d="M299.1 197.1L315.1 186.4 299.6 176.9 283.6 187.3Z"/>
<path fill="#a1ff00" stroke="#a1ff00" stroke-width="0.6" d="M283.6 187.3L299.6 176.9 284.2 167.6 268.3 177.8Z"/>
<path fill="#b0ff00" stroke="#b0ff00" stroke-width="0.6" d="M268.3 177.8L284.2 167.6 269.1 158.6 253.2 168.6Z"/>
<path fill="#bfff00" stroke="#bfff00" stroke-width="0.6" d="M253.2 168.6L269.1 158.6 254.2 149.9 238.3 159.6Z"/>
<path fill="#ceff00" stroke="#ceff00" stroke-width="0.6" d="M238.3 159.6L254.2 149.9 239.5 141.3 223.6 150.8ZM439.8 163.6L454.6 153.7 438.5 144.8 423.7 154.4Z"/>
<path fill="#dcff00" stroke="#dcff00" stroke-width="0.6" d="M223.6 150.8L239.5 141.3 225 132.9 209 142.2Z"/>
<path fill="#ebff00" stroke="#ebff00" stroke-width="0.6" d="M209 142.2L225 132.9 210.6 124.8 194.7 133.8Z"/>
<path fill="#f8ff00" stroke="#f8ff00" stroke-width="0.6" d="M194.7 133.8L210.6 124.8 196.5 116.8 180.6 125.6ZM361.4 137.7L376.4 128.6 361 120.5 346.1 129.4Z"/>
<path fill="#fff900" stroke="#fff900" stroke-width="0.6" d="M180.6 125.6L196.5 116.8 182.6 109 166.7 117.6ZM346.1 129.4L361 120.5 345.9 112.6 330.9 121.3Z"/>
<path fill="#ffec00" stroke="#ffec00" stroke-width="0.6" d="M166.7 117.6L182.6 109 168.8 101.3 152.9 109.7ZM558.6 124.4L572.3 115.5 555.7 107.4 542.1 116.1Z"/>
<path fill="#ffe000" stroke="#ffe000" stroke-width="0.6" d="M152.9 109.7L168.8 101.3 155.2 93.7 139.4 101.9ZM345.9 112.6L360.7 104.2 345.7 96.8 330.9 105Z"/>
<path fill="#50ff00" stroke="#50ff00" stroke-width="0.6" d="M396 238.4L411.7 226.8 395.1 216 379.3 227.4Z"/>
<path fill="#62ff00" stroke="#62ff00" stroke-width="0.6" d="M379.3 227.4L395.1 216 378.7 205.5 363 216.7Z"/>
<path fill="#73ff00" stroke="#73ff00" stroke-width="0.6" d="M363 216.7L378.7 205.5 362.6 195.4 346.8 206.3Z"/>
<path fill="#83ff00" stroke="#83ff00" stroke-width="0.6" d="M346.8 206.3L362.6 195.4 346.6 185.5 330.8 196.2Z"/>
<path fill="#94ff00" stroke="#94ff00" stroke-width="0.6" d="M330.8 196.2L346.6 185.5 330.9 176 315.1 186.4Z"/>
<path fill="#a4ff00" stroke="#a4ff00" stroke-width="0.6" d="M315.1 186.4L330.9 176 315.3 166.7 299.6 176.9Z"/>
<path fill="#b3ff00" stroke="#b3ff00" stroke-width="0.6" d="M299.6 176.9L315.3 166.7 300 157.7 284.2 167.6Z"/>
<path fill="#c2ff00" stroke="#c2ff00" stroke-width="0.6" d="M284.2 167.6L300 157.7 284.9 148.9 269.1 158.6Z"/>
<path fill="#d1ff00" stroke="#d1ff00" stroke-width="0.6" d="M269.1 158.6L284.9 148.9 269.9 140.4 254.2 149.9Z"/>
<path fill="#dfff00" stroke="#dfff00" stroke-width="0.6" d="M254.2 149.9L269.9 140.4 255.2 132 239.5 141.3ZM454.6 153.7L469.2 144.1 453 135.4 438.5 144.8Z"/>
<path fill="#edff00" stroke="#edff00" stroke-width="0.6" d="M239.5 141.3L255.2 132 240.7 123.9 225 132.9Z"/>
<path fill="#fbff00" stroke="#fbff00" stroke-width="0.6" d="M225 132.9L240.7 123.9 226.4 116 210.6 124.8Z"/>
<path fill="#fff600" stroke="#fff600" stroke-width="0.6" d="M210.6 124.8L226.4 116 212.2 108.2 196.5 116.8Z"/>
<path fill="#ffea00" stroke="#ffea00" stroke-width="0.6" d="M196.5 116.8L212.2 108.2 198.2 100.6 182.6 109Z"/>
<path fill="#ffdf00" stroke="#ffdf00" stroke-width="0.6" d="M182.6 109L198.2 100.6 184.5 93.1 168.8 101.3ZM542.1 116.1L555.7 107.4 539.3 99.6 525.7 108Z"/>
<path fill="#ffd300" stroke="#ffd300" stroke-width="0.6" d="M168.8 101.3L184.5 93.1 170.9 85.8 155.2 93.7ZM525.7 108L539.3 99.6 523.2 92 509.5 100.2Z"/>
<path fill="#63ff00" stroke="#63ff00" stroke-width="0.6" d="M411.7 226.8L427.3 215.5 410.7 204.9 395.1 216Z"/>
<path fill="#75ff00" stroke="#75ff00" stroke-width="0.6" d="M395.1 216L410.7 204.9 394.3 194.7 378.7 205.5Z"/>
<path fill="#86ff00" stroke="#86ff00" stroke-width="0.6" d="M378.7 205.5L394.3 194.7 378.1 184.7 362.6 195.4Z"/>
<path fill="#96ff00" stroke="#96ff00" stroke-width="0.6" d="M362.6 195.4L378.1 184.7 362.2 175.1 346.6 185.5Z"/>
<path fill="#a6ff00" stroke="#a6ff00" stroke-width="0.6" d="M346.6 185.5L362.2 175.1 346.4 165.8 330.9 176Z"/>
<path fill="#d3ff00" stroke="#d3ff00" stroke-width="0.6" d="M300 157.7L315.5 148 300.4 139.5 284.9 148.9Z"/>
<path fill="#e2ff00" stroke="#e2ff00" stroke-width="0.6" d="M284.9 148.9L300.4 139.5 285.5 131.1 269.9 140.4Z"/>
<path fill="#f0ff00" stroke="#f0ff00" stroke-width="0.6" d="M269.9 140.4L285.5 131.1 270.7 123 255.2 132ZM469.2 144.1L483.6 134.7 467.5 126.2 453 135.4Z"/>
<path fill="#feff00" stroke="#feff00" stroke-width="0.6" d="M255.2 132L270.7 123 256.2 115.1 240.7 123.9Z"/>
<path fill="#fff400" stroke="#fff400" stroke-width="0.6" d="M240.7 123.9L256.2 115.1 241.9 107.4 226.4 116Z"/>
<path fill="#ffe800" stroke="#ffe800" stroke-width="0.6" d="M226.4 116L241.9 107.4 227.7 99.9 212.2 108.2Z"/>
<path fill="#ffdd00" stroke="#ffdd00" stroke-width="0.6" d="M212.2 108.2L227.7 99.9 213.7 92.5 198.2 100.6Z"/>
<path fill="#ffd100" stroke="#ffd100" stroke-width="0.6" d="M198.2 100.6L213.7 92.5 200 85.3 184.5 93.1Z"/>
<path fill="#ffc600" stroke="#ffc600" stroke-width="0.6" d="M184.5 93.1L200 85.3 186.4 78.1 170.9 85.8Z"/>
<path fill="#76ff00" stroke="#76ff00" stroke-width="0.6" d="M427.3 215.5L442.7 204.3 426.1 194 410.7 204.9Z"/>
<path fill="#a8ff00" stroke="#a8ff00" stroke-width="0.6" d="M378.1 184.7L393.5 174.4 377.6 165 362.2 175.1Z"/>
<path fill="#b8ff00" stroke="#b8ff00" stroke-width="0.6" d="M362.2 175.1L377.6 165 361.8 155.9 346.4 165.8Z"/>
<path fill="#c7ff00" stroke="#c7ff00" stroke-width="0.6" d="M346.4 165.8L361.8 155.9 346.3 147.1 330.9 156.8Z"/>
<path fill="#d6ff00" stroke="#d6ff00" stroke-width="0.6" d="M330.9 156.8L346.3 147.1 330.9 138.6 315.5 148Z"/>
<path fill="#e4ff00" stroke="#e4ff00" stroke-width="0.6" d="M315.5 148L330.9 138.6 315.8 130.3 300.4 139.5Z"/>
<path fill="#f2ff00" stroke="#f2ff00" stroke-width="0.6" d="M300.4 139.5L315.8 130.3 300.8 122.2 285.5 131.1ZM500 143.5L514.2 134.1 497.8 125.6 483.6 134.7Z"/>
<path fill="#fffe00" stroke="#fffe00" stroke-width="0.6" d="M285.5 131.1L300.8 122.2 286.1 114.3 270.7 123ZM483.6 134.7L497.8 125.6 481.7 117.3 467.5 126.2Z"/>
<path fill="#fff200" stroke="#fff200" stroke-width="0.6" d="M270.7 123L286.1 114.3 271.5 106.6 256.2 115.1Z"/>
<path fill="#ffe600" stroke="#ffe600" stroke-width="0.6" d="M256.2 115.1L271.5 106.6 257.2 99.1 241.9 107.4Z"/>
<path fill="#ffdb00" stroke="#ffdb00" stroke-width="0.6" d="M241.9 107.4L257.2 99.1 243 91.8 227.7 99.9ZM405.8 111L420.2 102.5 404.8 95.1 390.4 103.3Z"/>
<path fill="#ffcf00" stroke="#ffcf00" stroke-width="0.6" d="M227.7 99.9L243 91.8 229.1 84.6 213.7 92.5Z"/>
<path fill="#ffc400" stroke="#ffc400" stroke-width="0.6" d="M213.7 92.5L229.1 84.6 215.3 77.6 200 85.3Z"/>
<path fill="#ffb900" stroke="#ffb900" stroke-width="0.6" d="M200 85.3L215.3 77.6 201.6 70.7 186.4 78.1ZM389.7 88L403.9 80.2 388.9 73.5 374.7 81Z"/>
<path fill="#89ff00" stroke="#89ff00" stroke-width="0.6" d="M442.7 204.3L457.9 193.5 441.3 183.4 426.1 194Z"/>
<path fill="#9aff00" stroke="#9aff00" stroke-width="0.6" d="M426.1 194L441.3 183.4 424.9 173.7 409.7 184Z"/>
<path fill="#abff00" stroke="#abff00" stroke-width="0.6" d="M409.7 184L424.9 173.7 408.7 164.3 393.5 174.4Z"/>
<path fill="#baff00" stroke="#baff00" stroke-width="0.6" d="M393.5 174.4L408.7 164.3 392.7 155.1 377.6 165Z"/>
<path fill="#caff00" stroke="#caff00" stroke-width="0.6" d="M377.6 165L392.7 155.1 377 146.3 361.8 155.9Z"/>
<path fill="#d9ff00" stroke="#d9ff00" stroke-width="0.6" d="M361.8 155.9L377 146.3 361.4 137.7 346.3 147.1Z"/>
<path fill="#e7ff00" stroke="#e7ff00" stroke-width="0.6" d="M346.3 147.1L361.4 137.7 346.1 129.4 330.9 138.6Z"/>
<path fill="#f5ff00" stroke="#f5ff00" stroke-width="0.6" d="M330.9 138.6L346.1 129.4 330.9 121.3 315.8 130.3Z"/>
<path fill="#fffc00" stroke="#fffc00" stroke-width="0.6" d="M315.8 130.3L330.9 121.3 316 113.5 300.8 122.2ZM514.2 134.1L528.2 125 511.9 116.7 497.8 125.6Z"/>
<path fill="#fff000" stroke="#fff000" stroke-width="0.6" d="M300.8 122.2L316 113.5 301.2 105.8 286.1 114.3Z"/>
<path fill="#ffe400" stroke="#ffe400" stroke-width="0.6" d="M286.1 114.3L301.2 105.8 286.7 98.4 271.5 106.6Z"/>
<path fill="#ffd900" stroke="#ffd900" stroke-width="0.6" d="M271.5 106.6L286.7 98.4 272.3 91.1 257.2 99.1ZM435.7 110.2L449.9 101.7 434.4 94.3 420.2 102.5Z"/>
<path fill="#ffce00" stroke="#ffce00" stroke-width="0.6" d="M257.2 99.1L272.3 91.1 258.2 84 243 91.8ZM420.2 102.5L434.4 94.3 419 87.2 404.8 95.1Z"/>
<path fill="#ffc300" stroke="#ffc300" stroke-width="0.6" d="M243 91.8L258.2 84 244.2 77 229.1 84.6ZM404.8 95.1L419 87.2 403.9 80.2 389.7 88Z"/>
<path fill="#ffb800" stroke="#ffb800" stroke-width="0.6" d="M229.1 84.6L244.2 77 230.4 70.2 215.3 77.6Z"/>
<path fill="#ffad00" stroke="#ffad00" stroke-width="0.6" d="M215.3 77.6L230.4 70.2 216.7 63.5 201.6 70.7Z"/>
<path fill="#9cff00" stroke="#9cff00" stroke-width="0.6" d="M457.9 193.5L472.8 182.9 456.2 173.1 441.3 183.4Z"/>
<path fill="#acff00" stroke="#acff00" stroke-width="0.6" d="M441.3 183.4L456.2 173.1 439.8 163.6 424.9 173.7Z"/>
<path fill="#ccff00" stroke="#ccff00" stroke-width="0.6" d="M408.7 164.3L423.7 154.4 407.7 145.5 392.7 155.1Z"/>
<path fill="#dbff00" stroke="#dbff00" stroke-width="0.6" d="M392.7 155.1L407.7 145.5 391.9 136.9 377 146.3Z"/>
<path fill="#e9ff00" stroke="#e9ff00" stroke-width="0.6" d="M377 146.3L391.9 136.9 376.4 128.6 361.4 137.7Z"/>
<path fill="#ffe200" stroke="#ffe200" stroke-width="0.6" d="M316 113.5L330.9 105 316.2 97.6 301.2 105.8Z"/>
<path fill="#ffd700" stroke="#ffd700" stroke-width="0.6" d="M301.2 105.8L316.2 97.6 301.6 90.3 286.7 98.4ZM465.7 109.4L479.7 101 464 93.5 449.9 101.7Z"/>
<path fill="#ffcc00" stroke="#ffcc00" stroke-width="0.6" d="M286.7 98.4L301.6 90.3 287.3 83.3 272.3 91.1ZM449.9 101.7L464 93.5 448.4 86.4 434.4 94.3Z"/>
<path fill="#ffc100" stroke="#ffc100" stroke-width="0.6" d="M272.3 91.1L287.3 83.3 273.1 76.4 258.2 84ZM434.4 94.3L448.4 86.4 433.1 79.4 419 87.2Z"/>
<path fill="#ffb600" stroke="#ffb600" stroke-width="0.6" d="M258.2 84L273.1 76.4 259.1 69.7 244.2 77ZM419 87.2L433.1 79.4 417.9 72.7 403.9 80.2Z"/>
<path fill="#ffab00" stroke="#ffab00" stroke-width="0.6" d="M244.2 77L259.1 69.7 245.3 63.1 230.4 70.2Z"/>
<path fill="#ffa100" stroke="#ffa100" stroke-width="0.6" d="M230.4 70.2L245.3 63.1 231.7 56.6 216.7 63.5Z"/>
<path fill="#aeff00" stroke="#aeff00" stroke-width="0.6" d="M472.8 182.9L487.6 172.6 471 163 456.2 173.1Z"/>
<path fill="#beff00" stroke="#beff00" stroke-width="0.6" d="M456.2 173.1L471 163 454.6 153.7 439.8 163.6Z"/>
<path fill="#ddff00" stroke="#ddff00" stroke-width="0.6" d="M423.7 154.4L438.5 144.8 422.5 136.1 407.7 145.5Z"/>
<path fill="#ecff00" stroke="#ecff00" stroke-width="0.6" d="M407.7 145.5L422.5 136.1 406.7 127.7 391.9 136.9Z"/>
<path fill="#faff00" stroke="#faff00" stroke-width="0.6" d="M391.9 136.9L406.7 127.7 391.2 119.6 376.4 128.6Z"/>
<path fill="#fff700" stroke="#fff700" stroke-width="0.6" d="M376.4 128.6L391.2 119.6 375.8 111.8 361 120.5Z"/>
<path fill="#ffeb00" stroke="#ffeb00" stroke-width="0.6" d="M361 120.5L375.8 111.8 360.7 104.2 345.9 112.6Z"/>
<path fill="#ffd500" stroke="#ffd500" stroke-width="0.6" d="M330.9 105L345.7 96.8 331 89.6 316.2 97.6ZM495.7 108.7L509.5 100.2 493.6 92.8 479.7 101Z"/>
<path fill="#ffca00" stroke="#ffca00" stroke-width="0.6" d="M316.2 97.6L331 89.6 316.4 82.6 301.6 90.3ZM479.7 101L493.6 92.8 477.8 85.6 464 93.5Z"/>
<path fill="#ffbf00" stroke="#ffbf00" stroke-width="0.6" d="M301.6 90.3L316.4 82.6 302 75.7 287.3 83.3ZM464 93.5L477.8 85.6 462.3 78.6 448.4 86.4Z"/>
<path fill="#ffb400" stroke="#ffb400" stroke-width="0.6" d="M287.3 83.3L302 75.7 287.8 69.1 273.1 76.4ZM448.4 86.4L462.3 78.6 446.9 71.9 433.1 79.4Z"/>
<path fill="#ffaa00" stroke="#ffaa00" stroke-width="0.6" d="M273.1 76.4L287.8 69.1 273.8 62.6 259.1 69.7ZM433.1 79.4L446.9 71.9 431.8 65.4 417.9 72.7Z"/>
<path fill="#ffa000" stroke="#ffa000" stroke-width="0.6" d="M259.1 69.7L273.8 62.6 260 56.2 245.3 63.1ZM417.9 72.7L431.8 65.4 416.8 59.2 403 66.2Z"/>
<path fill="#ff9600" stroke="#ff9600" stroke-width="0.6" d="M245.3 63.1L260 56.2 246.4 49.9 231.7 56.6Z"/>
<path fill="#c0ff00" stroke="#c0ff00" stroke-width="0.6" d="M487.6 172.6L502.2 162.4 485.6 153.1 471 163Z"/>
<path fill="#d0ff00" stroke="#d0ff00" stroke-width="0.6" d="M471 163L485.6 153.1 469.2 144.1 454.6 153.7Z"/>
<path fill="#eeff00" stroke="#eeff00" stroke-width="0.6" d="M438.5 144.8L453 135.4 437.1 127 422.5 136.1Z"/>
<path fill="#fcff00" stroke="#fcff00" stroke-width="0.6" d="M422.5 136.1L437.1 127 421.3 118.8 406.7 127.7Z"/>
<path fill="#fff500" stroke="#fff500" stroke-width="0.6" d="M406.7 127.7L421.3 118.8 405.8 111 391.2 119.6Z"/>
<path fill="#ffe900" stroke="#ffe900" stroke-width="0.6" d="M391.2 119.6L405.8 111 390.4 103.3 375.8 111.8Z"/>
<path fill="#ffde00" stroke="#ffde00" stroke-width="0.6" d="M375.8 111.8L390.4 103.3 375.3 95.9 360.7 104.2Z"/>
<path fill="#ffd200" stroke="#ffd200" stroke-width="0.6" d="M360.7 104.2L375.3 95.9 360.3 88.8 345.7 96.8Z"/>
<path fill="#ffc700" stroke="#ffc700" stroke-width="0.6" d="M345.7 96.8L360.3 88.8 345.5 81.8 331 89.6Z"/>
<path fill="#ffbd00" stroke="#ffbd00" stroke-width="0.6" d="M331 89.6L345.5 81.8 331 75 316.4 82.6ZM493.6 92.8L507.2 84.8 491.5 77.8 477.8 85.6Z"/>
<path fill="#ffb200" stroke="#ffb200" stroke-width="0.6" d="M316.4 82.6L331 75 316.6 68.4 302 75.7ZM477.8 85.6L491.5 77.8 475.9 71.1 462.3 78.6Z"/>
<path fill="#ffa800" stroke="#ffa800" stroke-width="0.6" d="M302 75.7L316.6 68.4 302.4 62 287.8 69.1ZM462.3 78.6L475.9 71.1 460.6 64.6 446.9 71.9Z"/>
<path fill="#ff9e00" stroke="#ff9e00" stroke-width="0.6" d="M287.8 69.1L302.4 62 288.4 55.7 273.8 62.6ZM446.9 71.9L460.6 64.6 445.4 58.4 431.8 65.4Z"/>
<path fill="#ff9400" stroke="#ff9400" stroke-width="0.6" d="M273.8 62.6L288.4 55.7 274.6 49.5 260 56.2Z"/>
<path fill="#ff8b00" stroke="#ff8b00" stroke-width="0.6" d="M260 56.2L274.6 49.5 260.9 43.5 246.4 49.9ZM416.8 59.2L430.5 52.3 415.7 46.5 402 53.1Z"/>
<path fill="#d2ff00" stroke="#d2ff00" stroke-width="0.6" d="M502.2 162.4L516.6 152.6 500 143.5 485.6 153.1Z"/>
<path fill="#e1ff00" stroke="#e1ff00" stroke-width="0.6" d="M485.6 153.1L500 143.5 483.6 134.7 469.2 144.1Z"/>
<path fill="#ffff00" stroke="#ffff00" stroke-width="0.6" d="M453 135.4L467.5 126.2 451.5 118.1 437.1 127Z"/>
<path fill="#fff300" stroke="#fff300" stroke-width="0.6" d="M437.1 127L451.5 118.1 435.7 110.2 421.3 118.8Z"/>
<path fill="#ffe700" stroke="#ffe700" stroke-width="0.6" d="M421.3 118.8L435.7 110.2 420.2 102.5 405.8 111Z"/>
<path fill="#ffd000" stroke="#ffd000" stroke-width="0.6" d="M390.4 103.3L404.8 95.1 389.7 88 375.3 95.9Z"/>
<path fill="#ffc500" stroke="#ffc500" stroke-width="0.6" d="M375.3 95.9L389.7 88 374.7 81 360.3 88.8Z"/>
<path fill="#ffbb00" stroke="#ffbb00" stroke-width="0.6" d="M360.3 88.8L374.7 81 359.9 74.3 345.5 81.8Z"/>
<path fill="#ffb000" stroke="#ffb000" stroke-width="0.6" d="M345.5 81.8L359.9 74.3 345.4 67.7 331 75Z"/>
<path fill="#ffa600" stroke="#ffa600" stroke-width="0.6" d="M331 75L345.4 67.7 331 61.3 316.6 68.4Z"/>
<path fill="#ff9d00" stroke="#ff9d00" stroke-width="0.6" d="M316.6 68.4L331 61.3 316.8 55.1 302.4 62Z"/>
<path fill="#ff9300" stroke="#ff9300" stroke-width="0.6" d="M302.4 62L316.8 55.1 302.8 49 288.4 55.7Z"/>
<path fill="#ff8900" stroke="#ff8900" stroke-width="0.6" d="M288.4 55.7L302.8 49 289 43.1 274.6 49.5Z"/>
<path fill="#ff8000" stroke="#ff8000" stroke-width="0.6" d="M274.6 49.5L289 43.1 275.3 37.3 260.9 43.5Z"/>
<path fill="#fff100" stroke="#fff100" stroke-width="0.6" d="M467.5 126.2L481.7 117.3 465.7 109.4 451.5 118.1Z"/>
<path fill="#ffe500" stroke="#ffe500" stroke-width="0.6" d="M451.5 118.1L465.7 109.4 449.9 101.7 435.7 110.2Z"/>
<path fill="#ffae00" stroke="#ffae00" stroke-width="0.6" d="M374.7 81L388.9 73.5 374.2 67 359.9 74.3Z"/>
<path fill="#ffa400" stroke="#ffa400" stroke-width="0.6" d="M359.9 74.3L374.2 67 359.6 60.6 345.4 67.7Z"/>
<path fill="#ff9b00" stroke="#ff9b00" stroke-width="0.6" d="M345.4 67.7L359.6 60.6 345.2 54.5 331 61.3Z"/>
<path fill="#ff9100" stroke="#ff9100" stroke-width="0.6" d="M331 61.3L345.2 54.5 331 48.5 316.8 55.1Z"/>
<path fill="#ff8800" stroke="#ff8800" stroke-width="0.6" d="M316.8 55.1L331 48.5 317 42.6 302.8 49Z"/>
<path fill="#ff7f00" stroke="#ff7f00" stroke-width="0.6" d="M302.8 49L317 42.6 303.2 36.9 289 43.1Z"/>
<path fill="#ff7600" stroke="#ff7600" stroke-width="0.6" d="M289 43.1L303.2 36.9 289.5 31.3 275.3 37.3Z"/>
<path fill="#ffef00" stroke="#ffef00" stroke-width="0.6" d="M497.8 125.6L511.9 116.7 495.7 108.7 481.7 117.3Z"/>
<path fill="#ffe300" stroke="#ffe300" stroke-width="0.6" d="M481.7 117.3L495.7 108.7 479.7 101 465.7 109.4Z"/>
<path fill="#ffac00" stroke="#ffac00" stroke-width="0.6" d="M403.9 80.2L417.9 72.7 403 66.2 388.9 73.5Z"/>
<path fill="#ffa200" stroke="#ffa200" stroke-width="0.6" d="M388.9 73.5L403 66.2 388.2 59.9 374.2 67Z"/>
<path fill="#ff9900" stroke="#ff9900" stroke-width="0.6" d="M374.2 67L388.2 59.9 373.6 53.8 359.6 60.6Z"/>
<path fill="#ff8f00" stroke="#ff8f00" stroke-width="0.6" d="M359.6 60.6L373.6 53.8 359.2 47.8 345.2 54.5Z"/>
<path fill="#ff8600" stroke="#ff8600" stroke-width="0.6" d="M345.2 54.5L359.2 47.8 345 42.1 331 48.5Z"/>
<path fill="#ff7d00" stroke="#ff7d00" stroke-width="0.6" d="M331 48.5L345 42.1 331 36.4 317 42.6Z"/>
<path fill="#ff7500" stroke="#ff7500" stroke-width="0.6" d="M317 42.6L331 36.4 317.2 30.9 303.2 36.9Z"/>
<path fill="#ff6c00" stroke="#ff6c00" stroke-width="0.6" d="M303.2 36.9L317.2 30.9 303.5 25.5 289.5 31.3Z"/>
<path fill="#fffa00" stroke="#fffa00" stroke-width="0.6" d="M544.8 133.6L558.6 124.4 542.1 116.1 528.2 125Z"/>
<path fill="#ffe100" stroke="#ffe100" stroke-width="0.6" d="M511.9 116.7L525.7 108 509.5 100.2 495.7 108.7Z"/>
<path fill="#ff9700" stroke="#ff9700" stroke-width="0.6" d="M403 66.2L416.8 59.2 402 53.1 388.2 59.9Z"/>
<path fill="#ff8e00" stroke="#ff8e00" stroke-width="0.6" d="M388.2 59.9L402 53.1 387.5 47.2 373.6 53.8Z"/>
<path fill="#ff8500" stroke="#ff8500" stroke-width="0.6" d="M373.6 53.8L387.5 47.2 373.1 41.4 359.2 47.8Z"/>
<path fill="#ff7c00" stroke="#ff7c00" stroke-width="0.6" d="M359.2 47.8L373.1 41.4 358.9 35.9 345 42.1Z"/>
<path fill="#ff7300" stroke="#ff7300" stroke-width="0.6" d="M345 42.1L358.9 35.9 344.9 30.4 331 36.4Z"/>
<path fill="#ff6b00" stroke="#ff6b00" stroke-width="0.6" d="M331 36.4L344.9 30.4 331 25.1 317.2 30.9Z"/>
<path fill="#ff6300" stroke="#ff6300" stroke-width="0.6" d="M317.2 30.9L331 25.1 317.4 20 303.5 25.5Z"/>
<path fill="#ffc800" stroke="#ffc800" stroke-width="0.6" d="M509.5 100.2L523.2 92 507.2 84.8 493.6 92.8Z"/>
<path fill="#ff9500" stroke="#ff9500" stroke-width="0.6" d="M431.8 65.4L445.4 58.4 430.5 52.3 416.8 59.2Z"/>
<path fill="#ff8300" stroke="#ff8300" stroke-width="0.6" d="M402 53.1L415.7 46.5 401.1 40.8 387.5 47.2Z"/>
<path fill="#ff7a00" stroke="#ff7a00" stroke-width="0.6" d="M387.5 47.2L401.1 40.8 386.8 35.3 373.1 41.4Z"/>
<path fill="#ff7200" stroke="#ff7200" stroke-width="0.6" d="M373.1 41.4L386.8 35.3 372.5 29.9 358.9 35.9Z"/>
<path fill="#ff6a00" stroke="#ff6a00" stroke-width="0.6" d="M358.9 35.9L372.5 29.9 358.5 24.7 344.9 30.4Z"/>
<path fill="#ff6200" stroke="#ff6200" stroke-width="0.6" d="M344.9 30.4L358.5 24.7 344.7 19.6 331 25.1Z"/>
<path fill="#ff5a00" stroke="#ff5a00" stroke-width="0.6" d="M331 25.1L344.7 19.6 331 14.6 317.4 20Z"/>
<linearGradient id="lgc" gradientUnits="userSpaceOnUse" x1="0" y1="0" x2="0" y2="250"><stop offset="0" stop-color="#000" stop-opacity="0.5"/><stop offset="0.12" stop-color="#000" stop-opacity="0.6"/><stop offset="0.4" stop-color="#000" stop-opacity="0.8"/><stop offset="1" stop-color="#000" stop-opacity="0.85"/></linearGradient>
<path fill="none" stroke="url(#lgc)" stroke-width="0.9" d="M330.7 287.7 314.1 275.6 297.7 263.9 281.6 252.5 265.7 241.5 250 230.7 234.5 220.3 219.2 210.1 204.1 200.1 189.2 190.4 174.6 181 160.1 171.7 145.8 162.6 131.7 153.7 117.8 145 104.1 136.5 90.6 128M335.2 284.3 318.6 272.3 302.2 260.6 286 249.3 270.1 238.3 254.4 227.6 238.9 217.2 223.6 207.1 208.5 197.2 193.7 187.6 179 178.2 164.5 169 150.2 160 136.2 151.1 122.3 142.5 108.5 134 95 125.6M339.6 280.9 323 268.9 306.6 257.4 290.5 246.1 274.6 235.2 258.8 224.6 243.3 214.2 228 204.2 213 194.3 198.1 184.8 183.4 175.4 168.9 166.3 154.6 157.3 140.6 148.6 126.7 140 112.9 131.5 99.4 123.2M344 277.5 327.4 265.6 311.1 254.1 294.9 242.9 279 232.1 263.3 221.5 247.7 211.2 232.5 201.2 217.4 191.5 202.5 182 187.8 172.7 173.3 163.6 159 154.7 144.9 146 131 137.5 117.3 129.1 103.8 120.8M348.4 274.1 331.8 262.3 315.5 250.9 299.3 239.8 283.4 229 267.7 218.5 252.1 208.3 236.8 198.3 221.8 188.6 206.9 179.2 192.2 170 177.7 160.9 163.4 152.1 149.3 143.5 135.4 135 121.7 126.7 108.1 118.5M352.8 270.8 336.2 259.1 319.9 247.7 303.7 236.6 287.8 225.9 272 215.5 256.5 205.3 241.2 195.4 226.1 185.8 211.2 176.4 196.6 167.3 182.1 158.3 167.8 149.5 153.7 140.9 139.8 132.5 126 124.3 112.5 116.1M357.2 267.5 340.6 255.8 324.2 244.5 308.1 233.5 292.1 222.8 276.4 212.5 260.9 202.4 245.6 192.6 230.5 183 215.6 173.7 200.9 164.6 186.4 155.7 172.1 147 158 138.4 144.1 130.1 130.4 121.9 116.8 113.8M361.6 264.2 345 252.6 328.6 241.3 312.4 230.4 296.5 219.8 280.8 209.5 265.3 199.5 249.9 189.7 234.8 180.2 220 171 205.3 161.9 190.8 153.1 176.5 144.4 162.4 136 148.4 127.7 134.7 119.5 121.1 111.5M365.9 260.9 349.3 249.4 332.9 238.2 316.8 227.3 300.8 216.8 285.1 206.5 269.6 196.6 254.3 186.9 239.2 177.5 224.3 168.3 209.6 159.3 195.1 150.5 180.8 141.9 166.7 133.5 152.8 125.3 139 117.2 125.5 109.2M370.3 257.6 353.7 246.2 337.3 235 321.1 224.3 305.2 213.8 289.4 203.6 273.9 193.7 258.6 184.1 243.5 174.7 228.6 165.6 213.9 156.6 199.4 147.9 185.1 139.4 171 131.1 157.1 122.9 143.3 114.8 129.7 106.9M374.6 254.4 358 243 341.6 231.9 325.4 221.2 309.5 210.8 293.7 200.7 278.2 190.9 262.9 181.3 247.8 172 232.9 162.9 218.2 154 203.7 145.4 189.4 136.9 175.3 128.6 161.3 120.5 147.6 112.5 134 104.7M378.9 251.2 362.3 239.8 345.9 228.8 329.7 218.2 313.8 207.8 298 197.8 282.5 188 267.2 178.5 252.1 169.3 237.2 160.3 222.5 151.5 208 142.9 193.7 134.5 179.5 126.2 165.6 118.2 151.9 110.2 138.3 102.5M383.2 247.9 366.6 236.7 350.2 225.8 334 215.2 318.1 204.9 302.3 194.9 286.8 185.2 271.5 175.8 256.4 166.6 241.5 157.6 226.8 148.9 212.2 140.4 197.9 132 183.8 123.8 169.9 115.8 156.1 108 142.5 100.2M387.4 244.8 370.8 233.6 354.5 222.7 338.3 212.2 322.3 202 306.6 192.1 291.1 182.4 275.7 173 260.6 163.9 245.7 155 231 146.3 216.5 137.9 202.2 129.6 188.1 121.5 174.1 113.5 160.4 105.7 146.8 98.1M391.7 241.6 375.1 230.5 358.7 219.7 342.5 209.2 326.6 199.1 310.9 189.2 295.3 179.6 280 170.3 264.9 161.3 250 152.4 235.3 143.8 220.7 135.4 206.4 127.2 192.3 119.1 178.3 111.2 164.6 103.5 151 95.9M396 238.4 379.3 227.4 363 216.7 346.8 206.3 330.8 196.2 315.1 186.4 299.6 176.9 284.2 167.6 269.1 158.6 254.2 149.9 239.5 141.3 225 132.9 210.6 124.8 196.5 116.8 182.6 109 168.8 101.3 155.2 93.7M400.2 235.3 383.6 224.3 367.2 213.7 351 203.3 335.1 193.3 319.3 183.6 303.8 174.1 288.5 165 273.3 156 258.4 147.3 243.7 138.8 229.2 130.5 214.8 122.4 200.7 114.5 186.8 106.7 173 99.1 159.4 91.6M404.4 232.2 387.8 221.3 371.4 210.7 355.2 200.4 339.3 190.5 323.5 180.8 308 171.4 292.7 162.3 277.5 153.4 262.6 144.8 247.9 136.3 233.4 128.1 219 120.1 204.9 112.2 190.9 104.5 177.2 96.9 163.6 89.5M408.6 229.1 392 218.3 375.6 207.7 359.4 197.5 343.5 187.6 327.7 178 312.2 168.7 296.9 159.7 281.7 150.8 266.8 142.2 252.1 133.9 237.6 125.7 223.2 117.7 209.1 109.9 195.1 102.3 181.4 94.7 167.8 87.4M412.8 226.1 396.2 215.3 379.8 204.8 363.6 194.7 347.7 184.8 331.9 175.3 316.4 166 301 157 285.9 148.3 271 139.7 256.3 131.4 241.7 123.3 227.4 115.4 213.2 107.6 199.3 100.1 185.5 92.6 171.9 85.3M417 223 400.3 212.3 384 201.9 367.8 191.8 351.8 182 336.1 172.6 320.5 163.4 305.2 154.4 290.1 145.7 275.1 137.3 260.4 129 245.9 121 231.5 113.1 217.4 105.4 203.4 97.9 189.7 90.5 176.1 83.2M421.1 220 404.5 209.3 388.1 199 371.9 189 356 179.3 340.2 169.9 324.7 160.7 309.3 151.8 294.2 143.2 279.3 134.8 264.6 126.6 250 118.6 235.7 110.8 221.5 103.2 207.6 95.7 193.8 88.4 180.2 81.2M425.2 217 408.6 206.4 392.3 196.1 376.1 186.1 360.1 176.5 344.4 167.2 328.8 158.1 313.5 149.3 298.4 140.7 283.4 132.4 268.7 124.2 254.2 116.3 239.8 108.6 225.7 101 211.7 93.6 197.9 86.3 184.3 79.1M429.4 214 412.8 203.4 396.4 193.2 380.2 183.3 364.2 173.8 348.5 164.5 332.9 155.5 317.6 146.7 302.5 138.2 287.5 129.9 272.8 121.9 258.3 114 243.9 106.3 229.8 98.8 215.8 91.4 202 84.2 188.4 77.1M433.5 211 416.9 200.5 400.5 190.4 384.3 180.6 368.4 171.1 352.6 161.8 337.1 152.9 321.7 144.2 306.6 135.8 291.6 127.5 276.9 119.5 262.4 111.7 248 104.1 233.9 96.6 219.9 89.3 206.1 82.2 192.5 75.1M437.6 208 421 197.6 404.6 187.5 388.4 177.8 372.5 168.4 356.7 159.2 341.2 150.3 325.8 141.7 310.7 133.3 295.7 125.1 281 117.2 266.5 109.4 252.1 101.9 237.9 94.5 224 87.2 210.2 80.1 196.6 73.2M441.7 205.1 425.1 194.7 408.7 184.7 392.5 175.1 376.5 165.7 360.8 156.6 345.2 147.8 329.9 139.2 314.8 130.9 299.8 122.8 285.1 114.9 270.5 107.2 256.2 99.7 242 92.3 228 85.2 214.2 78.1 200.6 71.2M445.7 202.2 429.1 191.9 412.7 181.9 396.6 172.3 380.6 163 364.8 154 349.3 145.2 334 136.7 318.8 128.5 303.9 120.4 289.1 112.6 274.6 105 260.2 97.5 246.1 90.2 232.1 83.1 218.3 76.1 204.7 69.3M449.8 199.3 433.2 189 416.8 179.2 400.6 169.6 384.7 160.4 368.9 151.4 353.4 142.7 338 134.3 322.9 126.1 307.9 118.1 293.2 110.3 278.6 102.7 264.3 95.4 250.1 88.1 236.1 81.1 222.3 74.1 208.7 67.3M453.8 196.4 437.2 186.2 420.8 176.4 404.7 166.9 388.7 157.7 372.9 148.8 357.4 140.2 342 131.8 326.9 123.7 312 115.8 297.2 108.1 282.7 100.5 268.3 93.2 254.1 86.1 240.2 79 226.4 72.2 212.7 65.4M457.9 193.5 441.3 183.4 424.9 173.7 408.7 164.3 392.7 155.1 377 146.3 361.4 137.7 346.1 129.4 330.9 121.3 316 113.5 301.2 105.8 286.7 98.4 272.3 91.1 258.2 84 244.2 77 230.4 70.2 216.7 63.5M461.9 190.6 445.3 180.6 428.9 171 412.7 161.6 396.7 152.5 381 143.8 365.4 135.2 350.1 127 334.9 119 320 111.2 305.2 103.6 290.7 96.2 276.3 89 262.2 81.9 248.2 75.1 234.4 68.3 220.7 61.7M465.9 187.8 449.3 177.9 432.9 168.3 416.7 159 400.7 150 385 141.2 369.4 132.8 354.1 124.6 338.9 116.6 324 108.9 309.2 101.4 294.7 94.1 280.3 86.9 266.1 79.9 252.2 73.1 238.3 66.4 224.7 59.8M469.9 185 453.3 175.1 436.9 165.6 420.7 156.3 404.7 147.4 389 138.7 373.4 130.4 358.1 122.2 342.9 114.3 328 106.7 313.2 99.2 298.7 91.9 284.3 84.8 270.1 77.9 256.1 71.1 242.3 64.5 228.7 58M473.8 182.2 457.2 172.4 440.8 162.9 424.7 153.7 408.7 144.9 392.9 136.3 377.4 128 362 119.9 346.9 112 331.9 104.4 317.2 97 302.6 89.8 288.3 82.8 274.1 75.9 260.1 69.2 246.3 62.6 232.6 56.2M477.8 179.4 461.2 169.7 444.8 160.3 428.6 151.1 412.7 142.3 396.9 133.8 381.3 125.6 366 117.5 350.8 109.8 335.9 102.2 321.1 94.9 306.6 87.7 292.2 80.7 278 73.9 264 67.3 250.2 60.8 236.6 54.4M481.7 176.7 465.1 167 448.7 157.6 432.6 148.6 416.6 139.8 400.8 131.4 385.3 123.2 369.9 115.2 354.8 107.5 339.8 100 325.1 92.7 310.5 85.6 296.1 78.7 282 72 268 65.4 254.2 58.9 240.5 52.6M485.6 173.9 469.1 164.3 452.7 155 436.5 146 420.5 137.3 404.8 128.9 389.2 120.8 373.9 112.9 358.7 105.3 343.8 97.8 329 90.6 314.4 83.6 300.1 76.7 285.9 70 271.9 63.5 258.1 57.1 244.4 50.8M489.6 171.2 473 161.6 456.6 152.4 440.4 143.5 424.4 134.9 408.7 126.5 393.1 118.5 377.8 110.6 362.6 103.1 347.7 95.7 332.9 88.5 318.4 81.5 304 74.7 289.8 68.1 275.8 61.6 262 55.3 248.3 49.1M493.5 168.5 476.9 159 460.5 149.8 444.3 141 428.4 132.4 412.6 124.2 397 116.1 381.7 108.4 366.5 100.8 351.6 93.5 336.8 86.4 322.3 79.5 307.9 72.8 293.7 66.2 279.7 59.8 265.9 53.5 252.2 47.3M497.3 165.8 480.8 156.4 464.4 147.3 448.2 138.5 432.2 130 416.5 121.8 400.9 113.8 385.6 106.1 370.4 98.7 355.5 91.4 340.7 84.4 326.1 77.5 311.8 70.8 297.6 64.3 283.6 57.9 269.8 51.7 256.1 45.6M501.2 163.1 484.6 153.8 468.3 144.7 452.1 136 436.1 127.6 420.4 119.4 404.8 111.5 389.4 103.9 374.3 96.5 359.3 89.3 344.6 82.3 330 75.5 315.6 68.9 301.4 62.4 287.4 56.1 273.6 50 260 43.9M505.1 160.5 488.5 151.2 472.1 142.2 455.9 133.5 440 125.2 424.2 117.1 408.7 109.3 393.3 101.7 378.2 94.3 363.2 87.2 348.4 80.3 333.9 73.5 319.5 67 305.3 60.6 291.3 54.3 277.5 48.2 263.8 42.2M508.9 157.8 492.3 148.6 476 139.7 459.8 131.1 443.8 122.8 428.1 114.8 412.5 107 397.2 99.5 382 92.2 367 85.1 352.3 78.3 337.7 71.6 323.3 65.1 309.1 58.7 295.1 52.5 281.3 46.5 267.7 40.5M512.8 155.2 496.2 146 479.8 137.2 463.6 128.7 447.7 120.4 431.9 112.5 416.3 104.8 401 97.3 385.8 90.1 370.9 83.1 356.1 76.3 341.6 69.6 327.2 63.2 313 56.9 299 50.8 285.1 44.8 271.5 38.9M516.6 152.6 500 143.5 483.6 134.7 467.5 126.2 451.5 118.1 435.7 110.2 420.2 102.5 404.8 95.1 389.7 88 374.7 81 359.9 74.3 345.4 67.7 331 61.3 316.8 55.1 302.8 49 289 43.1 275.3 37.3M520.4 150 503.8 141 487.4 132.3 471.3 123.9 455.3 115.7 439.5 107.9 424 100.3 408.6 93 393.5 85.9 378.5 79 363.7 72.3 349.2 65.8 334.8 59.5 320.6 53.3 306.6 47.3 292.8 41.4 279.1 35.6M524.2 147.4 507.6 138.5 491.2 129.8 475.1 121.5 459.1 113.4 443.3 105.6 427.8 98.1 412.4 90.9 397.3 83.8 382.3 77 367.5 70.4 353 63.9 338.6 57.6 324.4 51.5 310.4 45.6 296.6 39.7 282.9 34M528 144.9 511.4 136 495 127.4 478.8 119.1 462.9 111.1 447.1 103.4 431.6 96 416.2 88.7 401.1 81.8 386.1 75 371.3 68.4 356.8 62 342.4 55.8 328.2 49.8 314.2 43.9 300.3 38.1 286.7 32.4M531.7 142.3 515.1 133.5 498.8 125 482.6 116.8 466.6 108.8 450.9 101.2 435.3 93.8 420 86.6 404.8 79.7 389.9 73 375.1 66.5 360.5 60.2 346.1 54 331.9 48 317.9 42.2 304.1 36.5 290.4 30.9M535.5 139.8 518.9 131 502.5 122.6 486.4 114.4 470.4 106.6 454.6 99 439.1 91.6 423.7 84.6 408.6 77.7 393.6 71 378.9 64.6 364.3 58.3 349.9 52.2 335.7 46.3 321.7 40.5 307.9 34.9 294.2 29.3M539.2 137.3 522.6 128.6 506.3 120.2 490.1 112.1 474.1 104.3 458.4 96.8 442.8 89.5 427.5 82.5 412.3 75.7 397.4 69.1 382.6 62.7 368 56.5 353.6 50.5 339.4 44.6 325.4 38.9 311.6 33.3 297.9 27.8M542.9 134.8 526.4 126.2 510 117.8 493.8 109.8 477.9 102.1 462.1 94.6 446.6 87.4 431.2 80.4 416.1 73.7 401.1 67.2 386.3 60.8 371.8 54.7 357.4 48.7 343.2 42.9 329.2 37.2 315.3 31.7 301.7 26.3M546.6 132.3 530.1 123.8 513.7 115.5 497.5 107.5 481.6 99.9 465.8 92.5 450.3 85.3 434.9 78.4 419.8 71.7 404.8 65.3 390 59 375.5 52.9 361.1 47 346.9 41.2 332.9 35.6 319 30.1 305.4 24.7M550.3 129.9 533.8 121.4 517.4 113.2 501.3 105.3 485.3 97.7 469.5 90.3 454 83.2 438.6 76.4 423.5 69.8 408.5 63.4 393.8 57.1 379.2 51.1 364.8 45.3 350.6 39.6 336.6 34 322.7 28.6 309.1 23.3M554 127.5 537.5 119 521.1 110.9 504.9 103 489 95.5 473.2 88.2 457.7 81.2 442.3 74.4 427.2 67.8 412.2 61.5 397.4 55.3 382.9 49.4 368.5 43.6 354.3 37.9 340.3 32.4 326.4 27 312.8 21.8M557.7 125 541.1 116.6 524.8 108.6 508.6 100.8 492.7 93.3 476.9 86.1 461.4 79.1 446 72.4 430.9 65.9 415.9 59.6 401.1 53.5 386.5 47.6 372.2 41.9 358 36.3 343.9 30.8 330.1 25.5 316.4 20.3M561.4 122.6 544.8 114.3 528.4 106.3 512.3 98.6 496.3 91.2 480.6 84 465 77.1 449.7 70.4 434.5 64 419.6 57.8 404.8 51.7 390.2 45.9 375.8 40.2 361.6 34.7 347.6 29.3 333.8 24 320.1 18.9M565 120.2 548.4 112 532.1 104 515.9 96.4 500 89 484.2 81.9 468.7 75.1 453.3 68.5 438.2 62.1 423.2 55.9 408.4 50 393.9 44.2 379.5 38.5 365.3 33.1 351.3 27.7 337.4 22.5 323.8 17.4M568.6 117.9 552.1 109.7 535.7 101.8 519.6 94.2 503.6 86.9 487.9 79.9 472.3 73.1 457 66.5 441.8 60.2 426.9 54.1 412.1 48.2 397.5 42.5 383.1 36.9 368.9 31.5 354.9 26.2 341.1 21.1 327.4 16M572.3 115.5 555.7 107.4 539.3 99.6 523.2 92 507.2 84.8 491.5 77.8 475.9 71.1 460.6 64.6 445.4 58.4 430.5 52.3 415.7 46.5 401.1 40.8 386.8 35.3 372.5 29.9 358.5 24.7 344.7 19.6 331 14.6M330.7 287.7 347.3 275 363.8 262.5 380 250.3 396 238.4 411.7 226.8 427.3 215.5 442.7 204.3 457.9 193.5 472.8 182.9 487.6 172.6 502.2 162.4 516.6 152.6 530.8 143 544.8 133.6 558.6 124.4 572.3 115.5M326.3 284.4 342.9 271.8 359.3 259.4 375.5 247.3 391.5 235.5 407.3 223.9 422.9 212.6 438.2 201.6 453.4 190.8 468.4 180.2 483.2 170 497.7 159.9 512.1 150.1 526.3 140.6 540.4 131.3 554.2 122.2 567.8 113.3M321.8 281.2 338.5 268.6 354.9 256.3 371.1 244.3 387.1 232.5 402.9 221 418.4 209.8 433.8 198.8 449 188.1 464 177.6 478.7 167.4 493.3 157.4 507.7 147.7 521.9 138.2 535.9 128.9 549.8 119.9 563.4 111.1M317.4 278 334 265.5 350.5 253.2 366.7 241.3 382.7 229.6 398.4 218.1 414 207 429.4 196.1 444.6 185.4 459.5 175 474.3 164.9 488.9 154.9 503.3 145.3 517.5 135.9 531.5 126.7 545.3 117.7 559 109M313 274.8 329.6 262.4 346.1 250.2 362.3 238.3 378.2 226.7 394 215.3 409.6 204.2 425 193.3 440.2 182.8 455.1 172.4 469.9 162.3 484.5 152.5 498.9 142.9 513.1 133.5 527.1 124.4 541 115.5 554.6 106.8M308.6 271.7 325.3 259.3 341.7 247.2 357.9 235.3 373.9 223.8 389.6 212.5 405.2 201.4 420.6 190.7 435.8 180.1 450.7 169.9 465.5 159.8 480.1 150.1 494.5 140.5 508.7 131.2 522.7 122.2 536.6 113.3 550.2 104.7M304.3 268.6 320.9 256.2 337.3 244.2 353.5 232.4 369.5 220.9 385.3 209.7 400.8 198.7 416.2 188 431.4 177.5 446.4 167.3 461.2 157.4 475.7 147.7 490.1 138.2 504.4 129 518.4 120 532.2 111.2 545.9 102.6M299.9 265.5 316.5 253.2 332.9 241.2 349.1 229.5 365.1 218.1 380.9 206.9 396.5 196 411.9 185.3 427 175 442 164.8 456.8 154.9 471.4 145.3 485.8 135.9 500 126.7 514 117.8 527.9 109.1 541.5 100.6M295.6 262.4 312.2 250.2 328.6 238.3 344.8 226.6 360.8 215.3 376.6 204.2 392.2 193.3 407.5 182.7 422.7 172.4 437.7 162.3 452.5 152.5 467.1 142.9 481.5 133.6 495.7 124.5 509.7 115.6 523.5 106.9 537.2 98.5M291.3 259.3 307.9 247.2 324.3 235.3 340.5 223.8 356.5 212.5 372.2 201.4 387.8 190.7 403.2 180.1 418.4 169.9 433.4 159.9 448.1 150.1 462.7 140.6 477.1 131.3 491.3 122.2 505.4 113.4 519.2 104.9 532.9 96.5M287 256.3 303.6 244.2 320 232.4 336.2 220.9 352.2 209.7 367.9 198.7 383.5 188 398.9 177.6 414.1 167.4 429 157.4 443.8 147.7 458.4 138.3 472.8 129 487 120.1 501.1 111.3 514.9 102.8 528.6 94.5M282.7 253.3 299.3 241.3 315.7 229.6 331.9 218.1 347.9 207 363.6 196 379.2 185.4 394.6 175 409.8 164.9 424.7 155 439.5 145.3 454.1 136 468.5 126.8 482.7 117.9 496.8 109.2 510.6 100.8 524.3 92.5M278.4 250.3 295 238.4 311.4 226.7 327.6 215.3 343.6 204.2 359.4 193.4 374.9 182.8 390.3 172.5 405.5 162.4 420.5 152.6 435.2 143 449.8 133.7 464.2 124.6 478.5 115.7 492.5 107.1 506.3 98.7 520 90.6M274.1 247.3 290.7 235.5 307.1 223.9 323.3 212.6 339.3 201.5 355.1 190.7 370.7 180.2 386 170 401.2 160 416.2 150.2 431 140.7 445.6 131.4 460 122.4 474.2 113.6 488.2 105 502.1 96.7 515.7 88.6M269.9 244.4 286.5 232.6 302.9 221.1 319.1 209.8 335.1 198.8 350.8 188.1 366.4 177.7 381.8 167.5 397 157.5 411.9 147.8 426.7 138.4 441.3 129.2 455.7 120.2 469.9 111.5 484 103 497.8 94.7 511.5 86.7M265.7 241.5 282.3 229.7 298.7 218.3 314.9 207.1 330.8 196.2 346.6 185.5 362.2 175.1 377.6 165 392.7 155.1 407.7 145.5 422.5 136.1 437.1 127 451.5 118.1 465.7 109.4 479.7 101 493.6 92.8 507.2 84.8M261.5 238.6 278.1 226.9 294.5 215.5 310.6 204.4 326.6 193.5 342.4 183 358 172.6 373.3 162.6 388.5 152.7 403.5 143.2 418.3 133.9 432.9 124.8 447.3 115.9 461.5 107.3 475.5 99 489.4 90.8 503 82.9M257.3 235.7 273.9 224.1 290.3 212.8 306.4 201.7 322.4 190.9 338.2 180.4 353.8 170.1 369.1 160.1 384.3 150.4 399.3 140.9 414.1 131.6 428.7 122.6 443.1 113.8 457.3 105.3 471.3 97 485.2 88.9 498.8 81M253.1 232.9 269.7 221.3 286.1 210 302.2 199.1 318.2 188.3 334 177.9 349.6 167.7 364.9 157.7 380.1 148 395.1 138.6 409.9 129.4 424.5 120.4 438.9 111.7 453.1 103.3 467.1 95 481 87 494.6 79.2M248.9 230 265.5 218.5 281.9 207.3 298.1 196.4 314.1 185.7 329.8 175.4 345.4 165.2 360.8 155.3 375.9 145.7 390.9 136.3 405.7 127.2 420.3 118.3 434.7 109.7 448.9 101.2 462.9 93.1 476.8 85.1 490.5 77.4M244.8 227.2 261.4 215.8 277.7 204.7 293.9 193.8 309.9 183.2 325.7 172.9 341.2 162.8 356.6 153 371.8 143.4 386.7 134.1 401.5 125 416.1 116.2 430.5 107.6 444.7 99.2 458.8 91.1 472.6 83.2 486.3 75.6M240.6 224.4 257.2 213.1 273.6 202 289.8 191.2 305.7 180.7 321.5 170.4 337.1 160.4 352.4 150.6 367.6 141.1 382.6 131.9 397.4 122.8 412 114.1 426.4 105.6 440.6 97.3 454.6 89.2 468.5 81.4 482.1 73.8M236.5 221.6 253.1 210.4 269.5 199.3 285.7 188.6 301.6 178.1 317.4 167.9 332.9 158 348.3 148.3 363.5 138.8 378.5 129.6 393.2 120.7 407.8 112 422.2 103.5 436.5 95.3 450.5 87.3 464.3 79.5 478 72M232.4 218.9 249 207.7 265.4 196.7 281.5 186 297.5 175.6 313.3 165.5 328.8 155.6 344.2 146 359.4 136.6 374.3 127.5 389.1 118.6 403.7 109.9 418.1 101.5 432.3 93.4 446.4 85.4 460.2 77.7 473.9 70.2M228.3 216.2 244.9 205 261.3 194.1 277.4 183.5 293.4 173.1 309.2 163.1 324.7 153.2 340.1 143.7 355.3 134.4 370.2 125.3 385 116.5 399.6 107.9 414 99.5 428.2 91.4 442.3 83.6 456.1 75.9 469.8 68.5M224.2 213.4 240.8 202.3 257.2 191.5 273.4 181 289.3 170.7 305.1 160.7 320.6 150.9 336 141.4 351.2 132.1 366.1 123.1 380.9 114.4 395.5 105.9 409.9 97.6 424.1 89.5 438.2 81.7 452 74.1 465.7 66.8M220.2 210.7 236.8 199.7 253.1 188.9 269.3 178.5 285.3 168.2 301 158.3 316.6 148.6 331.9 139.1 347.1 129.9 362.1 121 376.8 112.3 391.4 103.8 405.8 95.6 420.1 87.6 434.1 79.9 447.9 72.4 461.6 65M216.1 208.1 232.7 197.1 249.1 186.4 265.2 176 281.2 165.8 296.9 155.9 312.5 146.3 327.9 136.9 343 127.8 358 118.9 372.8 110.2 387.4 101.8 401.8 93.7 416 85.8 430 78.1 443.9 70.6 457.6 63.4M212.1 205.4 228.7 194.5 245 183.9 261.2 173.5 277.2 163.4 292.9 153.6 308.5 144 323.8 134.7 339 125.6 353.9 116.8 368.7 108.2 383.3 99.9 397.7 91.8 411.9 83.9 426 76.3 439.8 68.9 453.5 61.7M208.1 202.8 224.7 191.9 241 181.3 257.2 171 273.1 161 288.9 151.2 304.4 141.7 319.8 132.5 334.9 123.4 349.9 114.7 364.7 106.2 379.3 97.9 393.7 89.9 407.9 82.1 421.9 74.5 435.8 67.1 449.5 60M204.1 200.1 220.7 189.3 237 178.8 253.2 168.6 269.1 158.6 284.9 148.9 300.4 139.5 315.8 130.3 330.9 121.3 345.9 112.6 360.7 104.2 375.3 95.9 389.7 88 403.9 80.2 417.9 72.7 431.8 65.4 445.4 58.4M200.1 197.5 216.7 186.8 233 176.4 249.2 166.2 265.1 156.3 280.9 146.6 296.4 137.2 311.8 128.1 326.9 119.2 341.9 110.6 356.7 102.2 371.3 94 385.7 86.1 399.9 78.4 413.9 71 427.8 63.7 441.4 56.7M196.1 194.9 212.7 184.3 229 173.9 245.2 163.8 261.1 153.9 276.9 144.3 292.4 135 307.8 125.9 322.9 117.1 337.9 108.5 352.7 100.2 367.3 92.1 381.7 84.2 395.9 76.6 409.9 69.2 423.8 62.1 437.4 55.1M192.2 192.4 208.7 181.8 225.1 171.4 241.2 161.4 257.2 151.6 272.9 142.1 288.5 132.8 303.8 123.8 319 115 333.9 106.5 348.7 98.2 363.3 90.2 377.7 82.4 391.9 74.8 405.9 67.5 419.8 60.4 433.5 53.5M188.2 189.8 204.8 179.3 221.1 169 237.3 159 253.2 149.3 269 139.8 284.5 130.6 299.8 121.6 315 112.9 330 104.5 344.7 96.3 359.3 88.3 373.7 80.6 387.9 73.1 402 65.8 415.8 58.7 429.5 51.9M184.3 187.3 200.9 176.8 217.2 166.6 233.3 156.6 249.3 147 265 137.6 280.5 128.4 295.9 119.5 311 110.9 326 102.5 340.8 94.3 355.4 86.4 369.8 78.8 384 71.3 398 64.1 411.9 57.1 425.5 50.3M180.4 184.7 196.9 174.3 213.3 164.2 229.4 154.3 245.3 144.7 261.1 135.4 276.6 126.3 292 117.4 307.1 108.8 322.1 100.5 336.8 92.4 351.4 84.6 365.8 76.9 380 69.6 394.1 62.4 407.9 55.5 421.6 48.8M176.5 182.2 193 171.9 209.4 161.8 225.5 152 241.4 142.4 257.2 133.1 272.7 124.1 288 115.3 303.2 106.8 318.2 98.5 332.9 90.5 347.5 82.7 361.9 75.2 376.1 67.8 390.1 60.7 404 53.9 417.7 47.2M172.6 179.7 189.2 169.4 205.5 159.4 221.6 149.7 237.5 140.2 253.3 131 268.8 122 284.1 113.3 299.3 104.8 314.2 96.6 329 88.6 343.6 80.9 358 73.4 372.2 66.1 386.2 59.1 400.1 52.3 413.8 45.7M168.8 177.2 185.3 167 201.6 157 217.7 147.4 233.7 137.9 249.4 128.8 264.9 119.9 280.2 111.2 295.4 102.8 310.3 94.7 325.1 86.7 339.7 79.1 354.1 71.6 368.3 64.4 382.3 57.4 396.2 50.7 409.9 44.2M164.9 174.8 181.4 164.6 197.7 154.7 213.9 145.1 229.8 135.7 245.5 126.6 261 117.8 276.4 109.2 291.5 100.8 306.5 92.7 321.2 84.9 335.8 77.3 350.2 69.9 364.4 62.7 378.4 55.8 392.3 49.1 406 42.7M161.1 172.3 177.6 162.2 193.9 152.4 210 142.8 225.9 133.5 241.6 124.5 257.2 115.7 272.5 107.1 287.6 98.9 302.6 90.8 317.4 83 331.9 75.5 346.3 68.1 360.5 61.1 374.6 54.2 388.4 47.6 402.1 41.1M157.2 169.9 173.7 159.8 190.1 150 206.2 140.5 222.1 131.3 237.8 122.3 253.3 113.6 268.7 105.1 283.8 96.9 298.7 88.9 313.5 81.2 328.1 73.7 342.5 66.4 356.7 59.4 370.7 52.6 384.6 46 398.2 39.7M153.4 167.4 169.9 157.5 186.2 147.7 202.3 138.3 218.3 129.1 234 120.2 249.5 111.5 264.8 103.1 280 94.9 294.9 87 309.7 79.4 324.2 71.9 338.6 64.7 352.8 57.7 366.9 51 380.7 44.5 394.4 38.2M149.6 165 166.1 155.1 182.4 145.5 198.5 136.1 214.4 126.9 230.2 118.1 245.7 109.5 261 101.1 276.1 93 291.1 85.2 305.8 77.5 320.4 70.2 334.8 63 349 56.1 363 49.4 376.9 43 390.6 36.7M145.8 162.6 162.3 152.8 178.6 143.2 194.7 133.8 210.6 124.8 226.4 116 241.9 107.4 257.2 99.1 272.3 91.1 287.3 83.3 302 75.7 316.6 68.4 331 61.3 345.2 54.5 359.2 47.8 373.1 41.4 386.8 35.3M142 160.2 158.5 150.4 174.8 140.9 190.9 131.6 206.9 122.6 222.6 113.9 238.1 105.4 253.4 97.2 268.5 89.2 283.5 81.4 298.2 73.9 312.8 66.7 327.2 59.7 341.4 52.9 355.4 46.3 369.3 39.9 382.9 33.8M138.3 157.9 154.8 148.1 171.1 138.6 187.2 129.4 203.1 120.5 218.8 111.8 234.3 103.4 249.6 95.2 264.7 87.3 279.7 79.6 294.4 72.2 309 65 323.4 58 337.6 51.3 351.6 44.7 365.5 38.5 379.2 32.4M134.5 155.5 151 145.8 167.3 136.4 183.4 127.3 199.3 118.4 215 109.8 230.5 101.4 245.8 93.3 261 85.4 275.9 77.8 290.7 70.4 305.2 63.2 319.6 56.3 333.8 49.7 347.9 43.2 361.7 37 375.4 31M130.8 153.2 147.3 143.5 163.6 134.2 179.7 125.1 195.6 116.3 211.3 107.7 226.8 99.4 242.1 91.3 257.2 83.5 272.2 76 286.9 68.6 301.5 61.5 315.9 54.7 330.1 48.1 344.1 41.7 357.9 35.5 371.6 29.6M127.1 150.8 143.6 141.3 159.9 132 175.9 122.9 191.8 114.2 207.5 105.7 223 97.4 238.3 89.4 253.5 81.7 268.4 74.1 283.2 66.9 297.7 59.9 312.1 53.1 326.3 46.5 340.3 40.2 354.2 34 367.9 28.2M123.4 148.5 139.9 139 156.1 129.7 172.2 120.8 188.1 112.1 203.8 103.6 219.3 95.4 234.6 87.5 249.7 79.8 264.7 72.4 279.4 65.1 294 58.2 308.4 51.4 322.6 44.9 336.6 38.7 350.4 32.6 364.1 26.8M119.7 146.2 136.2 136.7 152.4 127.6 168.5 118.6 184.4 110 200.1 101.6 215.6 93.5 230.9 85.6 246 78 261 70.6 275.7 63.4 290.3 56.5 304.6 49.8 318.8 43.4 332.9 37.2 346.7 31.2 360.4 25.4M116 143.9 132.5 134.5 148.8 125.4 164.8 116.5 180.7 107.9 196.4 99.6 211.9 91.5 227.2 83.7 242.3 76.1 257.2 68.8 272 61.7 286.6 54.8 300.9 48.2 315.1 41.8 329.2 35.7 343 29.7 356.7 24M112.3 141.6 128.8 132.2 145.1 123.2 161.2 114.4 177 105.9 192.7 97.6 208.2 89.6 223.5 81.8 238.6 74.3 253.6 67 268.3 60 282.9 53.2 297.2 46.6 311.4 40.3 325.5 34.2 339.3 28.3 353 22.6M108.7 139.3 125.2 130 141.4 121 157.5 112.3 173.4 103.8 189 95.6 204.5 87.7 219.8 79.9 234.9 72.5 249.9 65.3 264.6 58.3 279.2 51.6 293.6 45 307.7 38.8 321.8 32.7 335.6 26.9 349.3 21.3M105 137 121.5 127.8 137.8 118.9 153.8 110.2 169.7 101.8 185.4 93.6 200.9 85.7 216.2 78.1 231.3 70.7 246.2 63.5 260.9 56.6 275.5 49.9 289.9 43.5 304.1 37.3 318.1 31.3 331.9 25.5 345.6 19.9M101.4 134.8 117.9 125.6 134.1 116.7 150.2 108.1 166.1 99.8 181.7 91.7 197.2 83.8 212.5 76.2 227.6 68.9 242.5 61.8 257.3 54.9 271.8 48.3 286.2 41.9 300.4 35.7 314.4 29.8 328.3 24.1 341.9 18.6M97.8 132.5 114.3 123.4 130.5 114.6 146.6 106 162.4 97.7 178.1 89.7 193.6 81.9 208.9 74.4 224 67.1 238.9 60.1 253.6 53.2 268.2 46.7 282.6 40.3 296.8 34.2 310.8 28.4 324.6 22.7 338.3 17.3M94.2 130.3 110.7 121.2 126.9 112.5 143 104 158.8 95.7 174.5 87.7 190 80 205.3 72.5 220.4 65.3 235.3 58.3 250 51.6 264.6 45.1 278.9 38.8 293.1 32.7 307.1 26.9 321 21.3 334.7 15.9M90.6 128 107.1 119 123.3 110.3 139.4 101.9 155.2 93.7 170.9 85.8 186.4 78.1 201.6 70.7 216.7 63.5 231.7 56.6 246.4 49.9 260.9 43.5 275.3 37.3 289.5 31.3 303.5 25.5 317.4 20 331 14.6"/>
<path stroke="#222" stroke-width="0.9" d="M329.9 93V123.6"/>
<ellipse cx="329.9" cy="123.6" rx="2.9" ry="1.9" fill="#f4b8c4" stroke="#7a5a60" stroke-width="0.6"/>
<path stroke="#443" stroke-width="0.8" d="M330.5 121.8V125.4"/>
<ellipse cx="329.9" cy="104.3" rx="3.5" ry="2.5" fill="#ff0000" stroke="#800000" stroke-width="0.7"/>
<ellipse cx="329.9" cy="93" rx="3.5" ry="2.5" fill="#ff0000" stroke="#800000" stroke-width="0.7"/>
<path fill="none" stroke="#111" stroke-width="1.6" d="M85.2 44.9 L82.7 44.9M88 87.7 L85.5 87.7M90.8 130.5 L88.3 130.5M93.6 173.3 L91.1 173.3M96.3 216.1 L93.8 216.1M99 270.4 L100.6 270M156.7 290.1 L158.3 289.7M214.4 309.8 L216 309.4M272.1 329.5 L273.7 329.1M329.7 349.2 L331.3 348.8M329.7 348.8 L331.3 349.2M387.4 329.2 L389 329.6M445.1 309.5 L446.7 309.9M502.8 289.9 L504.4 290.3M560.5 270.3 L562.1 270.7"/>
<g font-size="11.3" fill="#1c1c1c" stroke="#1c1c1c" stroke-width="0.12">
<text transform="translate(75.6 56.4) scale(1.5 1)" text-anchor="end">94</text>
<text transform="translate(78.4 99.2) scale(1.5 1)" text-anchor="end">90</text>
<text transform="translate(81.2 142) scale(1.5 1)" text-anchor="end">86</text>
<text transform="translate(84 184.8) scale(1.5 1)" text-anchor="end">82</text>
<text transform="translate(86.7 227.6) scale(1.5 1)" text-anchor="end">78</text>
<text transform="translate(91.2 281.2) scale(1.5 1)" text-anchor="end">3.00</text>
<text transform="translate(148.9 300.9) scale(1.5 1)" text-anchor="end">2.50</text>
<text transform="translate(206.6 320.6) scale(1.5 1)" text-anchor="end">2.00</text>
<text transform="translate(264.3 340.3) scale(1.5 1)" text-anchor="end">1.50</text>
<text transform="translate(321.9 360) scale(1.5 1)" text-anchor="end">1.00</text>
<text transform="translate(339.1 360) scale(1.5 1)">40.00</text>
<text transform="translate(396.8 340.4) scale(1.5 1)">45.00</text>
<text transform="translate(454.5 320.7) scale(1.5 1)">50.00</text>
<text transform="translate(512.2 301.1) scale(1.5 1)">55.00</text>
<text transform="translate(569.9 281.5) scale(1.5 1)">60.00</text>
</g>
<text class="t" style="stroke-width:0.25px" transform="translate(161.4 358.6) scale(1.484 1.05)">Z: Time</text>
<text class="t" style="stroke-width:0.25px" transform="translate(434.9 358.6) scale(1.456 1.05)">Y: Temperature</text>
<text class="t" transform="translate(20.3 238.5) rotate(-90) scale(1.057 1.5)" style="font-size:15.7px">Entrapment Efficiency</text>
<rect x="5.4" y="-2.7" width="42.2" height="23" fill="none" stroke="#666" stroke-width="1.3"/>
<text class="s" transform="translate(26.6 13.7) scale(1.37 1)" text-anchor="middle">c</text>
</g>
</svg>
</body></html>
